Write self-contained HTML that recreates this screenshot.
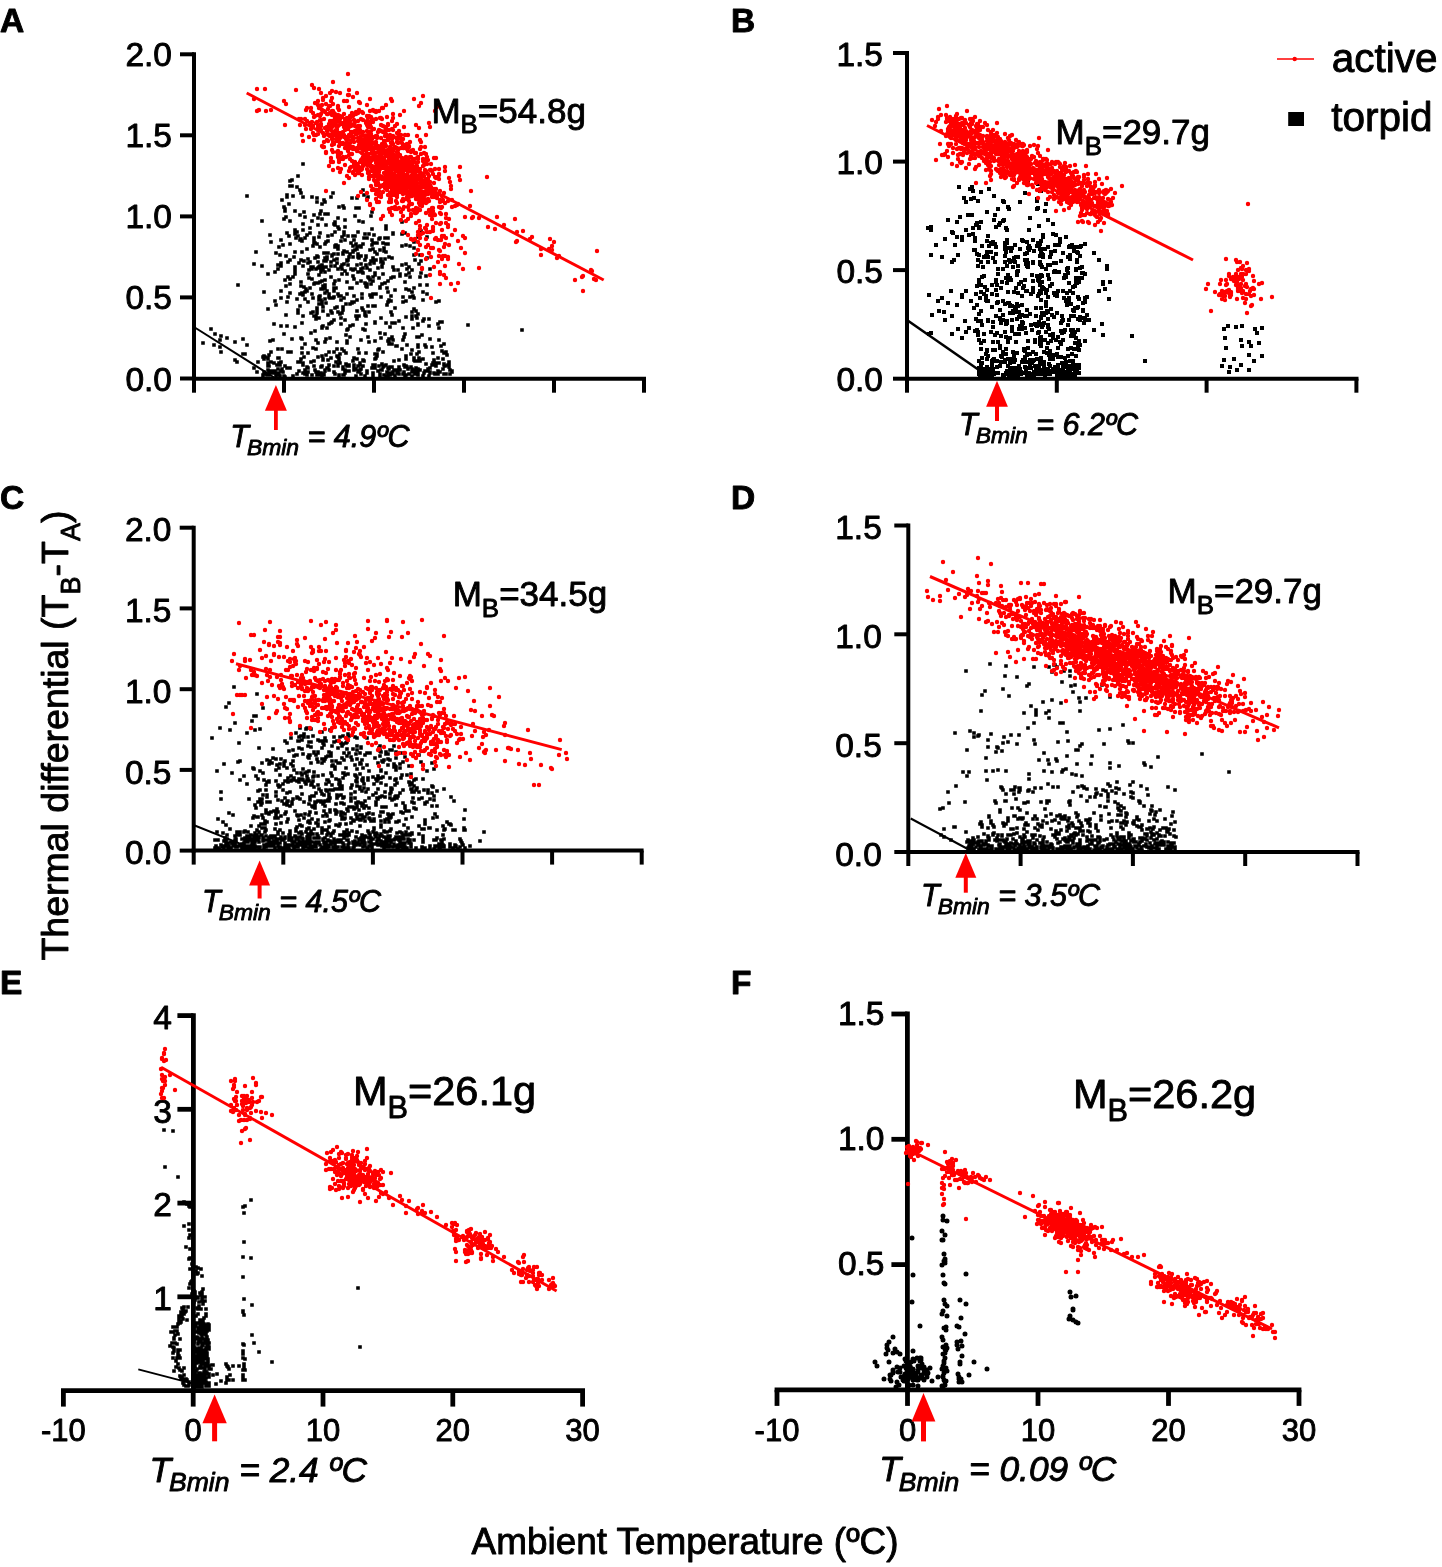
<!DOCTYPE html>
<html><head><meta charset="utf-8"><style>
html,body{margin:0;padding:0;background:#fff;width:1442px;height:1567px;overflow:hidden}
svg{display:block;will-change:transform}
text{font-family:"Liberation Sans", sans-serif;stroke:#000;stroke-width:0.9px;stroke-linejoin:round}
</style></head><body>
<svg width="1442" height="1567" viewBox="0 0 1442 1567" font-family='"Liberation Sans", sans-serif'><text x="0.0" y="31.5" font-size="33.5" text-anchor="start" font-weight="bold" font-style="normal" fill="#000" >A</text>
<line x1="194.0" y1="52.3" x2="194.0" y2="380.7" stroke="#000" stroke-width="4" stroke-linecap="butt"/>
<line x1="192.0" y1="378.7" x2="646.0" y2="378.7" stroke="#000" stroke-width="4" stroke-linecap="butt"/>
<line x1="180.0" y1="54.3" x2="194.0" y2="54.3" stroke="#000" stroke-width="4" stroke-linecap="butt"/>
<line x1="180.0" y1="135.3" x2="194.0" y2="135.3" stroke="#000" stroke-width="4" stroke-linecap="butt"/>
<line x1="180.0" y1="216.4" x2="194.0" y2="216.4" stroke="#000" stroke-width="4" stroke-linecap="butt"/>
<line x1="180.0" y1="297.4" x2="194.0" y2="297.4" stroke="#000" stroke-width="4" stroke-linecap="butt"/>
<line x1="180.0" y1="378.5" x2="194.0" y2="378.5" stroke="#000" stroke-width="4" stroke-linecap="butt"/>
<line x1="194.0" y1="378.7" x2="194.0" y2="392.7" stroke="#000" stroke-width="4" stroke-linecap="butt"/>
<line x1="284.0" y1="378.7" x2="284.0" y2="392.7" stroke="#000" stroke-width="4" stroke-linecap="butt"/>
<line x1="374.0" y1="378.7" x2="374.0" y2="392.7" stroke="#000" stroke-width="4" stroke-linecap="butt"/>
<line x1="464.0" y1="378.7" x2="464.0" y2="392.7" stroke="#000" stroke-width="4" stroke-linecap="butt"/>
<line x1="554.0" y1="378.7" x2="554.0" y2="392.7" stroke="#000" stroke-width="4" stroke-linecap="butt"/>
<line x1="644.0" y1="378.7" x2="644.0" y2="392.7" stroke="#000" stroke-width="4" stroke-linecap="butt"/>
<text x="172.0" y="66.3" font-size="33.5" text-anchor="end" font-weight="normal" font-style="normal" fill="#000" >2.0</text>
<text x="172.0" y="147.3" font-size="33.5" text-anchor="end" font-weight="normal" font-style="normal" fill="#000" >1.5</text>
<text x="172.0" y="228.4" font-size="33.5" text-anchor="end" font-weight="normal" font-style="normal" fill="#000" >1.0</text>
<text x="172.0" y="309.4" font-size="33.5" text-anchor="end" font-weight="normal" font-style="normal" fill="#000" >0.5</text>
<text x="172.0" y="390.5" font-size="33.5" text-anchor="end" font-weight="normal" font-style="normal" fill="#000" >0.0</text>
<text x="731.0" y="31.5" font-size="33.5" text-anchor="start" font-weight="bold" font-style="normal" fill="#000" >B</text>
<line x1="907.0" y1="51.0" x2="907.0" y2="380.7" stroke="#000" stroke-width="4" stroke-linecap="butt"/>
<line x1="905.0" y1="378.7" x2="1358.5" y2="378.7" stroke="#000" stroke-width="4" stroke-linecap="butt"/>
<line x1="893.0" y1="53.0" x2="907.0" y2="53.0" stroke="#000" stroke-width="4" stroke-linecap="butt"/>
<line x1="893.0" y1="161.6" x2="907.0" y2="161.6" stroke="#000" stroke-width="4" stroke-linecap="butt"/>
<line x1="893.0" y1="270.1" x2="907.0" y2="270.1" stroke="#000" stroke-width="4" stroke-linecap="butt"/>
<line x1="893.0" y1="378.7" x2="907.0" y2="378.7" stroke="#000" stroke-width="4" stroke-linecap="butt"/>
<line x1="907.0" y1="378.7" x2="907.0" y2="392.7" stroke="#000" stroke-width="4" stroke-linecap="butt"/>
<line x1="1056.8" y1="378.7" x2="1056.8" y2="392.7" stroke="#000" stroke-width="4" stroke-linecap="butt"/>
<line x1="1206.6" y1="378.7" x2="1206.6" y2="392.7" stroke="#000" stroke-width="4" stroke-linecap="butt"/>
<line x1="1356.4" y1="378.7" x2="1356.4" y2="392.7" stroke="#000" stroke-width="4" stroke-linecap="butt"/>
<text x="883.0" y="65.7" font-size="33.5" text-anchor="end" font-weight="normal" font-style="normal" fill="#000" >1.5</text>
<text x="883.0" y="174.3" font-size="33.5" text-anchor="end" font-weight="normal" font-style="normal" fill="#000" >1.0</text>
<text x="883.0" y="282.8" font-size="33.5" text-anchor="end" font-weight="normal" font-style="normal" fill="#000" >0.5</text>
<text x="883.0" y="391.4" font-size="33.5" text-anchor="end" font-weight="normal" font-style="normal" fill="#000" >0.0</text>
<text x="0.0" y="509.0" font-size="33.5" text-anchor="start" font-weight="bold" font-style="normal" fill="#000" >C</text>
<line x1="193.7" y1="525.7" x2="193.7" y2="852.6" stroke="#000" stroke-width="4" stroke-linecap="butt"/>
<line x1="191.7" y1="850.6" x2="643.6" y2="850.6" stroke="#000" stroke-width="4" stroke-linecap="butt"/>
<line x1="179.7" y1="527.7" x2="193.7" y2="527.7" stroke="#000" stroke-width="4" stroke-linecap="butt"/>
<line x1="179.7" y1="608.4" x2="193.7" y2="608.4" stroke="#000" stroke-width="4" stroke-linecap="butt"/>
<line x1="179.7" y1="689.2" x2="193.7" y2="689.2" stroke="#000" stroke-width="4" stroke-linecap="butt"/>
<line x1="179.7" y1="769.9" x2="193.7" y2="769.9" stroke="#000" stroke-width="4" stroke-linecap="butt"/>
<line x1="179.7" y1="850.6" x2="193.7" y2="850.6" stroke="#000" stroke-width="4" stroke-linecap="butt"/>
<line x1="193.7" y1="850.6" x2="193.7" y2="864.6" stroke="#000" stroke-width="4" stroke-linecap="butt"/>
<line x1="283.3" y1="850.6" x2="283.3" y2="864.6" stroke="#000" stroke-width="4" stroke-linecap="butt"/>
<line x1="372.9" y1="850.6" x2="372.9" y2="864.6" stroke="#000" stroke-width="4" stroke-linecap="butt"/>
<line x1="462.5" y1="850.6" x2="462.5" y2="864.6" stroke="#000" stroke-width="4" stroke-linecap="butt"/>
<line x1="552.1" y1="850.6" x2="552.1" y2="864.6" stroke="#000" stroke-width="4" stroke-linecap="butt"/>
<line x1="641.7" y1="850.6" x2="641.7" y2="864.6" stroke="#000" stroke-width="4" stroke-linecap="butt"/>
<text x="171.5" y="541.4" font-size="33.5" text-anchor="end" font-weight="normal" font-style="normal" fill="#000" >2.0</text>
<text x="171.5" y="622.1" font-size="33.5" text-anchor="end" font-weight="normal" font-style="normal" fill="#000" >1.5</text>
<text x="171.5" y="702.9" font-size="33.5" text-anchor="end" font-weight="normal" font-style="normal" fill="#000" >1.0</text>
<text x="171.5" y="783.6" font-size="33.5" text-anchor="end" font-weight="normal" font-style="normal" fill="#000" >0.5</text>
<text x="171.5" y="864.3" font-size="33.5" text-anchor="end" font-weight="normal" font-style="normal" fill="#000" >0.0</text>
<text x="731.0" y="508.5" font-size="33.5" text-anchor="start" font-weight="bold" font-style="normal" fill="#000" >D</text>
<line x1="908.3" y1="523.5" x2="908.3" y2="854.0" stroke="#000" stroke-width="4" stroke-linecap="butt"/>
<line x1="906.3" y1="852.0" x2="1359.5" y2="852.0" stroke="#000" stroke-width="4" stroke-linecap="butt"/>
<line x1="894.3" y1="525.5" x2="908.3" y2="525.5" stroke="#000" stroke-width="4" stroke-linecap="butt"/>
<line x1="894.3" y1="634.3" x2="908.3" y2="634.3" stroke="#000" stroke-width="4" stroke-linecap="butt"/>
<line x1="894.3" y1="743.2" x2="908.3" y2="743.2" stroke="#000" stroke-width="4" stroke-linecap="butt"/>
<line x1="894.3" y1="852.0" x2="908.3" y2="852.0" stroke="#000" stroke-width="4" stroke-linecap="butt"/>
<line x1="908.3" y1="852.0" x2="908.3" y2="866.0" stroke="#000" stroke-width="4" stroke-linecap="butt"/>
<line x1="1020.6" y1="852.0" x2="1020.6" y2="866.0" stroke="#000" stroke-width="4" stroke-linecap="butt"/>
<line x1="1132.9" y1="852.0" x2="1132.9" y2="866.0" stroke="#000" stroke-width="4" stroke-linecap="butt"/>
<line x1="1245.2" y1="852.0" x2="1245.2" y2="866.0" stroke="#000" stroke-width="4" stroke-linecap="butt"/>
<line x1="1357.5" y1="852.0" x2="1357.5" y2="866.0" stroke="#000" stroke-width="4" stroke-linecap="butt"/>
<text x="881.8" y="539.0" font-size="33.5" text-anchor="end" font-weight="normal" font-style="normal" fill="#000" >1.5</text>
<text x="881.8" y="647.8" font-size="33.5" text-anchor="end" font-weight="normal" font-style="normal" fill="#000" >1.0</text>
<text x="881.8" y="756.7" font-size="33.5" text-anchor="end" font-weight="normal" font-style="normal" fill="#000" >0.5</text>
<text x="881.8" y="865.5" font-size="33.5" text-anchor="end" font-weight="normal" font-style="normal" fill="#000" >0.0</text>
<text x="0.0" y="993.5" font-size="33.5" text-anchor="start" font-weight="bold" font-style="normal" fill="#000" >E</text>
<line x1="193.4" y1="1013.2" x2="193.4" y2="1393.0" stroke="#000" stroke-width="4.8" stroke-linecap="butt"/>
<line x1="61.0" y1="1390.6" x2="585.0" y2="1390.6" stroke="#000" stroke-width="4.8" stroke-linecap="butt"/>
<line x1="177.4" y1="1015.6" x2="193.4" y2="1015.6" stroke="#000" stroke-width="4.8" stroke-linecap="butt"/>
<line x1="177.4" y1="1109.3" x2="193.4" y2="1109.3" stroke="#000" stroke-width="4.8" stroke-linecap="butt"/>
<line x1="177.4" y1="1203.1" x2="193.4" y2="1203.1" stroke="#000" stroke-width="4.8" stroke-linecap="butt"/>
<line x1="177.4" y1="1296.8" x2="193.4" y2="1296.8" stroke="#000" stroke-width="4.8" stroke-linecap="butt"/>
<line x1="63.4" y1="1390.6" x2="63.4" y2="1406.6" stroke="#000" stroke-width="4.8" stroke-linecap="butt"/>
<line x1="193.2" y1="1390.6" x2="193.2" y2="1406.6" stroke="#000" stroke-width="4.8" stroke-linecap="butt"/>
<line x1="323.0" y1="1390.6" x2="323.0" y2="1406.6" stroke="#000" stroke-width="4.8" stroke-linecap="butt"/>
<line x1="452.8" y1="1390.6" x2="452.8" y2="1406.6" stroke="#000" stroke-width="4.8" stroke-linecap="butt"/>
<line x1="582.6" y1="1390.6" x2="582.6" y2="1406.6" stroke="#000" stroke-width="4.8" stroke-linecap="butt"/>
<text x="172.0" y="1028.9" font-size="33.5" text-anchor="end" font-weight="normal" font-style="normal" fill="#000" >4</text>
<text x="172.0" y="1122.6" font-size="33.5" text-anchor="end" font-weight="normal" font-style="normal" fill="#000" >3</text>
<text x="172.0" y="1216.4" font-size="33.5" text-anchor="end" font-weight="normal" font-style="normal" fill="#000" >2</text>
<text x="172.0" y="1310.1" font-size="33.5" text-anchor="end" font-weight="normal" font-style="normal" fill="#000" >1</text>
<text x="63.4" y="1440.6" font-size="31" text-anchor="middle" font-weight="normal" font-style="normal" fill="#000" >-10</text>
<text x="193.2" y="1440.6" font-size="31" text-anchor="middle" font-weight="normal" font-style="normal" fill="#000" >0</text>
<text x="323.0" y="1440.6" font-size="31" text-anchor="middle" font-weight="normal" font-style="normal" fill="#000" >10</text>
<text x="452.8" y="1440.6" font-size="31" text-anchor="middle" font-weight="normal" font-style="normal" fill="#000" >20</text>
<text x="582.6" y="1440.6" font-size="31" text-anchor="middle" font-weight="normal" font-style="normal" fill="#000" >30</text>
<text x="731.0" y="993.5" font-size="33.5" text-anchor="start" font-weight="bold" font-style="normal" fill="#000" >F</text>
<line x1="907.4" y1="1011.6" x2="907.4" y2="1392.3" stroke="#000" stroke-width="4.8" stroke-linecap="butt"/>
<line x1="774.6" y1="1389.9" x2="1301.4" y2="1389.9" stroke="#000" stroke-width="4.8" stroke-linecap="butt"/>
<line x1="891.4" y1="1014.0" x2="907.4" y2="1014.0" stroke="#000" stroke-width="4.8" stroke-linecap="butt"/>
<line x1="891.4" y1="1139.3" x2="907.4" y2="1139.3" stroke="#000" stroke-width="4.8" stroke-linecap="butt"/>
<line x1="891.4" y1="1264.6" x2="907.4" y2="1264.6" stroke="#000" stroke-width="4.8" stroke-linecap="butt"/>
<line x1="777.0" y1="1389.9" x2="777.0" y2="1405.9" stroke="#000" stroke-width="4.8" stroke-linecap="butt"/>
<line x1="907.5" y1="1389.9" x2="907.5" y2="1405.9" stroke="#000" stroke-width="4.8" stroke-linecap="butt"/>
<line x1="1038.0" y1="1389.9" x2="1038.0" y2="1405.9" stroke="#000" stroke-width="4.8" stroke-linecap="butt"/>
<line x1="1168.5" y1="1389.9" x2="1168.5" y2="1405.9" stroke="#000" stroke-width="4.8" stroke-linecap="butt"/>
<line x1="1299.0" y1="1389.9" x2="1299.0" y2="1405.9" stroke="#000" stroke-width="4.8" stroke-linecap="butt"/>
<text x="884.5" y="1024.6" font-size="33.5" text-anchor="end" font-weight="normal" font-style="normal" fill="#000" >1.5</text>
<text x="884.5" y="1149.9" font-size="33.5" text-anchor="end" font-weight="normal" font-style="normal" fill="#000" >1.0</text>
<text x="884.5" y="1275.2" font-size="33.5" text-anchor="end" font-weight="normal" font-style="normal" fill="#000" >0.5</text>
<text x="777.0" y="1441.4" font-size="31" text-anchor="middle" font-weight="normal" font-style="normal" fill="#000" >-10</text>
<text x="907.5" y="1441.4" font-size="31" text-anchor="middle" font-weight="normal" font-style="normal" fill="#000" >0</text>
<text x="1038.0" y="1441.4" font-size="31" text-anchor="middle" font-weight="normal" font-style="normal" fill="#000" >10</text>
<text x="1168.5" y="1441.4" font-size="31" text-anchor="middle" font-weight="normal" font-style="normal" fill="#000" >20</text>
<text x="1299.0" y="1441.4" font-size="31" text-anchor="middle" font-weight="normal" font-style="normal" fill="#000" >30</text>
<path d="M297 187h0M303 164h0M298 176h0M300 190h0M290 181h0M292 186h0M292 180h0M290 186h0M325 202h0M312 221h0M359 221h0M325 214h0M326 225h0M317 198h0M282 200h0M338 227h0M303 224h0M352 198h0M364 195h0M355 216h0M344 208h0M363 190h0M304 212h0M367 199h0M286 217h0M321 211h0M290 221h0M356 208h0M335 225h0M285 211h0M303 197h0M295 211h0M322 204h0M284 219h0M368 197h0M335 222h0M289 204h0M372 212h0M317 202h0M359 208h0M363 222h0M328 214h0M284 207h0M345 227h0M343 206h0M285 209h0M339 229h0M318 218h0M333 193h0M312 197h0M287 197h0M334 224h0M339 207h0M314 215h0M318 225h0M345 220h0M322 219h0M310 228h0M324 200h0M371 216h0M386 229h0M372 229h0M287 195h0M301 193h0M293 196h0M357 198h0M338 218h0M331 197h0M334 284h0M349 257h0M325 299h0M313 267h0M412 312h0M312 279h0M325 280h0M337 247h0M327 259h0M330 298h0M359 258h0M325 285h0M379 278h0M318 262h0M286 256h0M303 293h0M315 283h0M310 262h0M335 281h0M332 313h0M383 274h0M256 252h0M362 308h0M394 277h0M276 253h0M338 312h0M326 267h0M410 297h0M356 244h0M380 287h0M308 274h0M341 267h0M323 270h0M268 309h0M318 268h0M314 240h0M312 269h0M300 215h0M238 285h0M341 296h0M402 234h0M352 288h0M343 253h0M326 253h0M343 307h0M299 263h0M383 243h0M421 231h0M314 238h0M320 296h0M370 270h0M311 267h0M339 296h0M288 277h0M362 272h0M295 267h0M321 272h0M298 236h0M382 267h0M308 259h0M365 260h0M288 262h0M323 289h0M329 270h0M335 266h0M348 236h0M370 295h0M331 277h0M351 269h0M402 265h0M325 244h0M254 264h0M373 249h0M315 258h0M323 267h0M325 272h0M300 240h0M388 302h0M358 254h0M262 266h0M350 288h0M329 294h0M391 312h0M361 256h0M427 237h0M337 259h0M353 252h0M376 260h0M354 279h0M373 306h0M347 261h0M367 285h0M319 267h0M344 232h0M386 252h0M338 254h0M371 297h0M381 259h0M325 293h0M366 256h0M331 323h0M334 254h0M426 276h0M317 310h0M393 277h0M380 288h0M320 282h0M369 234h0M332 256h0M287 233h0M354 240h0M375 275h0M361 281h0M323 286h0M373 277h0M355 236h0M381 262h0M358 272h0M262 221h0M355 269h0M367 287h0M347 252h0M386 226h0M326 267h0M295 273h0M353 246h0M345 271h0M348 265h0M358 232h0M415 260h0M309 278h0M319 275h0M363 310h0M290 293h0M305 217h0M280 255h0M360 246h0M264 292h0M358 257h0M388 292h0M427 294h0M340 314h0M324 261h0M370 264h0M353 251h0M347 282h0M297 299h0M275 272h0M271 242h0M353 257h0M331 262h0M368 277h0M347 294h0M325 288h0M313 298h0M355 250h0M382 284h0M381 297h0M308 263h0M316 269h0M281 291h0M302 241h0M323 307h0M337 307h0M341 241h0M342 237h0M366 286h0M363 268h0M361 271h0M378 268h0M307 249h0M369 278h0M294 257h0M314 316h0M407 269h0M328 241h0M338 269h0M414 255h0M363 273h0M350 254h0M331 266h0M329 297h0M320 214h0M402 222h0M373 243h0M361 264h0M376 243h0M321 269h0M365 312h0M301 282h0M373 281h0M268 274h0M377 254h0M300 294h0M332 255h0M295 270h0M317 256h0M303 266h0M344 264h0M344 251h0M423 292h0M304 261h0M383 263h0M403 328h0M361 340h0M388 244h0M353 276h0M313 246h0M356 316h0M315 243h0M283 245h0M389 300h0M350 337h0M281 326h0M395 308h0M374 263h0M316 340h0M295 234h0M370 280h0M319 318h0M372 240h0M329 324h0M362 298h0M327 291h0M281 266h0M353 325h0M318 257h0M365 330h0M375 322h0M288 297h0M414 298h0M371 261h0M388 281h0M398 270h0M439 340h0M409 273h0M418 324h0M335 308h0M290 284h0M393 233h0M420 255h0M412 319h0M368 337h0M324 253h0M382 262h0M322 302h0M319 300h0M403 340h0M372 245h0M389 339h0M303 230h0M298 313h0M322 328h0M368 306h0M290 244h0M332 322h0M328 236h0M386 244h0M405 233h0M414 242h0M286 286h0M357 319h0M306 289h0M367 284h0M320 266h0M285 280h0M317 244h0M427 258h0M430 269h0M384 248h0M310 233h0M390 327h0M429 326h0M322 304h0M375 306h0M352 302h0M416 316h0M365 234h0M364 238h0M363 268h0M332 235h0M328 315h0M373 261h0M307 235h0M295 252h0M314 284h0M375 273h0M301 260h0M439 328h0M334 260h0M406 275h0M380 250h0M400 276h0M427 285h0M367 285h0M296 238h0M393 267h0M386 323h0M322 265h0M344 298h0M286 315h0M406 301h0M342 265h0M326 303h0M438 324h0M420 277h0M309 270h0M303 316h0M335 246h0M302 339h0M374 235h0M343 254h0M284 334h0M302 293h0M326 261h0M304 287h0M275 301h0M357 247h0M320 233h0M334 320h0M353 236h0M417 318h0M417 337h0M367 268h0M367 238h0M375 323h0M395 290h0M369 312h0M430 339h0M311 313h0M416 311h0M385 259h0M406 264h0M312 294h0M420 285h0M295 230h0M354 302h0M325 258h0M293 277h0M381 318h0M406 289h0M359 316h0M345 320h0M393 234h0M392 315h0M321 289h0M305 299h0M377 243h0M419 264h0M322 281h0M380 238h0M375 252h0M278 269h0M319 304h0M337 263h0M409 267h0M339 280h0M347 260h0M323 326h0M371 284h0M345 240h0M376 294h0M292 339h0M403 297h0M413 296h0M418 314h0M347 330h0M381 338h0M414 248h0M405 334h0M330 338h0M295 327h0M289 236h0M351 243h0M361 269h0M365 283h0M402 246h0M353 246h0M307 291h0M333 298h0M301 294h0M334 288h0M382 266h0M412 270h0M319 267h0M380 333h0M302 323h0M344 235h0M300 306h0M414 288h0M342 313h0M346 304h0M436 302h0M335 247h0M423 321h0M295 231h0M385 334h0M370 250h0M328 253h0M348 260h0M321 300h0M391 296h0M281 240h0M412 318h0M357 283h0M322 327h0M429 319h0M323 311h0M385 283h0M338 246h0M287 302h0M406 317h0M308 302h0M409 290h0M310 288h0M287 326h0M412 292h0M366 257h0M357 300h0M274 324h0M413 328h0M373 294h0M338 294h0M423 300h0M424 319h0M295 274h0M412 316h0M442 322h0M348 329h0M298 310h0M363 329h0M392 323h0M331 311h0M372 297h0M281 298h0M391 278h0M419 337h0M347 341h0M326 339h0M385 238h0M290 260h0M361 247h0M314 243h0M352 303h0M353 270h0M421 261h0M387 305h0M327 257h0M281 263h0M290 279h0M343 310h0M278 265h0M317 308h0M347 274h0M279 247h0M320 247h0M319 237h0M303 295h0M354 296h0M316 316h0M414 309h0M342 274h0M301 338h0M421 273h0M273 340h0M301 239h0M305 292h0M393 340h0M357 265h0M392 338h0M395 323h0M406 245h0M418 237h0M410 277h0M404 337h0M318 283h0M341 300h0M350 326h0M410 246h0M335 232h0M341 324h0M400 274h0M387 288h0M336 245h0M365 315h0M375 341h0M305 238h0M366 265h0M379 239h0M317 313h0M440 322h0M338 249h0M391 301h0M311 333h0M301 286h0M394 270h0M363 244h0M439 301h0M334 291h0M341 318h0M418 325h0M346 335h0M388 238h0M405 282h0M327 328h0M392 337h0M297 232h0M315 331h0M302 252h0M388 341h0M357 249h0M355 269h0M276 305h0M373 258h0M342 269h0M316 319h0M357 311h0M399 321h0M384 251h0M392 258h0M319 297h0M313 312h0M336 288h0M334 297h0M403 302h0M366 324h0M389 257h0M362 294h0M326 242h0M350 304h0M425 371h0M361 369h0M344 375h0M394 361h0M378 371h0M279 358h0M444 374h0M399 360h0M449 362h0M326 355h0M320 374h0M375 365h0M439 363h0M392 344h0M303 373h0M277 365h0M335 374h0M363 360h0M305 344h0M349 371h0M417 361h0M397 370h0M426 364h0M388 377h0M360 365h0M308 368h0M283 372h0M336 362h0M430 373h0M268 370h0M434 365h0M322 376h0M349 365h0M311 362h0M318 372h0M423 376h0M367 373h0M334 366h0M404 372h0M373 376h0M374 368h0M383 352h0M426 347h0M343 375h0M388 368h0M346 371h0M340 363h0M392 367h0M358 366h0M432 365h0M423 359h0M417 371h0M316 349h0M340 354h0M321 367h0M418 375h0M304 357h0M360 363h0M275 371h0M356 369h0M279 375h0M435 374h0M382 364h0M345 370h0M343 367h0M312 375h0M405 367h0M354 365h0M263 357h0M423 377h0M320 375h0M281 371h0M300 362h0M356 376h0M322 366h0M390 375h0M321 373h0M375 368h0M424 373h0M428 369h0M339 358h0M440 372h0M399 374h0M389 369h0M271 371h0M329 370h0M339 375h0M280 365h0M360 370h0M339 360h0M452 371h0M322 377h0M290 368h0M422 335h0M413 370h0M278 369h0M279 374h0M367 371h0M305 370h0M418 373h0M303 365h0M323 360h0M416 369h0M445 366h0M446 374h0M329 365h0M305 373h0M381 370h0M293 376h0M269 375h0M434 373h0M358 372h0M387 372h0M276 375h0M395 376h0M307 375h0M429 376h0M390 373h0M343 369h0M347 366h0M314 366h0M406 375h0M408 369h0M297 374h0M342 349h0M443 369h0M269 366h0M272 371h0M430 372h0M354 358h0M444 364h0M269 355h0M284 376h0M390 367h0M361 374h0M399 367h0M389 342h0M345 373h0M280 376h0M416 368h0M432 347h0M354 370h0M405 375h0M327 368h0M322 356h0M412 350h0M443 359h0M338 366h0M282 371h0M383 367h0M397 373h0M375 354h0M325 370h0M267 375h0M425 345h0M349 366h0M415 361h0M452 372h0M324 374h0M415 374h0M353 361h0M299 371h0M325 371h0M420 360h0M324 375h0M388 374h0M358 349h0M428 371h0M271 352h0M366 316h0M450 370h0M281 371h0M316 372h0M393 374h0M337 356h0M412 369h0M399 368h0M377 356h0M278 373h0M414 371h0M269 372h0M418 337h0M380 374h0M384 366h0M269 373h0M317 375h0M338 364h0M405 376h0M301 359h0M339 376h0M414 360h0M287 368h0M404 365h0M308 372h0M388 373h0M394 370h0M373 373h0M328 360h0M365 376h0M269 373h0M395 376h0M281 362h0M305 374h0M314 361h0M282 369h0M407 367h0M412 376h0M400 370h0M264 372h0M268 363h0M334 372h0M411 367h0M420 370h0M380 376h0M338 357h0M263 377h0M275 373h0M448 365h0M403 374h0M337 349h0M263 375h0M450 374h0M282 349h0M438 363h0M363 366h0M441 346h0M346 364h0M402 349h0M334 352h0M264 359h0M274 363h0M386 376h0M359 371h0M325 342h0M265 374h0M419 358h0M318 357h0M435 363h0M346 353h0M417 354h0M329 352h0M411 354h0M271 362h0M307 367h0M438 374h0M407 345h0M354 368h0M396 346h0M285 377h0M308 353h0M359 353h0M278 358h0M272 373h0M328 368h0M276 377h0M375 359h0M372 368h0M448 365h0M384 375h0M418 345h0M318 343h0M376 358h0M444 365h0M279 363h0M268 358h0M433 353h0M369 342h0M320 375h0M434 373h0M315 370h0M364 361h0M303 363h0M418 347h0M430 368h0M442 351h0M268 359h0M436 366h0M357 359h0M446 352h0M343 367h0M414 358h0M444 344h0M389 344h0M278 349h0M323 359h0M373 365h0M409 374h0M331 358h0M288 352h0M382 370h0M418 369h0M406 356h0M438 371h0M347 343h0M449 364h0M270 341h0M302 353h0M398 371h0M379 366h0M393 372h0M438 358h0M337 342h0M379 349h0M434 360h0M378 350h0M285 366h0M406 359h0M433 363h0M419 352h0M406 366h0M386 365h0M366 353h0M447 355h0M291 352h0M437 374h0M420 361h0M377 354h0M444 353h0M449 367h0M344 351h0M298 362h0M265 357h0M302 348h0M417 371h0M264 356h0M412 372h0M397 346h0M313 348h0M278 373h0M221 336h0M245 354h0M258 362h0M214 345h0M211 329h0M243 354h0M235 342h0M257 372h0M220 340h0M220 347h0M254 368h0M203 343h0M235 360h0M237 362h0M227 338h0M215 334h0M221 352h0M268 366h0M243 339h0M247 345h0M247 196h0M468 325h0M522 330h0M270 235h0" stroke="#000" stroke-width="3.6" stroke-linecap="square"/>
<path d="M389 183h0M403 139h0M388 138h0M404 148h0M402 185h0M435 215h0M408 171h0M345 165h0M378 168h0M380 176h0M349 90h0M370 204h0M331 101h0M393 154h0M376 143h0M408 179h0M400 142h0M379 196h0M402 165h0M337 133h0M395 161h0M319 89h0M356 114h0M398 143h0M356 167h0M356 134h0M405 158h0M330 121h0M425 147h0M374 137h0M436 158h0M388 124h0M348 129h0M369 141h0M374 111h0M388 195h0M381 146h0M412 190h0M375 172h0M361 119h0M394 137h0M376 156h0M389 173h0M338 117h0M377 175h0M411 171h0M386 130h0M373 129h0M342 117h0M390 199h0M389 158h0M379 172h0M390 170h0M375 143h0M432 219h0M343 144h0M353 138h0M360 145h0M365 136h0M386 173h0M311 129h0M333 82h0M357 148h0M382 144h0M408 178h0M368 165h0M333 170h0M417 183h0M379 158h0M396 178h0M367 121h0M428 160h0M341 153h0M331 130h0M383 216h0M417 189h0M333 152h0M399 208h0M426 193h0M383 132h0M383 178h0M359 145h0M391 202h0M361 136h0M363 120h0M394 189h0M371 143h0M341 169h0M366 137h0M348 146h0M387 117h0M386 164h0M374 153h0M383 167h0M406 193h0M402 190h0M397 166h0M397 139h0M390 212h0M388 140h0M394 160h0M426 154h0M411 214h0M417 136h0M353 172h0M395 147h0M384 160h0M345 127h0M397 192h0M407 185h0M361 140h0M432 211h0M414 159h0M412 186h0M431 187h0M380 150h0M366 137h0M384 159h0M367 193h0M391 178h0M338 168h0M382 108h0M380 165h0M338 155h0M349 95h0M382 148h0M366 159h0M359 173h0M329 129h0M439 207h0M389 195h0M387 156h0M314 88h0M413 183h0M350 143h0M380 169h0M370 164h0M340 172h0M404 169h0M400 175h0M396 158h0M378 146h0M364 155h0M367 131h0M398 143h0M374 154h0M387 156h0M296 90h0M397 148h0M403 167h0M355 122h0M385 141h0M354 148h0M429 176h0M338 156h0M370 136h0M367 146h0M378 164h0M407 192h0M424 153h0M367 200h0M343 157h0M360 126h0M379 111h0M381 131h0M424 162h0M303 141h0M372 153h0M452 200h0M338 115h0M380 147h0M406 146h0M414 177h0M353 173h0M333 104h0M417 194h0M399 163h0M401 187h0M370 122h0M357 134h0M391 99h0M352 133h0M399 168h0M338 106h0M410 142h0M378 132h0M382 157h0M347 142h0M384 141h0M379 178h0M367 125h0M412 162h0M376 184h0M373 154h0M366 151h0M359 102h0M400 115h0M397 203h0M390 147h0M362 144h0M355 162h0M351 148h0M386 127h0M398 190h0M384 153h0M382 153h0M350 143h0M391 165h0M377 138h0M364 142h0M348 95h0M391 143h0M408 172h0M363 166h0M409 177h0M358 166h0M363 113h0M385 127h0M348 144h0M414 180h0M392 144h0M407 179h0M353 132h0M378 167h0M417 196h0M332 111h0M425 162h0M420 140h0M436 178h0M407 164h0M440 202h0M421 147h0M394 137h0M318 101h0M355 169h0M404 167h0M386 177h0M344 137h0M374 168h0M389 184h0M389 179h0M385 188h0M371 137h0M403 174h0M405 165h0M350 121h0M362 132h0M405 145h0M355 126h0M363 165h0M393 130h0M426 191h0M406 175h0M326 191h0M340 138h0M394 158h0M395 185h0M379 163h0M385 132h0M337 131h0M360 162h0M346 157h0M340 133h0M349 123h0M422 200h0M391 160h0M393 136h0M382 153h0M412 187h0M369 144h0M387 151h0M432 171h0M392 121h0M355 167h0M424 196h0M381 163h0M385 151h0M357 93h0M349 124h0M401 135h0M371 149h0M427 189h0M336 126h0M372 166h0M405 181h0M370 144h0M381 178h0M432 196h0M392 208h0M362 133h0M409 193h0M400 179h0M434 197h0M385 131h0M358 113h0M393 159h0M460 180h0M363 132h0M401 179h0M418 193h0M352 113h0M404 160h0M398 133h0M372 147h0M414 161h0M321 120h0M384 163h0M372 119h0M347 125h0M408 135h0M367 116h0M363 142h0M386 154h0M386 186h0M323 147h0M357 164h0M381 197h0M338 151h0M389 138h0M416 223h0M427 202h0M387 181h0M348 139h0M353 116h0M379 148h0M362 153h0M417 180h0M400 171h0M379 130h0M365 157h0M347 101h0M345 130h0M404 168h0M326 152h0M385 163h0M374 129h0M419 170h0M357 171h0M337 134h0M380 163h0M437 177h0M384 168h0M416 153h0M321 124h0M420 149h0M435 177h0M420 188h0M417 212h0M411 152h0M334 133h0M351 167h0M388 161h0M328 141h0M382 177h0M408 151h0M367 169h0M348 151h0M402 172h0M333 162h0M338 126h0M393 158h0M381 168h0M381 164h0M361 192h0M425 170h0M335 117h0M405 170h0M384 147h0M345 148h0M372 139h0M362 149h0M332 150h0M372 170h0M370 139h0M405 162h0M363 162h0M347 137h0M349 145h0M380 164h0M431 164h0M392 139h0M396 166h0M434 214h0M350 125h0M337 119h0M371 117h0M332 115h0M370 111h0M388 150h0M335 132h0M385 136h0M344 101h0M376 170h0M369 159h0M358 121h0M416 182h0M376 163h0M371 141h0M392 184h0M397 152h0M375 160h0M434 189h0M370 146h0M421 178h0M385 127h0M357 130h0M386 151h0M361 170h0M344 135h0M370 144h0M380 158h0M373 122h0M398 172h0M339 160h0M386 146h0M340 133h0M392 151h0M375 190h0M381 138h0M369 172h0M415 191h0M392 150h0M435 169h0M419 199h0M402 143h0M372 176h0M421 179h0M436 189h0M349 107h0M364 145h0M364 139h0M371 158h0M335 114h0M428 193h0M388 125h0M369 179h0M424 173h0M334 144h0M410 163h0M374 172h0M385 144h0M370 205h0M391 168h0M409 147h0M445 171h0M383 192h0M358 173h0M420 200h0M376 185h0M336 130h0M373 154h0M365 161h0M389 163h0M388 150h0M343 159h0M374 149h0M366 164h0M370 126h0M375 153h0M346 139h0M392 188h0M389 180h0M391 180h0M404 190h0M340 93h0M370 159h0M332 139h0M358 196h0M362 175h0M400 190h0M397 142h0M358 168h0M403 173h0M392 137h0M403 173h0M386 156h0M390 161h0M363 157h0M347 176h0M375 181h0M374 147h0M416 125h0M362 140h0M354 164h0M430 187h0M370 161h0M389 137h0M339 162h0M345 165h0M405 135h0M368 173h0M404 163h0M386 165h0M368 127h0M393 114h0M359 128h0M423 166h0M398 176h0M369 137h0M389 163h0M449 178h0M353 149h0M365 136h0M421 187h0M359 138h0M354 120h0M392 129h0M383 149h0M351 136h0M393 150h0M362 159h0M329 166h0M459 176h0M352 154h0M413 192h0M351 140h0M487 177h0M376 119h0M381 118h0M330 93h0M380 187h0M354 138h0M380 150h0M433 174h0M395 207h0M339 155h0M424 202h0M392 142h0M347 148h0M420 229h0M341 124h0M367 140h0M386 105h0M411 179h0M286 104h0M407 144h0M376 111h0M361 160h0M364 156h0M378 152h0M369 134h0M363 150h0M396 155h0M424 202h0M401 177h0M397 169h0M341 117h0M353 125h0M384 152h0M366 158h0M443 200h0M376 181h0M390 135h0M399 131h0M391 169h0M376 168h0M392 178h0M347 140h0M386 186h0M371 136h0M423 187h0M415 175h0M398 137h0M406 165h0M313 133h0M368 171h0M376 160h0M384 158h0M351 124h0M460 167h0M386 134h0M400 163h0M371 134h0M391 161h0M367 135h0M399 166h0M381 154h0M371 171h0M362 112h0M364 147h0M368 157h0M408 158h0M332 127h0M368 126h0M340 143h0M420 196h0M366 164h0M436 223h0M372 152h0M432 194h0M391 154h0M371 186h0M344 114h0M383 126h0M439 174h0M375 143h0M349 127h0M307 121h0M329 106h0M431 170h0M407 192h0M337 152h0M382 159h0M381 125h0M376 144h0M367 105h0M413 160h0M326 153h0M434 183h0M366 148h0M330 136h0M375 174h0M338 157h0M352 161h0M344 183h0M376 194h0M333 142h0M394 163h0M378 169h0M377 190h0M359 167h0M394 187h0M350 168h0M367 154h0M358 141h0M411 182h0M356 112h0M382 151h0M353 147h0M418 159h0M369 177h0M413 150h0M366 123h0M440 200h0M301 119h0M406 157h0M372 152h0M391 155h0M331 161h0M400 165h0M358 133h0M386 135h0M368 118h0M406 175h0M403 175h0M390 164h0M399 174h0M371 143h0M327 131h0M358 131h0M393 118h0M411 168h0M397 133h0M366 158h0M380 150h0M465 238h0M355 131h0M361 142h0M386 180h0M397 124h0M403 180h0M397 142h0M409 165h0M373 110h0M366 145h0M392 169h0M336 92h0M382 179h0M399 177h0M378 158h0M382 119h0M331 162h0M439 179h0M370 134h0M396 148h0M443 201h0M349 178h0M395 178h0M322 146h0M389 130h0M392 139h0M371 161h0M393 144h0M360 148h0M399 169h0M405 177h0M372 168h0M422 206h0M329 127h0M377 147h0M400 155h0M398 149h0M373 157h0M389 170h0M328 109h0M418 209h0M331 158h0M367 158h0M376 199h0M387 155h0M337 127h0M344 127h0M374 143h0M383 161h0M403 179h0M361 145h0M369 124h0M338 116h0M395 168h0M406 170h0M371 131h0M451 189h0M382 162h0M355 131h0M386 127h0M416 153h0M378 149h0M333 121h0M369 116h0M332 91h0M370 99h0M391 158h0M396 163h0M360 103h0M359 172h0M338 108h0M393 151h0M396 201h0M409 210h0M414 184h0M388 152h0M343 135h0M350 159h0M380 164h0M379 191h0M402 160h0M402 180h0M348 74h0M351 154h0M388 151h0M450 182h0M406 158h0M400 138h0M394 148h0M423 161h0M327 127h0M324 147h0M411 151h0M359 126h0M371 127h0M393 179h0M392 164h0M405 182h0M429 211h0M419 189h0M428 180h0M407 198h0M412 196h0M396 157h0M426 182h0M421 191h0M390 152h0M373 209h0M412 204h0M383 159h0M391 176h0M402 180h0M434 189h0M416 172h0M406 221h0M420 210h0M403 168h0M427 188h0M433 211h0M428 194h0M399 190h0M396 184h0M398 180h0M398 153h0M396 185h0M414 185h0M387 176h0M420 205h0M398 155h0M381 195h0M406 158h0M385 165h0M391 172h0M416 191h0M399 187h0M413 193h0M416 188h0M425 180h0M391 182h0M399 167h0M424 198h0M411 190h0M410 182h0M408 198h0M420 188h0M378 179h0M406 157h0M396 184h0M416 180h0M418 162h0M388 187h0M392 194h0M411 196h0M395 159h0M395 162h0M403 178h0M445 167h0M418 157h0M415 188h0M381 197h0M418 194h0M394 191h0M389 182h0M427 179h0M418 158h0M402 175h0M390 160h0M415 193h0M425 183h0M400 192h0M378 156h0M417 199h0M403 189h0M419 198h0M375 176h0M408 191h0M397 195h0M385 177h0M424 165h0M398 157h0M422 174h0M427 192h0M423 192h0M389 202h0M389 177h0M390 162h0M382 164h0M376 167h0M401 190h0M419 189h0M394 191h0M413 190h0M379 202h0M390 167h0M416 198h0M395 162h0M415 213h0M410 157h0M391 200h0M407 191h0M404 180h0M412 176h0M411 163h0M417 188h0M422 196h0M434 215h0M390 149h0M394 157h0M375 157h0M420 174h0M402 171h0M390 209h0M396 185h0M395 188h0M420 172h0M403 148h0M392 162h0M391 169h0M423 183h0M426 159h0M412 165h0M401 174h0M372 190h0M428 184h0M383 185h0M410 204h0M445 203h0M416 181h0M394 174h0M432 191h0M418 192h0M375 167h0M397 171h0M407 186h0M413 190h0M385 184h0M409 186h0M407 184h0M420 169h0M386 179h0M415 182h0M415 185h0M427 164h0M413 194h0M373 189h0M411 216h0M399 176h0M415 177h0M422 203h0M369 162h0M437 198h0M416 196h0M428 190h0M387 168h0M442 196h0M349 171h0M376 142h0M383 146h0M427 157h0M393 166h0M400 172h0M410 186h0M399 177h0M419 179h0M393 174h0M430 170h0M432 197h0M397 209h0M399 185h0M402 187h0M398 186h0M393 191h0M402 187h0M417 168h0M417 210h0M395 209h0M427 188h0M405 180h0M400 188h0M411 169h0M401 148h0M424 200h0M379 175h0M431 189h0M412 175h0M397 195h0M413 174h0M425 164h0M439 194h0M423 202h0M390 156h0M402 172h0M420 190h0M416 186h0M416 163h0M421 200h0M400 189h0M386 180h0M406 167h0M409 146h0M404 163h0M376 190h0M408 177h0M428 179h0M417 158h0M426 203h0M395 170h0M413 189h0M402 190h0M387 190h0M413 187h0M390 180h0M403 168h0M390 183h0M386 179h0M420 195h0M400 162h0M400 178h0M402 171h0M397 185h0M401 163h0M421 154h0M409 161h0M369 149h0M391 182h0M439 169h0M375 190h0M400 167h0M370 140h0M394 192h0M398 150h0M385 183h0M417 166h0M418 176h0M403 194h0M403 201h0M410 187h0M389 202h0M407 168h0M424 187h0M393 175h0M394 183h0M408 176h0M399 169h0M402 181h0M409 180h0M398 177h0M428 182h0M395 181h0M390 164h0M424 185h0M398 157h0M404 207h0M406 160h0M379 195h0M413 210h0M418 186h0M408 180h0M439 175h0M401 186h0M415 153h0M403 172h0M421 142h0M403 209h0M391 192h0M394 190h0M374 180h0M398 161h0M395 193h0M434 158h0M378 177h0M409 170h0M416 199h0M410 181h0M392 169h0M397 159h0M392 195h0M390 193h0M419 190h0M412 195h0M412 175h0M369 174h0M414 175h0M392 154h0M421 181h0M422 186h0M434 192h0M362 169h0M429 193h0M397 170h0M411 194h0M415 167h0M409 197h0M440 191h0M384 173h0M408 180h0M400 176h0M402 158h0M385 166h0M432 208h0M386 186h0M397 182h0M440 202h0M402 168h0M397 197h0M377 159h0M437 197h0M424 176h0M426 171h0M402 175h0M391 199h0M419 190h0M399 168h0M392 190h0M405 179h0M410 157h0M400 186h0M406 158h0M420 202h0M406 199h0M386 172h0M413 186h0M407 194h0M389 209h0M371 167h0M415 188h0M400 184h0M390 196h0M397 188h0M411 157h0M437 198h0M379 185h0M389 179h0M395 184h0M428 174h0M403 145h0M367 165h0M425 195h0M355 175h0M395 195h0M405 161h0M370 164h0M399 167h0M406 159h0M390 187h0M407 176h0M403 172h0M392 189h0M413 184h0M403 216h0M423 175h0M400 189h0M402 188h0M400 183h0M407 188h0M405 168h0M377 202h0M430 190h0M396 171h0M414 191h0M406 191h0M381 166h0M419 188h0M403 199h0M385 180h0M402 174h0M404 186h0M409 201h0M413 162h0M411 190h0M392 215h0M380 169h0M380 165h0M393 174h0M418 199h0M412 180h0M444 193h0M408 185h0M379 194h0M425 186h0M395 190h0M401 180h0M426 186h0M411 187h0M409 196h0M400 184h0M416 208h0M413 175h0M379 160h0M383 186h0M389 159h0M381 219h0M404 184h0M427 186h0M413 174h0M409 205h0M407 149h0M401 187h0M406 185h0M429 210h0M407 197h0M430 182h0M387 179h0M414 186h0M399 162h0M408 219h0M386 172h0M430 185h0M378 183h0M398 191h0M429 201h0M423 159h0M378 180h0M397 176h0M400 179h0M312 85h0M341 136h0M318 125h0M345 123h0M349 135h0M328 114h0M311 108h0M329 124h0M362 147h0M341 144h0M321 130h0M332 136h0M360 130h0M367 135h0M314 117h0M320 116h0M337 141h0M324 142h0M340 116h0M329 124h0M324 119h0M336 135h0M319 108h0M343 132h0M368 143h0M320 128h0M330 113h0M305 119h0M318 134h0M326 96h0M329 129h0M332 145h0M330 106h0M349 135h0M352 125h0M351 126h0M344 124h0M358 138h0M357 151h0M337 141h0M369 154h0M317 122h0M340 122h0M346 129h0M339 146h0M349 120h0M309 137h0M339 138h0M320 120h0M339 141h0M331 128h0M333 124h0M337 137h0M321 114h0M327 114h0M328 134h0M321 126h0M338 136h0M318 115h0M345 119h0M346 127h0M343 123h0M383 153h0M348 137h0M354 142h0M305 125h0M361 168h0M307 108h0M334 113h0M335 132h0M347 118h0M332 122h0M340 119h0M335 118h0M323 98h0M354 125h0M326 152h0M315 116h0M320 107h0M334 135h0M332 114h0M344 135h0M321 106h0M306 129h0M347 143h0M333 111h0M353 137h0M300 125h0M316 123h0M322 105h0M323 133h0M313 126h0M321 93h0M348 146h0M339 125h0M340 136h0M330 125h0M325 128h0M302 135h0M318 127h0M332 131h0M331 135h0M324 136h0M310 123h0M322 110h0M320 126h0M332 98h0M333 111h0M324 147h0M343 143h0M368 124h0M352 147h0M359 132h0M378 147h0M348 150h0M336 135h0M345 125h0M316 135h0M323 100h0M324 111h0M327 140h0M349 155h0M325 112h0M337 129h0M318 130h0M358 126h0M339 110h0M340 158h0M340 159h0M332 121h0M442 237h0M419 200h0M434 267h0M433 208h0M433 227h0M455 290h0M445 266h0M420 226h0M427 225h0M413 240h0M422 269h0M414 170h0M429 253h0M442 259h0M449 245h0M434 195h0M446 278h0M444 236h0M431 257h0M442 236h0M411 239h0M423 233h0M448 257h0M402 201h0M452 235h0M433 229h0M416 254h0M440 274h0M418 250h0M433 231h0M441 208h0M439 250h0M441 240h0M448 227h0M459 264h0M451 284h0M442 230h0M449 219h0M455 230h0M401 212h0M461 248h0M448 225h0M418 232h0M465 217h0M426 213h0M425 228h0M403 232h0M441 223h0M430 215h0M448 259h0M458 241h0M455 206h0M439 256h0M443 256h0M422 268h0M432 219h0M428 245h0M426 247h0M402 201h0M408 207h0M446 238h0M440 272h0M415 239h0M426 239h0M440 213h0M441 214h0M438 240h0M418 242h0M440 224h0M451 186h0M444 247h0M437 195h0M431 213h0M442 207h0M401 220h0M408 235h0M431 248h0M416 213h0M426 259h0M418 235h0M419 203h0M435 239h0M430 275h0M422 255h0M420 238h0M431 298h0M419 221h0M436 238h0M440 284h0M445 256h0M433 248h0M446 223h0M445 244h0M438 262h0M428 199h0M444 275h0M463 269h0M426 229h0M479 268h0M465 253h0M431 215h0M427 232h0M422 205h0M420 245h0M440 251h0M463 236h0M430 232h0M446 214h0M421 234h0M458 283h0M284 101h0M257 111h0M254 99h0M299 119h0M285 125h0M265 89h0M257 89h0M271 110h0M259 110h0M266 111h0M523 231h0M517 241h0M448 201h0M552 250h0M582 277h0M594 279h0M515 219h0M452 207h0M583 291h0M583 276h0M479 218h0M592 271h0M504 225h0M470 206h0M497 217h0M473 217h0M554 242h0M541 255h0M550 239h0M541 249h0M457 205h0M591 270h0M472 218h0M549 249h0M532 237h0M541 249h0M596 280h0M552 246h0M530 239h0M575 280h0M471 191h0M597 251h0M557 258h0M516 242h0M517 232h0M559 256h0M488 227h0M446 218h0M495 229h0M458 204h0M353 97h0M306 110h0M377 136h0M312 122h0M376 112h0M380 118h0M348 120h0M370 125h0M383 108h0M429 123h0M419 128h0M404 111h0M392 101h0M423 96h0M350 116h0M437 107h0M350 118h0M313 113h0M345 121h0M353 138h0M314 140h0M315 103h0M419 106h0M404 127h0M435 111h0M332 131h0M414 99h0M319 107h0M421 103h0M430 127h0M395 126h0M326 104h0M426 135h0M376 136h0M359 110h0M336 122h0M351 132h0M311 111h0M314 135h0M318 105h0" stroke="#ff0000" stroke-width="4.4" stroke-linecap="round"/>
<path d="M952 262h0M974 308h0M931 227h0M939 311h0M931 255h0M969 328h0M978 335h0M948 220h0M971 199h0M958 255h0M966 332h0M945 239h0M962 240h0M973 191h0M952 232h0M957 237h0M957 222h0M955 245h0M942 257h0M928 228h0M965 321h0M962 237h0M974 250h0M975 238h0M962 338h0M969 235h0M936 245h0M931 230h0M938 301h0M974 198h0M962 295h0M945 320h0M944 312h0M972 187h0M954 260h0M957 305h0M971 301h0M952 316h0M948 303h0M929 295h0M952 334h0M929 334h0M958 329h0M931 333h0M929 334h0M932 315h0M966 291h0M962 297h0M942 298h0M951 291h0M1000 223h0M1041 189h0M1053 234h0M1045 211h0M1004 220h0M976 225h0M1053 224h0M1003 221h0M979 227h0M968 215h0M1020 202h0M1043 237h0M1037 209h0M1043 235h0M1066 237h0M981 222h0M964 198h0M1040 191h0M966 202h0M970 189h0M1028 183h0M1025 193h0M989 189h0M1007 230h0M1056 235h0M979 228h0M987 212h0M994 196h0M994 220h0M1038 184h0M960 217h0M973 234h0M1029 230h0M953 233h0M1060 239h0M1006 228h0M1048 220h0M978 201h0M998 209h0M999 225h0M995 215h0M972 215h0M1009 209h0M1038 208h0M966 230h0M977 223h0M1046 204h0M996 227h0M1037 201h0M1039 226h0M1041 191h0M1003 201h0M1030 218h0M1004 202h0M988 236h0M981 192h0M1037 199h0M1008 207h0M959 187h0M973 228h0M1031 294h0M1025 328h0M1042 313h0M991 243h0M1046 269h0M1078 330h0M1072 334h0M1043 340h0M1012 327h0M1075 308h0M995 262h0M992 243h0M1013 313h0M1063 320h0M992 294h0M1053 336h0M975 250h0M1043 288h0M1076 338h0M1001 336h0M1025 280h0M1027 265h0M1027 316h0M993 244h0M1028 248h0M1051 309h0M998 269h0M1059 272h0M987 301h0M975 241h0M1066 277h0M1041 275h0M1005 256h0M1060 242h0M1051 254h0M1012 320h0M1017 304h0M1039 332h0M1014 292h0M1067 269h0M1007 321h0M1067 305h0M1045 249h0M1046 313h0M993 258h0M980 298h0M1085 274h0M1003 269h0M1019 312h0M1018 271h0M1066 301h0M1074 336h0M1026 333h0M1041 308h0M1052 284h0M978 260h0M984 257h0M1058 272h0M1033 240h0M992 285h0M1027 291h0M1077 262h0M979 283h0M996 290h0M1041 337h0M1076 269h0M1048 297h0M1043 257h0M1005 243h0M1068 325h0M1001 323h0M996 282h0M1011 280h0M1049 279h0M1005 249h0M1010 305h0M1082 273h0M1034 251h0M1006 324h0M1012 261h0M1009 260h0M1070 246h0M993 322h0M1053 338h0M1083 310h0M1027 253h0M1079 282h0M1061 331h0M1054 317h0M1018 306h0M1073 287h0M1045 340h0M1008 303h0M1083 311h0M1067 270h0M1035 342h0M1050 265h0M1078 319h0M1046 306h0M996 280h0M996 254h0M1069 298h0M1068 268h0M1025 254h0M1022 329h0M985 287h0M1005 262h0M1066 300h0M1070 291h0M981 321h0M1048 327h0M1016 342h0M982 325h0M1057 313h0M1039 281h0M1085 302h0M1042 282h0M1046 302h0M1042 249h0M978 321h0M1079 341h0M1043 324h0M1072 333h0M1073 293h0M1006 278h0M1000 318h0M1039 294h0M1012 331h0M1018 266h0M978 332h0M1039 246h0M1010 338h0M1069 320h0M1007 242h0M1054 317h0M992 307h0M1025 260h0M1035 324h0M1008 341h0M1082 278h0M1079 299h0M1062 316h0M976 294h0M1021 282h0M1054 293h0M1041 300h0M1013 267h0M1055 295h0M1015 307h0M1040 338h0M1036 316h0M1008 292h0M1023 241h0M1043 325h0M1055 245h0M1018 257h0M1048 343h0M1038 243h0M1005 332h0M1051 252h0M991 252h0M1054 272h0M981 292h0M1084 318h0M1029 250h0M1020 326h0M1048 312h0M1044 315h0M977 305h0M977 286h0M1084 323h0M1049 329h0M988 321h0M1042 267h0M1080 256h0M1007 283h0M1022 305h0M1055 271h0M1056 263h0M979 255h0M1057 295h0M1032 275h0M1078 307h0M1016 288h0M1076 270h0M1079 278h0M1009 303h0M1020 316h0M995 335h0M1002 282h0M1050 335h0M1083 273h0M1005 304h0M1041 293h0M1088 320h0M1080 268h0M977 254h0M1041 241h0M1050 286h0M991 332h0M1012 248h0M1015 262h0M1052 315h0M993 242h0M1074 251h0M1087 297h0M981 262h0M1006 337h0M981 343h0M1068 257h0M1040 249h0M988 257h0M1069 247h0M1030 248h0M1007 243h0M1078 253h0M1031 325h0M1048 275h0M1080 345h0M1069 283h0M1046 293h0M1015 334h0M987 290h0M1048 325h0M1003 301h0M1067 293h0M1014 258h0M1040 325h0M1040 262h0M1073 330h0M1030 314h0M1038 296h0M1037 326h0M1010 278h0M1000 319h0M987 253h0M1044 323h0M1042 276h0M1029 246h0M1057 296h0M1076 278h0M1070 259h0M982 277h0M1061 344h0M1063 253h0M1033 262h0M1017 319h0M1068 273h0M1032 330h0M1018 293h0M1043 255h0M997 295h0M1061 323h0M1023 288h0M1085 341h0M1027 242h0M1005 245h0M1019 317h0M976 319h0M1022 240h0M1076 282h0M1061 261h0M988 301h0M1027 310h0M979 340h0M1010 306h0M1015 245h0M1006 252h0M1059 245h0M1033 292h0M1035 340h0M1038 333h0M1064 332h0M987 252h0M1089 320h0M1022 322h0M1082 267h0M1008 275h0M1007 240h0M988 262h0M1037 246h0M984 276h0M1008 280h0M1053 334h0M998 302h0M1007 323h0M1077 260h0M981 285h0M995 244h0M986 256h0M1024 286h0M1048 319h0M981 311h0M1077 283h0M1080 247h0M982 246h0M1065 275h0M1077 252h0M1022 326h0M1050 257h0M979 314h0M1022 296h0M1071 330h0M1042 254h0M1085 244h0M1008 342h0M1033 263h0M1039 322h0M984 341h0M979 280h0M993 342h0M1058 291h0M1007 266h0M1063 291h0M1069 302h0M1083 303h0M1076 308h0M1071 316h0M1048 265h0M1020 317h0M1000 310h0M1070 255h0M1036 325h0M984 334h0M997 285h0M1001 288h0M1041 344h0M996 247h0M1041 252h0M1003 315h0M1051 341h0M1080 320h0M977 330h0M989 246h0M1054 263h0M1075 343h0M1017 272h0M1060 342h0M1074 311h0M987 241h0M1021 315h0M1040 285h0M1033 281h0M1062 321h0M1020 249h0M1071 304h0M1003 320h0M1078 297h0M1058 337h0M1041 317h0M1075 286h0M1027 266h0M1019 284h0M1074 316h0M986 300h0M1026 264h0M1038 280h0M997 303h0M1016 257h0M1040 264h0M1041 318h0M1040 244h0M1047 311h0M1010 313h0M1040 342h0M998 274h0M1016 312h0M984 294h0M1073 247h0M1040 256h0M1041 265h0M986 296h0M1055 251h0M1077 247h0M1072 245h0M1027 260h0M983 267h0M1037 276h0M1026 264h0M1028 263h0M978 266h0M992 243h0M1018 257h0M1012 306h0M988 320h0M1080 317h0M1040 277h0M1011 251h0M1025 316h0M1042 327h0M1048 247h0M996 316h0M1065 330h0M993 327h0M1010 262h0M1013 311h0M1016 309h0M1044 289h0M1073 310h0M1064 278h0M1047 290h0M1077 308h0M1087 315h0M1026 291h0M1028 267h0M1033 288h0M1022 315h0M1056 340h0M1036 308h0M1023 323h0M1064 298h0M1073 247h0M1040 291h0M975 331h0M1019 329h0M1063 340h0M1009 248h0M1017 275h0M1081 246h0M1042 287h0M1103 335h0M1085 319h0M1099 260h0M1105 289h0M1094 253h0M1085 298h0M1102 324h0M1107 269h0M1099 291h0M1103 282h0M1107 266h0M1094 330h0M1103 284h0M1110 282h0M1109 299h0M1065 366h0M992 361h0M1017 373h0M997 367h0M1072 354h0M1040 344h0M1027 376h0M1023 360h0M1048 369h0M1073 365h0M1025 367h0M995 373h0M1050 366h0M1055 367h0M1040 364h0M986 354h0M1017 353h0M1042 370h0M1020 373h0M1018 375h0M981 372h0M1049 371h0M1010 376h0M1066 372h0M1036 370h0M1029 368h0M1042 373h0M1062 333h0M986 371h0M983 369h0M998 373h0M979 371h0M1044 366h0M1070 370h0M1061 357h0M1013 372h0M1068 368h0M987 351h0M1037 374h0M1063 367h0M1030 360h0M994 359h0M1046 332h0M1077 371h0M1058 368h0M1053 369h0M1025 359h0M1031 363h0M1026 372h0M1062 363h0M1049 373h0M1026 362h0M1012 374h0M1009 375h0M1028 376h0M1030 375h0M1021 372h0M1063 370h0M1061 376h0M1066 374h0M1075 375h0M1013 359h0M982 372h0M1039 367h0M1071 336h0M1054 372h0M998 342h0M1016 372h0M984 375h0M1059 372h0M1005 360h0M1040 374h0M1030 364h0M1014 356h0M1038 366h0M1079 373h0M1060 371h0M980 370h0M1020 369h0M1079 365h0M992 368h0M1039 371h0M987 359h0M979 369h0M1042 362h0M1008 374h0M990 372h0M1058 374h0M1062 371h0M1060 373h0M989 371h0M1016 368h0M1004 375h0M1026 370h0M1067 367h0M1053 370h0M1045 376h0M1008 359h0M1007 372h0M1041 358h0M1014 369h0M997 361h0M1040 373h0M1029 373h0M1061 370h0M1013 352h0M1057 374h0M1002 357h0M989 374h0M1010 359h0M981 365h0M980 375h0M1053 371h0M1033 374h0M988 375h0M1050 359h0M1046 374h0M1079 368h0M1019 334h0M1033 361h0M1000 366h0M1070 361h0M1022 373h0M993 360h0M1043 374h0M1006 354h0M1005 362h0M1052 371h0M1075 332h0M1079 350h0M1015 374h0M1015 374h0M1025 351h0M1003 375h0M1048 374h0M1025 373h0M1010 363h0M1011 371h0M1066 373h0M1015 360h0M1039 374h0M1074 349h0M993 369h0M1041 370h0M1039 371h0M1071 375h0M984 371h0M979 370h0M1045 376h0M1015 372h0M1045 376h0M1066 362h0M1019 368h0M1064 363h0M990 369h0M988 356h0M987 370h0M997 333h0M1015 376h0M1070 373h0M987 372h0M979 368h0M1028 354h0M1057 370h0M1064 366h0M1069 376h0M1001 356h0M1011 374h0M1011 361h0M1013 373h0M1049 364h0M1055 367h0M987 376h0M1074 366h0M1057 368h0M1065 373h0M983 371h0M1057 376h0M1030 368h0M1055 368h0M1065 376h0M1037 370h0M1050 374h0M987 367h0M1031 368h0M1021 374h0M1058 365h0M1018 370h0M982 370h0M1011 369h0M1028 375h0M1069 368h0M994 374h0M1028 341h0M1056 367h0M1017 371h0M1006 374h0M1035 372h0M1063 369h0M1045 370h0M1019 366h0M1057 354h0M1054 355h0M992 366h0M1044 362h0M1077 368h0M1071 348h0M1001 362h0M1000 348h0M1047 353h0M1012 368h0M1069 368h0M1041 346h0M1030 354h0M1027 355h0M1073 367h0M1033 375h0M992 375h0M1006 373h0M1000 346h0M1068 356h0M1034 375h0M1006 349h0M1078 345h0M1073 369h0M1069 366h0M1065 358h0M1058 357h0M1003 352h0M982 363h0M1022 362h0M993 361h0M1007 371h0M1028 348h0M981 349h0M1073 361h0M1035 366h0M1044 352h0M1053 359h0M1076 370h0M1015 376h0M1068 349h0M1061 375h0M1034 360h0M1024 349h0M1015 369h0M1004 354h0M1014 362h0M1033 352h0M1021 374h0M979 361h0M985 373h0M1008 366h0M1047 348h0M1014 375h0M1034 372h0M1024 350h0M1078 349h0M1075 365h0M993 350h0M1025 357h0M1053 355h0M995 350h0M1049 355h0M1076 356h0M1070 369h0M1010 369h0M987 350h0M992 362h0M1066 363h0M1050 351h0M1041 364h0M1037 359h0M1074 374h0M1032 362h0M990 373h0M1075 370h0M982 358h0M1031 362h0M1036 368h0M1058 348h0M991 372h0M1078 346h0M1071 366h0M1010 360h0M1069 367h0M1036 354h0M1040 360h0M979 374h0M981 349h0M1249 355h0M1229 372h0M1262 356h0M1228 326h0M1249 370h0M1259 343h0M1236 327h0M1241 340h0M1255 329h0M1262 328h0M1237 370h0M1225 338h0M1254 361h0M1224 360h0M1222 366h0M1242 326h0M1257 333h0M1249 342h0M1251 346h0M1242 346h0M1226 348h0M1230 367h0M1224 329h0M1241 365h0M1234 359h0M1132 336h0M1145 361h0" stroke="#000" stroke-width="4" stroke-linecap="square"/>
<path d="M1040 182h0M1089 223h0M1026 162h0M987 141h0M996 149h0M1110 200h0M959 135h0M1073 193h0M1012 150h0M1052 180h0M1013 163h0M994 161h0M963 143h0M1063 170h0M1096 192h0M1015 167h0M1015 160h0M1025 164h0M1036 170h0M1063 186h0M952 124h0M955 129h0M975 147h0M1059 185h0M1071 178h0M1021 175h0M1027 173h0M1093 192h0M1062 183h0M962 134h0M959 119h0M1083 215h0M1081 205h0M1071 199h0M1080 194h0M980 138h0M1079 190h0M1030 146h0M1087 213h0M1085 215h0M999 165h0M1059 188h0M1002 162h0M1082 196h0M960 141h0M983 142h0M958 155h0M1001 151h0M969 125h0M957 114h0M1049 185h0M1045 166h0M1080 193h0M1053 188h0M1042 165h0M1102 201h0M999 143h0M1022 144h0M957 133h0M971 143h0M970 133h0M1018 171h0M1060 175h0M1013 145h0M1059 177h0M1038 170h0M1003 147h0M994 135h0M1023 156h0M954 133h0M949 146h0M1020 162h0M1058 180h0M1097 217h0M1086 166h0M1097 207h0M961 125h0M991 155h0M1045 186h0M1083 208h0M959 131h0M1056 173h0M1054 198h0M1005 153h0M1064 195h0M1011 172h0M991 150h0M1076 198h0M963 136h0M971 146h0M1073 176h0M1099 193h0M1019 169h0M1032 171h0M1061 194h0M988 141h0M1042 182h0M1102 199h0M1100 192h0M971 134h0M961 148h0M1063 188h0M1122 186h0M1022 144h0M967 145h0M1034 173h0M1111 205h0M1064 192h0M1014 155h0M1089 195h0M1098 202h0M1012 135h0M956 124h0M1017 183h0M979 147h0M1018 167h0M1095 213h0M1077 179h0M979 144h0M1037 164h0M952 134h0M1047 173h0M1061 173h0M1014 147h0M1073 202h0M1111 202h0M1082 208h0M961 140h0M1062 169h0M949 144h0M1102 207h0M948 129h0M961 154h0M1099 200h0M981 137h0M1074 172h0M986 163h0M1061 180h0M1000 139h0M1028 178h0M1024 175h0M1091 192h0M962 118h0M951 126h0M1064 181h0M1045 190h0M967 145h0M971 137h0M1019 167h0M1072 190h0M972 119h0M1025 160h0M1080 196h0M963 130h0M1071 202h0M1071 173h0M1025 182h0M1075 185h0M1091 214h0M1042 179h0M950 129h0M1028 184h0M1041 170h0M1087 209h0M1115 193h0M964 131h0M978 124h0M970 132h0M976 133h0M971 139h0M981 127h0M973 149h0M1077 198h0M1056 184h0M950 126h0M984 151h0M1090 206h0M1092 212h0M986 153h0M1078 184h0M1048 164h0M1055 198h0M1003 147h0M996 148h0M1099 208h0M1099 201h0M1063 189h0M1019 163h0M1091 204h0M1023 159h0M1099 203h0M1014 165h0M1054 195h0M956 116h0M973 150h0M1011 169h0M1104 193h0M1064 175h0M975 158h0M1088 183h0M1076 192h0M1007 160h0M1063 191h0M1081 213h0M1065 179h0M1081 193h0M983 127h0M1052 179h0M984 152h0M1019 156h0M1020 162h0M1054 177h0M1027 170h0M1045 166h0M1100 220h0M1022 171h0M998 151h0M1083 201h0M976 154h0M996 148h0M1084 175h0M976 131h0M1059 189h0M1016 162h0M1000 151h0M1065 199h0M1023 146h0M985 145h0M1108 216h0M1083 195h0M988 144h0M1106 211h0M1087 207h0M970 145h0M950 132h0M1028 183h0M997 148h0M1005 154h0M962 140h0M1069 178h0M1008 145h0M988 154h0M1038 172h0M982 141h0M953 126h0M1033 170h0M978 134h0M1071 187h0M1077 202h0M1095 197h0M1095 185h0M1095 225h0M974 141h0M1055 164h0M1066 182h0M1059 202h0M971 156h0M959 130h0M950 137h0M1061 197h0M1099 207h0M982 140h0M965 128h0M1008 164h0M1088 182h0M1094 187h0M1078 180h0M1036 170h0M1027 157h0M1066 168h0M994 140h0M970 134h0M975 117h0M1060 190h0M951 144h0M1050 169h0M950 126h0M1024 174h0M972 130h0M1057 171h0M1031 164h0M1084 193h0M1086 206h0M993 136h0M989 166h0M1087 201h0M1108 191h0M1091 187h0M960 154h0M1104 213h0M1069 179h0M1092 191h0M988 165h0M956 138h0M1067 183h0M1021 160h0M990 155h0M1009 140h0M976 135h0M1044 184h0M1104 202h0M1049 182h0M1018 161h0M1044 159h0M1079 198h0M971 157h0M1032 156h0M968 133h0M1024 163h0M1014 168h0M1014 165h0M1095 215h0M1102 206h0M1012 166h0M1047 172h0M1034 157h0M1104 223h0M991 144h0M1064 210h0M1061 189h0M1106 190h0M986 154h0M1100 203h0M993 151h0M1064 166h0M1062 179h0M1075 193h0M966 135h0M992 158h0M1062 194h0M981 136h0M951 130h0M992 148h0M1101 218h0M964 124h0M1051 179h0M969 146h0M1044 172h0M1023 144h0M1053 171h0M1001 160h0M1106 203h0M1058 183h0M1078 222h0M1031 170h0M995 146h0M1023 174h0M1112 205h0M1045 171h0M977 124h0M1100 198h0M974 138h0M1088 174h0M1093 189h0M1044 159h0M1105 213h0M1000 148h0M955 131h0M962 125h0M1086 205h0M1068 194h0M1089 195h0M1004 146h0M1108 215h0M1020 173h0M1040 176h0M1058 187h0M972 147h0M1035 163h0M1029 173h0M1077 178h0M1019 151h0M1099 205h0M963 138h0M1028 164h0M947 134h0M1072 202h0M1104 210h0M997 133h0M1024 154h0M1093 212h0M1074 193h0M1023 179h0M1096 174h0M1030 160h0M1058 162h0M954 135h0M961 149h0M969 151h0M1111 205h0M1084 197h0M991 138h0M958 135h0M1043 187h0M976 132h0M1091 200h0M994 158h0M1107 192h0M994 149h0M986 159h0M1042 186h0M981 140h0M960 126h0M953 122h0M1007 161h0M1009 143h0M1104 207h0M985 146h0M1050 174h0M1077 197h0M1107 178h0M1042 175h0M1059 163h0M1097 199h0M1038 153h0M1085 197h0M1055 183h0M1006 161h0M958 127h0M965 144h0M977 128h0M991 132h0M1067 185h0M1101 203h0M967 135h0M994 151h0M1010 149h0M1103 213h0M1056 162h0M1020 169h0M1069 171h0M961 140h0M979 137h0M1014 144h0M956 128h0M1013 156h0M1078 198h0M973 121h0M1056 211h0M1068 192h0M1070 200h0M1079 177h0M1099 206h0M1063 186h0M966 140h0M1076 180h0M972 124h0M1071 183h0M977 143h0M1069 208h0M1025 182h0M1071 190h0M1048 192h0M1083 191h0M991 142h0M1101 231h0M970 127h0M1052 168h0M1017 147h0M963 155h0M963 135h0M1012 157h0M1041 170h0M1055 173h0M1054 185h0M1105 194h0M1018 172h0M1069 182h0M1001 141h0M963 123h0M1069 203h0M968 147h0M989 145h0M1045 183h0M1003 160h0M1079 183h0M1005 142h0M1007 154h0M1081 183h0M1060 173h0M989 139h0M1054 199h0M1014 186h0M1064 184h0M971 131h0M1037 178h0M1005 134h0M964 141h0M963 133h0M1008 157h0M988 149h0M1037 165h0M1092 194h0M983 136h0M1102 205h0M996 136h0M982 158h0M1090 183h0M1000 149h0M1102 184h0M1064 188h0M994 152h0M1080 190h0M1024 168h0M980 130h0M1027 175h0M1048 150h0M1101 201h0M1027 179h0M967 149h0M946 136h0M1086 202h0M1029 170h0M1072 176h0M1034 169h0M996 142h0M1077 195h0M1066 167h0M1084 180h0M1064 178h0M1006 177h0M1091 203h0M1003 150h0M1100 204h0M961 132h0M1089 198h0M1062 185h0M1066 172h0M1094 206h0M965 141h0M1020 177h0M1045 182h0M1065 187h0M956 128h0M1027 150h0M1004 153h0M1106 193h0M1060 180h0M1098 200h0M987 125h0M960 148h0M1066 188h0M982 139h0M1047 172h0M1107 211h0M960 128h0M992 140h0M1022 162h0M1029 176h0M1017 156h0M1003 149h0M1033 168h0M1031 173h0M1104 191h0M1007 147h0M948 129h0M1070 179h0M967 111h0M1088 199h0M980 121h0M992 148h0M971 123h0M948 144h0M1011 155h0M1023 169h0M1103 211h0M957 149h0M1012 152h0M1078 177h0M1043 170h0M1010 175h0M1016 156h0M1037 170h0M991 155h0M1088 197h0M951 138h0M1109 206h0M1062 191h0M961 140h0M961 118h0M1077 192h0M1070 192h0M1103 198h0M1028 174h0M1070 203h0M1012 156h0M1022 170h0M1012 153h0M972 158h0M988 146h0M1072 197h0M1003 152h0M991 156h0M1092 189h0M1012 159h0M1038 146h0M970 159h0M1022 146h0M1082 221h0M1094 198h0M1024 162h0M987 154h0M993 150h0M1000 154h0M967 137h0M1113 198h0M1060 183h0M1040 189h0M1108 204h0M980 135h0M1019 159h0M1076 197h0M1002 144h0M1053 178h0M979 138h0M1041 180h0M1038 182h0M953 119h0M1066 199h0M993 130h0M1042 180h0M1062 197h0M1095 186h0M997 150h0M966 131h0M1059 185h0M987 146h0M998 154h0M1083 203h0M1066 194h0M1103 202h0M1073 186h0M1084 204h0M1072 173h0M1073 185h0M983 147h0M1039 138h0M1008 156h0M1019 163h0M1013 151h0M979 137h0M1048 177h0M1020 166h0M1042 181h0M990 176h0M1014 156h0M1061 183h0M1074 196h0M1101 203h0M1047 186h0M972 143h0M1015 173h0M996 143h0M1014 161h0M1080 183h0M1025 160h0M1098 222h0M1073 185h0M1021 158h0M1104 204h0M972 153h0M963 142h0M1072 183h0M1032 185h0M976 126h0M949 127h0M974 131h0M1011 169h0M1016 157h0M999 146h0M1021 173h0M962 130h0M997 123h0M1055 176h0M1035 171h0M1088 206h0M1113 198h0M1058 193h0M1068 185h0M1005 164h0M1027 167h0M1098 204h0M1010 149h0M1103 204h0M1054 184h0M1075 184h0M1020 163h0M959 148h0M1100 214h0M1014 175h0M971 140h0M1084 190h0M985 146h0M960 137h0M1088 200h0M1088 185h0M998 143h0M1005 160h0M1040 156h0M1072 191h0M1014 148h0M971 145h0M953 148h0M972 144h0M966 137h0M1027 151h0M968 144h0M970 134h0M1068 190h0M1083 222h0M1020 164h0M1061 177h0M999 159h0M1096 216h0M1037 173h0M1011 148h0M1064 184h0M983 144h0M1062 178h0M1007 156h0M1100 203h0M958 133h0M1029 194h0M1043 167h0M967 153h0M1070 202h0M1046 188h0M1070 184h0M1005 178h0M1024 165h0M956 134h0M994 145h0M1087 186h0M1099 179h0M1006 152h0M1077 195h0M1095 182h0M1108 214h0M1060 167h0M1037 172h0M1016 140h0M993 150h0M960 140h0M980 142h0M990 162h0M1085 192h0M1065 186h0M966 135h0M1053 181h0M1018 144h0M1003 170h0M1008 147h0M1059 198h0M991 158h0M975 131h0M1047 169h0M982 153h0M957 120h0M1108 206h0M1056 185h0M1041 179h0M1008 162h0M1087 199h0M949 135h0M1002 164h0M1020 169h0M987 138h0M1059 192h0M1091 214h0M1012 175h0M975 137h0M1086 202h0M948 131h0M979 156h0M1081 213h0M1052 192h0M1090 194h0M1082 193h0M1017 146h0M972 133h0M988 145h0M1088 202h0M1058 173h0M1067 202h0M999 154h0M1084 177h0M1077 202h0M1017 163h0M1014 174h0M1096 198h0M1017 154h0M1052 183h0M1082 193h0M1004 153h0M950 127h0M981 151h0M968 146h0M947 151h0M1074 199h0M977 126h0M1111 189h0M1065 163h0M997 170h0M1021 165h0M1012 158h0M1075 179h0M959 130h0M1055 178h0M977 133h0M1052 182h0M1067 185h0M1069 183h0M1099 190h0M1024 145h0M1062 175h0M996 169h0M1091 189h0M1006 151h0M1029 163h0M1057 197h0M1014 180h0M1029 159h0M1054 180h0M974 147h0M1065 190h0M959 124h0M1049 175h0M1025 177h0M1028 172h0M989 137h0M1102 212h0M997 140h0M965 149h0M1043 165h0M960 126h0M1019 161h0M1095 206h0M1022 153h0M994 146h0M1075 198h0M1051 183h0M991 151h0M991 134h0M985 151h0M982 137h0M1028 178h0M1051 171h0M961 130h0M962 123h0M997 154h0M990 149h0M966 123h0M1054 171h0M1020 168h0M1083 205h0M974 143h0M1075 190h0M1056 173h0M1037 190h0M1008 161h0M1077 172h0M1028 185h0M1026 156h0M956 144h0M1054 184h0M1004 154h0M1075 165h0M992 157h0M1079 191h0M1006 148h0M1007 149h0M1031 164h0M1071 181h0M1069 184h0M1036 161h0M1049 178h0M1013 187h0M1038 178h0M1060 164h0M1024 158h0M1024 183h0M1045 173h0M1019 165h0M1042 174h0M1062 171h0M1036 183h0M1040 162h0M1089 203h0M1016 165h0M1072 191h0M1007 151h0M1051 164h0M1007 151h0M1099 197h0M999 153h0M1043 159h0M1050 197h0M1065 195h0M962 148h0M1008 138h0M1042 164h0M1010 156h0M1004 154h0M1027 162h0M1082 207h0M1022 170h0M1076 201h0M1062 181h0M1010 136h0M1060 193h0M1084 183h0M1026 178h0M1019 179h0M991 174h0M1028 166h0M988 140h0M1021 153h0M1056 174h0M1023 167h0M1070 190h0M996 143h0M1042 172h0M999 161h0M1067 179h0M1070 198h0M1029 174h0M1055 181h0M1071 205h0M1000 164h0M1047 160h0M1108 199h0M1048 172h0M1025 163h0M1028 179h0M1029 167h0M1048 199h0M1080 199h0M1061 204h0M970 132h0M1043 189h0M1056 177h0M1037 149h0M1080 216h0M1013 155h0M1052 172h0M1070 188h0M1016 171h0M975 148h0M1062 184h0M1024 176h0M1042 168h0M1016 164h0M1014 146h0M1024 160h0M1008 161h0M1080 189h0M1076 171h0M1092 203h0M1023 169h0M1034 145h0M1082 210h0M1043 172h0M1007 171h0M1012 154h0M1027 168h0M1026 159h0M998 171h0M1014 164h0M1048 186h0M981 154h0M1021 165h0M984 161h0M1060 174h0M1036 170h0M1033 187h0M1038 165h0M1047 183h0M1056 184h0M1005 155h0M989 155h0M1021 163h0M1027 185h0M1007 145h0M1035 178h0M1049 184h0M1039 173h0M1014 179h0M1007 163h0M1029 179h0M1043 160h0M1091 191h0M1031 169h0M1070 166h0M1026 172h0M1008 162h0M1090 214h0M1044 173h0M1010 173h0M1014 174h0M1021 161h0M1058 186h0M1039 172h0M1090 191h0M1025 166h0M1007 164h0M1012 163h0M1009 151h0M1017 172h0M1058 174h0M1028 160h0M1088 201h0M1011 148h0M1062 180h0M972 133h0M972 132h0M989 163h0M961 140h0M1005 155h0M1088 179h0M1022 157h0M1024 171h0M995 148h0M1068 193h0M1005 171h0M993 139h0M994 147h0M1058 177h0M956 140h0M1052 183h0M1013 156h0M1095 193h0M1018 146h0M1015 160h0M1013 151h0M1021 172h0M1005 176h0M1073 192h0M1014 172h0M985 123h0M1005 156h0M991 171h0M1027 152h0M1033 171h0M996 152h0M1000 173h0M1011 144h0M970 152h0M1001 173h0M1088 222h0M1002 174h0M1055 178h0M1007 146h0M1002 173h0M947 135h0M1023 151h0M994 141h0M1067 200h0M1051 174h0M994 145h0M1038 198h0M1082 186h0M979 165h0M1021 176h0M1023 160h0M1052 162h0M964 124h0M1051 172h0M1007 167h0M1054 172h0M1027 164h0M1027 167h0M999 170h0M1063 177h0M1018 156h0M1015 156h0M1099 212h0M1055 172h0M962 162h0M1013 166h0M1004 156h0M1019 180h0M1029 163h0M978 154h0M1045 174h0M1045 174h0M1031 159h0M957 132h0M1031 171h0M1002 157h0M1046 159h0M1035 175h0M1040 168h0M1012 179h0M985 149h0M1028 178h0M988 130h0M1077 178h0M1072 191h0M1106 204h0M1027 177h0M1040 191h0M1051 187h0M987 158h0M1102 203h0M1084 183h0M1056 174h0M1001 177h0M1041 184h0M1047 184h0M1041 174h0M1011 143h0M1025 152h0M1039 170h0M1003 149h0M1009 166h0M970 119h0M1046 164h0M1004 159h0M1020 173h0M1004 145h0M990 141h0M1054 186h0M1013 149h0M1040 179h0M966 133h0M1048 168h0M1054 171h0M973 154h0M996 154h0M1043 184h0M991 156h0M1001 169h0M964 152h0M1019 142h0M994 149h0M1074 183h0M1047 163h0M987 160h0M1060 173h0M1006 174h0M998 137h0M1049 184h0M1043 185h0M1003 168h0M1062 200h0M1099 210h0M987 136h0M1037 176h0M1021 163h0M947 106h0M939 109h0M956 130h0M956 121h0M946 122h0M936 122h0M941 115h0M946 115h0M950 117h0M947 118h0M951 124h0M959 128h0M949 121h0M956 124h0M938 117h0M955 119h0M941 131h0M955 129h0M947 119h0M951 121h0M932 120h0M938 119h0M952 122h0M935 126h0M965 120h0M986 183h0M944 155h0M976 167h0M989 169h0M948 157h0M975 169h0M986 170h0M991 166h0M960 162h0M991 180h0M969 164h0M940 144h0M936 160h0M973 153h0M945 154h0M952 164h0M991 174h0M966 168h0M953 153h0M942 155h0M976 183h0M957 166h0M961 163h0M958 159h0M990 170h0M1241 290h0M1233 277h0M1231 292h0M1236 285h0M1222 291h0M1243 291h0M1253 288h0M1239 279h0M1254 295h0M1220 284h0M1229 293h0M1247 313h0M1251 289h0M1245 286h0M1246 274h0M1249 294h0M1220 284h0M1224 292h0M1238 270h0M1246 294h0M1239 277h0M1231 279h0M1241 268h0M1226 285h0M1247 287h0M1240 262h0M1252 305h0M1254 281h0M1262 283h0M1237 299h0M1253 276h0M1246 284h0M1250 291h0M1206 289h0M1229 274h0M1242 293h0M1242 277h0M1259 284h0M1230 296h0M1226 280h0M1208 284h0M1238 270h0M1272 297h0M1226 259h0M1243 266h0M1237 278h0M1221 280h0M1251 296h0M1238 286h0M1236 274h0M1247 263h0M1241 289h0M1222 299h0M1236 260h0M1251 306h0M1236 276h0M1237 282h0M1243 274h0M1239 286h0M1237 262h0M1231 295h0M1227 284h0M1236 281h0M1246 270h0M1249 269h0M1229 276h0M1241 284h0M1243 280h0M1236 275h0M1227 292h0M1238 288h0M1245 303h0M1230 297h0M1225 296h0M1235 281h0M1225 300h0M1231 293h0M1241 288h0M1238 285h0M1234 277h0M1243 298h0M1240 291h0M1261 299h0M1220 294h0M1219 295h0M1229 290h0M1211 311h0M1240 286h0M1241 274h0M1246 299h0M1215 292h0M1227 291h0M1249 271h0M1240 291h0M1238 290h0M1234 281h0M1254 289h0M1222 295h0M1242 269h0M1238 291h0M1248 204h0" stroke="#ff0000" stroke-width="4.4" stroke-linecap="round"/>
<path d="M263 708h0M234 687h0M251 826h0M226 707h0M240 761h0M233 815h0M258 779h0M229 703h0M252 721h0M239 743h0M238 762h0M221 799h0M220 728h0M258 802h0M249 799h0M224 764h0M254 769h0M218 819h0M217 771h0M230 730h0M212 738h0M254 716h0M235 723h0M240 780h0M253 768h0M256 716h0M260 729h0M263 773h0M244 776h0M223 822h0M255 730h0M232 773h0M247 733h0M257 694h0M229 813h0M276 759h0M281 759h0M384 760h0M285 741h0M314 753h0M361 748h0M356 754h0M357 750h0M348 740h0M380 756h0M334 737h0M338 748h0M343 744h0M386 754h0M332 746h0M294 756h0M388 759h0M301 736h0M380 746h0M349 736h0M320 741h0M398 753h0M300 728h0M396 758h0M380 750h0M405 757h0M357 738h0M310 755h0M326 741h0M344 753h0M331 753h0M322 748h0M307 728h0M419 755h0M303 754h0M298 741h0M357 738h0M401 753h0M367 738h0M390 750h0M285 741h0M318 753h0M343 736h0M379 748h0M297 755h0M361 747h0M323 743h0M309 758h0M321 732h0M302 740h0M346 743h0M296 733h0M313 736h0M296 755h0M311 729h0M306 729h0M351 757h0M291 738h0M388 754h0M304 734h0M318 752h0M352 760h0M267 760h0M355 737h0M386 752h0M337 741h0M340 737h0M304 737h0M334 742h0M342 746h0M318 740h0M392 750h0M375 758h0M360 753h0M309 742h0M329 752h0M314 752h0M273 758h0M316 755h0M357 746h0M331 756h0M302 749h0M357 759h0M344 760h0M325 759h0M381 752h0M347 756h0M328 756h0M299 737h0M348 735h0M325 738h0M323 741h0M322 759h0M365 755h0M396 752h0M293 750h0M308 737h0M308 757h0M400 753h0M324 745h0M287 743h0M380 751h0M326 757h0M347 749h0M348 734h0M299 741h0M309 755h0M289 751h0M341 743h0M367 753h0M308 746h0M353 749h0M370 753h0M299 748h0M349 753h0M347 742h0M322 732h0M311 747h0M311 742h0M330 730h0M344 804h0M340 824h0M325 801h0M278 812h0M276 824h0M409 811h0M362 760h0M344 773h0M269 764h0M355 792h0M422 798h0M298 816h0M338 796h0M284 766h0M360 820h0M308 822h0M322 828h0M386 785h0M318 820h0M357 805h0M366 806h0M265 824h0M406 819h0M340 786h0M266 810h0M385 822h0M312 796h0M395 797h0M340 789h0M347 830h0M391 789h0M368 780h0M309 828h0M357 819h0M419 792h0M312 784h0M278 818h0M256 808h0M279 787h0M299 820h0M291 776h0M300 825h0M368 778h0M396 779h0M261 824h0M266 813h0M416 809h0M258 817h0M363 818h0M296 829h0M319 789h0M336 761h0M326 790h0M394 799h0M287 793h0M344 818h0M336 804h0M360 819h0M385 797h0M318 776h0M385 792h0M327 780h0M367 765h0M359 810h0M412 802h0M280 764h0M391 817h0M303 769h0M269 782h0M316 813h0M381 821h0M263 824h0M388 819h0M255 805h0M343 773h0M381 771h0M324 811h0M294 778h0M333 790h0M299 782h0M404 825h0M340 763h0M301 815h0M396 767h0M310 812h0M374 784h0M301 773h0M324 802h0M332 766h0M376 802h0M275 829h0M345 814h0M395 785h0M371 821h0M278 800h0M314 776h0M269 813h0M346 824h0M362 791h0M395 766h0M348 774h0M395 780h0M297 797h0M337 795h0M425 803h0M262 799h0M402 775h0M369 813h0M336 825h0M343 778h0M285 814h0M430 799h0M394 767h0M414 808h0M323 816h0M341 812h0M310 823h0M286 812h0M381 778h0M425 824h0M361 820h0M376 779h0M323 775h0M392 789h0M266 790h0M288 801h0M315 808h0M392 800h0M341 815h0M261 805h0M351 788h0M397 822h0M327 830h0M270 802h0M294 780h0M336 811h0M260 799h0M285 781h0M414 803h0M378 763h0M277 765h0M414 792h0M403 813h0M363 804h0M360 815h0M267 822h0M381 770h0M264 780h0M262 803h0M354 821h0M412 792h0M265 828h0M312 806h0M360 789h0M267 802h0M295 811h0M425 820h0M357 786h0M305 782h0M323 804h0M342 819h0M259 826h0M300 799h0M428 793h0M411 774h0M318 762h0M329 797h0M410 785h0M309 771h0M332 776h0M297 797h0M364 808h0M330 810h0M357 782h0M303 780h0M377 781h0M399 821h0M338 763h0M281 816h0M253 818h0M411 784h0M288 782h0M257 830h0M382 761h0M305 773h0M284 763h0M383 762h0M321 801h0M315 806h0M403 762h0M401 812h0M382 796h0M411 789h0M378 776h0M378 778h0M313 777h0M321 791h0M362 815h0M409 782h0M365 821h0M348 811h0M381 827h0M276 812h0M290 806h0M270 761h0M328 780h0M275 818h0M287 802h0M378 779h0M322 829h0M357 807h0M405 808h0M381 783h0M284 804h0M369 771h0M421 762h0M315 802h0M287 781h0M307 780h0M412 783h0M318 824h0M355 775h0M389 816h0M310 797h0M355 808h0M291 764h0M260 790h0M345 818h0M390 815h0M427 802h0M280 786h0M356 781h0M309 804h0M425 804h0M274 811h0M432 763h0M320 801h0M288 778h0M339 826h0M367 814h0M351 823h0M254 816h0M343 813h0M374 819h0M278 785h0M360 787h0M394 764h0M329 827h0M362 806h0M297 781h0M287 805h0M339 780h0M360 764h0M389 822h0M361 764h0M263 818h0M422 829h0M261 802h0M434 769h0M360 763h0M336 779h0M381 812h0M391 788h0M351 818h0M276 770h0M405 806h0M412 789h0M374 821h0M262 763h0M397 796h0M393 814h0M396 822h0M316 793h0M396 770h0M330 820h0M297 773h0M276 792h0M304 802h0M304 818h0M258 791h0M414 780h0M363 778h0M369 798h0M277 809h0M327 816h0M318 826h0M257 817h0M335 769h0M344 819h0M368 789h0M423 779h0M332 785h0M283 790h0M302 779h0M412 817h0M383 807h0M353 807h0M424 790h0M279 768h0M336 814h0M311 785h0M272 763h0M312 819h0M349 807h0M364 788h0M386 807h0M425 823h0M427 771h0M292 780h0M326 784h0M332 761h0M314 787h0M344 773h0M292 802h0M285 761h0M408 828h0M293 766h0M351 798h0M325 806h0M366 792h0M267 795h0M314 772h0M339 784h0M391 792h0M308 779h0M406 811h0M309 821h0M262 828h0M322 794h0M417 788h0M309 815h0M330 798h0M316 802h0M262 815h0M409 766h0M374 829h0M416 779h0M328 800h0M401 778h0M387 819h0M364 784h0M376 793h0M322 763h0M414 786h0M388 765h0M301 787h0M307 772h0M424 829h0M287 768h0M327 801h0M297 798h0M396 805h0M293 761h0M416 790h0M397 783h0M283 784h0M324 795h0M383 812h0M390 760h0M361 803h0M302 794h0M407 775h0M292 804h0M325 822h0M351 794h0M307 829h0M265 821h0M369 808h0M291 781h0M419 799h0M298 798h0M266 785h0M397 798h0M329 821h0M307 776h0M282 801h0M316 823h0M373 814h0M276 781h0M299 782h0M285 798h0M382 836h0M338 789h0M290 792h0M342 758h0M293 799h0M432 793h0M342 817h0M315 803h0M365 801h0M335 767h0M342 786h0M363 768h0M321 802h0M314 796h0M344 797h0M276 796h0M378 799h0M373 777h0M256 776h0M376 805h0M341 803h0M356 837h0M362 780h0M380 816h0M390 794h0M356 776h0M288 819h0M324 761h0M261 801h0M337 798h0M329 801h0M385 820h0M327 791h0M340 782h0M398 796h0M311 763h0M360 774h0M280 775h0M390 778h0M378 789h0M306 784h0M423 765h0M396 796h0M386 773h0M312 783h0M390 818h0M377 798h0M353 820h0M360 753h0M343 798h0M400 764h0M267 797h0M335 789h0M357 778h0M357 817h0M322 830h0M329 782h0M354 809h0M337 812h0M351 801h0M365 837h0M373 795h0M247 784h0M302 775h0M267 782h0M313 807h0M318 801h0M360 826h0M294 770h0M355 798h0M341 795h0M318 785h0M299 779h0M357 769h0M403 790h0M317 759h0M335 810h0M413 798h0M260 771h0M259 748h0M355 765h0M400 793h0M363 781h0M342 803h0M400 768h0M331 773h0M329 794h0M313 781h0M290 832h0M382 807h0M352 807h0M336 779h0M342 789h0M263 795h0M374 828h0M347 809h0M330 790h0M328 780h0M310 800h0M309 781h0M356 814h0M345 775h0M394 746h0M330 812h0M352 785h0M356 803h0M370 819h0M346 768h0M358 802h0M434 796h0M365 817h0M297 815h0M269 781h0M340 784h0M333 765h0M380 797h0M273 749h0M383 777h0M390 798h0M251 846h0M396 846h0M278 834h0M340 835h0M242 846h0M430 848h0M416 848h0M276 815h0M462 843h0M377 841h0M280 848h0M315 843h0M283 848h0M321 849h0M217 832h0M283 840h0M237 847h0M278 843h0M269 814h0M464 819h0M314 829h0M283 839h0M325 848h0M298 845h0M226 842h0M230 829h0M285 843h0M274 846h0M252 845h0M411 844h0M404 839h0M384 848h0M354 842h0M368 848h0M259 842h0M348 845h0M411 847h0M333 847h0M386 840h0M279 848h0M388 814h0M385 843h0M398 848h0M443 845h0M232 843h0M309 848h0M306 847h0M325 830h0M277 840h0M419 834h0M400 841h0M226 825h0M305 814h0M263 841h0M422 847h0M231 848h0M293 846h0M437 817h0M229 846h0M218 840h0M447 822h0M348 847h0M369 842h0M402 844h0M439 846h0M465 848h0M271 843h0M275 848h0M221 792h0M456 846h0M258 837h0M383 845h0M387 844h0M356 845h0M240 845h0M343 843h0M259 848h0M391 842h0M311 848h0M300 837h0M358 844h0M250 837h0M450 824h0M264 845h0M298 839h0M342 847h0M219 849h0M309 843h0M323 839h0M465 830h0M450 844h0M302 838h0M334 839h0M297 838h0M303 840h0M403 848h0M444 847h0M292 838h0M362 841h0M442 844h0M263 840h0M255 833h0M460 839h0M364 838h0M439 848h0M297 827h0M235 836h0M341 840h0M221 845h0M248 842h0M343 819h0M236 842h0M398 845h0M215 840h0M371 841h0M434 849h0M390 841h0M231 842h0M464 830h0M272 846h0M443 826h0M451 797h0M393 847h0M240 846h0M300 845h0M395 846h0M334 848h0M312 848h0M236 847h0M227 839h0M294 848h0M460 847h0M224 846h0M383 845h0M276 843h0M385 842h0M401 847h0M224 848h0M378 839h0M436 840h0M272 838h0M272 845h0M227 839h0M423 836h0M244 846h0M372 845h0M353 848h0M259 838h0M438 846h0M303 848h0M331 834h0M341 841h0M244 844h0M423 842h0M316 843h0M331 842h0M254 847h0M248 839h0M306 842h0M375 835h0M341 842h0M400 844h0M227 835h0M425 848h0M289 848h0M322 847h0M225 838h0M391 829h0M369 846h0M271 843h0M419 826h0M316 844h0M329 847h0M429 828h0M453 830h0M373 839h0M386 846h0M327 848h0M228 848h0M450 847h0M307 839h0M382 842h0M357 844h0M304 842h0M233 846h0M242 839h0M296 839h0M269 844h0M404 843h0M444 839h0M290 845h0M354 847h0M355 841h0M325 845h0M365 846h0M405 847h0M223 833h0M372 848h0M233 842h0M382 846h0M273 836h0M255 846h0M399 846h0M252 843h0M266 830h0M435 846h0M226 845h0M397 848h0M442 842h0M363 847h0M333 842h0M292 841h0M381 845h0M430 828h0M357 832h0M381 845h0M463 845h0M287 822h0M328 841h0M444 830h0M449 824h0M329 846h0M422 848h0M309 840h0M387 847h0M394 844h0M326 814h0M405 848h0M402 846h0M250 840h0M394 840h0M266 840h0M299 833h0M371 840h0M347 848h0M338 842h0M399 846h0M441 847h0M271 812h0M461 841h0M345 836h0M333 843h0M222 847h0M247 838h0M285 847h0M255 848h0M358 843h0M336 842h0M401 844h0M307 841h0M369 818h0M280 847h0M261 835h0M430 846h0M359 844h0M325 846h0M402 847h0M254 837h0M285 846h0M266 846h0M455 830h0M376 835h0M455 845h0M242 845h0M237 846h0M278 832h0M245 842h0M257 847h0M407 848h0M313 847h0M344 832h0M381 825h0M266 847h0M303 839h0M269 846h0M302 826h0M251 839h0M458 849h0M389 847h0M216 846h0M403 803h0M366 837h0M353 843h0M440 848h0M310 837h0M279 843h0M385 845h0M402 846h0M228 843h0M224 841h0M289 835h0M309 844h0M305 845h0M247 846h0M393 840h0M445 829h0M389 839h0M246 848h0M437 838h0M335 846h0M281 823h0M435 814h0M423 839h0M215 848h0M359 840h0M316 842h0M444 846h0M434 840h0M280 830h0M441 840h0M384 845h0M297 846h0M436 840h0M453 848h0M218 848h0M435 847h0M455 847h0M339 840h0M399 837h0M344 845h0M225 846h0M410 834h0M412 834h0M310 840h0M238 846h0M289 836h0M405 835h0M380 844h0M376 844h0M363 842h0M388 836h0M341 840h0M299 843h0M244 832h0M319 842h0M296 847h0M404 846h0M322 848h0M370 846h0M240 835h0M282 840h0M279 843h0M364 837h0M235 840h0M307 837h0M324 843h0M316 847h0M311 831h0M314 838h0M408 839h0M373 832h0M293 843h0M281 839h0M371 843h0M362 835h0M298 847h0M376 833h0M285 837h0M312 842h0M285 843h0M302 842h0M270 837h0M338 847h0M306 832h0M273 846h0M377 842h0M310 845h0M269 838h0M251 835h0M326 842h0M249 846h0M405 835h0M408 841h0M307 838h0M406 832h0M354 845h0M288 845h0M298 846h0M387 832h0M378 838h0M292 841h0M274 845h0M330 841h0M394 846h0M263 841h0M254 840h0M327 835h0M265 832h0M253 839h0M299 841h0M352 831h0M385 832h0M381 841h0M388 839h0M252 842h0M260 847h0M267 844h0M274 841h0M400 832h0M379 838h0M235 844h0M249 836h0M318 836h0M244 843h0M335 841h0M236 839h0M388 847h0M271 838h0M237 833h0M325 838h0M379 840h0M400 832h0M272 842h0M258 839h0M246 841h0M409 843h0M331 836h0M255 846h0M344 838h0M345 832h0M323 847h0M390 836h0M397 833h0M402 839h0M259 832h0M301 845h0M323 840h0M399 840h0M322 833h0M237 832h0M313 846h0M334 831h0M371 838h0M398 839h0M347 836h0M328 845h0M249 847h0M387 842h0M273 837h0M349 835h0M254 836h0M256 840h0M396 846h0M301 832h0M376 837h0M295 846h0M369 838h0M402 847h0M240 834h0M396 837h0M251 848h0M297 844h0M362 843h0M278 846h0M317 838h0M290 835h0M408 835h0M367 848h0M349 843h0M347 840h0M403 836h0M295 842h0M273 843h0M401 839h0M297 845h0M412 834h0M289 839h0M269 840h0M239 846h0M274 836h0M290 831h0M369 833h0M242 844h0M257 835h0M384 831h0M313 834h0M364 841h0M390 831h0M410 840h0M320 845h0M281 848h0M346 834h0M285 838h0M410 841h0M328 833h0M349 848h0M269 841h0M353 842h0M338 840h0M377 834h0M365 843h0M373 844h0M395 839h0M336 848h0M341 842h0M244 843h0M392 840h0M364 845h0M360 845h0M302 834h0M243 848h0M263 838h0M296 831h0M386 842h0M390 845h0M289 840h0M248 848h0M269 842h0M256 837h0M276 839h0M254 844h0M255 842h0M295 836h0M271 836h0M401 838h0M348 840h0M262 835h0M242 848h0M266 836h0M296 839h0M286 848h0M275 843h0M276 841h0M269 841h0M307 843h0M396 837h0M296 837h0M300 833h0M247 836h0M237 835h0M284 839h0M378 845h0M361 838h0M302 845h0M401 837h0M344 848h0M405 843h0M280 843h0M283 833h0M333 833h0M317 834h0M370 835h0M275 836h0M370 836h0M328 840h0M402 833h0M365 836h0M412 833h0M349 833h0M386 846h0M308 834h0M307 843h0M410 835h0M397 837h0M331 844h0M248 832h0M279 839h0M248 847h0M414 840h0M371 839h0M368 831h0M381 845h0M410 835h0M301 842h0M319 838h0M264 848h0M402 843h0M387 838h0M361 838h0M245 840h0M334 847h0M253 843h0M311 834h0M319 843h0M384 837h0M240 832h0M281 837h0M245 831h0M245 838h0M359 839h0M381 834h0M343 835h0M308 844h0M380 836h0M247 848h0M335 845h0M390 846h0M454 801h0M433 818h0M439 844h0M465 810h0M432 806h0M437 791h0M432 786h0M443 835h0M464 828h0M437 830h0M451 825h0M463 845h0M428 790h0M444 789h0M433 787h0M484 832h0M480 841h0M470 846h0M434 800h0M437 806h0" stroke="#000" stroke-width="3.6" stroke-linecap="square"/>
<path d="M396 737h0M393 740h0M341 698h0M334 692h0M413 731h0M337 694h0M418 711h0M346 716h0M412 745h0M353 692h0M324 708h0M372 733h0M397 738h0M332 689h0M367 720h0M334 724h0M304 696h0M331 710h0M389 715h0M377 735h0M343 696h0M330 699h0M335 679h0M398 703h0M274 696h0M315 707h0M412 709h0M315 715h0M303 678h0M337 693h0M415 724h0M290 714h0M391 717h0M434 744h0M399 712h0M361 734h0M394 717h0M312 706h0M372 730h0M392 733h0M369 720h0M350 714h0M383 724h0M337 712h0M366 699h0M367 723h0M344 730h0M377 732h0M400 697h0M294 701h0M353 702h0M387 724h0M381 704h0M429 698h0M408 717h0M399 723h0M374 736h0M350 678h0M349 674h0M343 695h0M386 709h0M385 695h0M378 713h0M396 754h0M392 733h0M335 695h0M444 709h0M355 717h0M407 716h0M366 721h0M419 728h0M354 728h0M409 717h0M382 716h0M377 692h0M378 716h0M319 700h0M335 696h0M348 740h0M415 711h0M417 722h0M418 738h0M415 741h0M354 702h0M375 720h0M407 760h0M372 745h0M389 729h0M332 707h0M397 719h0M342 708h0M410 739h0M341 721h0M364 707h0M422 736h0M375 716h0M245 695h0M435 694h0M268 681h0M408 730h0M393 709h0M327 709h0M312 717h0M396 720h0M332 728h0M372 688h0M340 677h0M403 706h0M363 719h0M422 706h0M393 714h0M370 681h0M370 717h0M378 726h0M343 683h0M398 702h0M472 736h0M284 704h0M365 703h0M349 704h0M307 713h0M416 728h0M338 711h0M410 732h0M358 717h0M317 713h0M425 741h0M404 732h0M312 720h0M421 713h0M356 723h0M393 705h0M331 687h0M378 730h0M402 719h0M383 711h0M413 727h0M353 729h0M370 711h0M331 704h0M434 716h0M420 712h0M333 721h0M333 701h0M349 729h0M392 714h0M352 717h0M340 717h0M411 737h0M324 724h0M365 737h0M392 719h0M290 722h0M338 713h0M404 746h0M325 729h0M346 705h0M451 735h0M372 696h0M379 682h0M375 726h0M375 701h0M442 731h0M346 707h0M331 692h0M312 687h0M286 697h0M350 705h0M380 709h0M446 716h0M374 725h0M359 696h0M318 718h0M356 717h0M295 685h0M386 717h0M370 702h0M406 722h0M394 729h0M344 707h0M375 703h0M369 704h0M311 700h0M374 727h0M392 708h0M333 721h0M347 681h0M301 685h0M442 713h0M423 718h0M359 698h0M432 751h0M336 712h0M308 691h0M379 711h0M396 688h0M461 734h0M298 682h0M308 683h0M406 723h0M410 742h0M448 723h0M326 707h0M417 747h0M364 720h0M435 752h0M306 711h0M406 731h0M372 690h0M380 733h0M408 695h0M408 735h0M413 713h0M378 705h0M361 712h0M387 701h0M399 753h0M370 718h0M367 708h0M358 705h0M430 734h0M328 690h0M358 689h0M383 732h0M307 682h0M344 694h0M406 699h0M366 723h0M446 736h0M376 734h0M313 696h0M422 720h0M384 732h0M380 730h0M370 693h0M320 680h0M397 722h0M356 691h0M484 752h0M318 714h0M370 729h0M437 758h0M382 719h0M365 694h0M320 732h0M358 696h0M354 677h0M396 711h0M375 706h0M269 718h0M368 699h0M329 700h0M360 695h0M328 708h0M424 711h0M366 728h0M422 715h0M327 691h0M379 735h0M371 699h0M331 713h0M347 703h0M375 711h0M379 699h0M365 724h0M363 721h0M399 722h0M414 737h0M400 721h0M369 733h0M345 722h0M250 660h0M339 716h0M359 694h0M400 712h0M341 694h0M335 695h0M377 723h0M233 714h0M323 701h0M303 705h0M342 719h0M338 722h0M315 703h0M402 718h0M290 662h0M371 687h0M380 708h0M347 698h0M354 716h0M393 688h0M398 710h0M432 718h0M320 684h0M370 712h0M331 690h0M318 721h0M368 708h0M364 714h0M354 715h0M401 723h0M365 704h0M393 719h0M385 708h0M404 711h0M394 708h0M346 738h0M388 720h0M396 736h0M372 704h0M305 684h0M433 732h0M373 718h0M330 704h0M321 714h0M420 730h0M418 755h0M341 709h0M329 701h0M424 739h0M298 707h0M378 690h0M400 719h0M324 695h0M325 686h0M378 696h0M332 694h0M385 727h0M403 737h0M348 702h0M307 718h0M391 735h0M325 701h0M339 741h0M327 697h0M377 718h0M338 708h0M349 688h0M402 728h0M342 727h0M301 685h0M410 729h0M367 705h0M408 728h0M368 718h0M410 706h0M337 680h0M368 698h0M384 685h0M445 724h0M403 686h0M421 721h0M313 710h0M385 718h0M348 712h0M405 735h0M373 722h0M327 694h0M359 712h0M397 735h0M384 721h0M310 728h0M383 688h0M373 709h0M363 692h0M381 715h0M376 723h0M335 711h0M352 735h0M455 724h0M388 723h0M303 705h0M380 690h0M400 735h0M422 735h0M387 708h0M356 715h0M396 712h0M358 725h0M423 765h0M414 719h0M330 714h0M378 715h0M374 737h0M347 724h0M400 731h0M425 720h0M310 683h0M390 740h0M405 721h0M420 730h0M385 715h0M353 732h0M252 675h0M334 701h0M337 719h0M387 695h0M332 710h0M351 703h0M332 706h0M425 732h0M394 727h0M310 681h0M314 671h0M436 736h0M370 692h0M382 716h0M447 753h0M384 714h0M290 700h0M360 710h0M376 743h0M383 728h0M381 709h0M349 704h0M388 735h0M379 703h0M364 736h0M367 711h0M350 694h0M421 726h0M357 707h0M356 711h0M386 734h0M437 702h0M395 707h0M310 706h0M362 715h0M375 681h0M413 713h0M378 708h0M368 743h0M341 706h0M336 687h0M384 713h0M349 726h0M438 697h0M394 729h0M287 709h0M352 699h0M347 704h0M397 710h0M307 688h0M354 710h0M364 715h0M262 704h0M387 680h0M399 740h0M380 702h0M377 710h0M454 716h0M371 720h0M406 710h0M417 725h0M369 726h0M353 699h0M435 729h0M303 683h0M383 704h0M338 697h0M386 721h0M366 717h0M402 711h0M367 720h0M354 697h0M407 709h0M446 757h0M397 713h0M388 700h0M389 726h0M343 724h0M318 700h0M404 726h0M391 731h0M386 719h0M407 725h0M355 715h0M417 707h0M398 703h0M319 700h0M356 698h0M471 710h0M332 717h0M422 741h0M490 688h0M470 760h0M421 735h0M387 698h0M274 646h0M392 658h0M325 659h0M262 658h0M361 657h0M386 687h0M318 705h0M335 727h0M484 732h0M390 732h0M355 673h0M508 748h0M412 693h0M351 720h0M332 679h0M293 651h0M357 716h0M315 696h0M324 690h0M285 718h0M329 662h0M383 717h0M345 663h0M367 658h0M266 669h0M301 678h0M444 713h0M346 693h0M301 684h0M465 677h0M350 686h0M340 674h0M260 650h0M485 753h0M387 679h0M302 675h0M441 660h0M254 675h0M374 706h0M385 694h0M354 652h0M446 736h0M293 666h0M345 666h0M407 683h0M368 670h0M305 691h0M384 747h0M251 635h0M298 646h0M296 664h0M372 687h0M347 688h0M449 767h0M451 725h0M439 713h0M384 699h0M346 657h0M330 686h0M441 733h0M384 734h0M395 731h0M486 750h0M340 672h0M385 698h0M277 677h0M397 734h0M331 731h0M482 716h0M397 722h0M348 685h0M447 722h0M345 675h0M356 648h0M328 716h0M356 684h0M336 625h0M528 730h0M415 654h0M313 696h0M364 678h0M340 723h0M240 695h0M381 717h0M391 689h0M348 661h0M383 696h0M303 678h0M336 630h0M311 621h0M393 680h0M350 699h0M312 697h0M239 623h0M316 680h0M385 681h0M321 651h0M339 680h0M420 734h0M270 677h0M396 690h0M278 699h0M374 725h0M427 734h0M342 707h0M254 672h0M319 664h0M395 720h0M415 710h0M414 731h0M393 686h0M428 705h0M282 684h0M390 663h0M468 691h0M379 749h0M400 692h0M324 662h0M311 703h0M404 702h0M448 729h0M352 697h0M357 710h0M330 681h0M427 687h0M475 711h0M459 678h0M289 718h0M237 695h0M427 720h0M240 666h0M364 733h0M251 728h0M297 675h0M409 678h0M313 652h0M274 654h0M360 655h0M432 719h0M440 715h0M328 680h0M292 676h0M369 715h0M348 696h0M251 670h0M265 630h0M425 693h0M357 699h0M334 682h0M305 638h0M323 700h0M379 766h0M302 688h0M279 657h0M280 688h0M373 708h0M305 708h0M304 681h0M341 695h0M325 639h0M346 650h0M342 711h0M320 688h0M444 733h0M245 659h0M356 668h0M369 713h0M270 670h0M328 707h0M347 713h0M308 703h0M444 728h0M374 665h0M366 663h0M232 661h0M474 701h0M402 703h0M285 708h0M308 701h0M267 697h0M351 696h0M420 692h0M393 694h0M369 698h0M302 681h0M413 756h0M393 699h0M430 656h0M326 673h0M393 714h0M463 739h0M312 653h0M401 693h0M387 737h0M352 718h0M499 697h0M315 701h0M302 680h0M378 700h0M292 686h0M379 694h0M358 698h0M342 701h0M311 670h0M395 695h0M292 683h0M354 674h0M443 727h0M355 729h0M336 658h0M328 669h0M384 686h0M400 695h0M317 660h0M339 705h0M257 676h0M392 690h0M325 681h0M435 690h0M378 750h0M351 659h0M296 661h0M376 675h0M315 700h0M437 747h0M346 704h0M313 692h0M376 688h0M370 662h0M396 709h0M388 670h0M267 675h0M492 715h0M326 699h0M344 660h0M456 688h0M360 690h0M300 726h0M377 693h0M489 730h0M420 732h0M411 677h0M299 696h0M356 700h0M378 701h0M377 694h0M390 689h0M319 651h0M355 699h0M375 736h0M314 687h0M305 701h0M417 706h0M352 687h0M410 689h0M290 721h0M361 702h0M448 681h0M343 711h0M336 670h0M318 681h0M387 690h0M245 661h0M410 679h0M350 702h0M290 662h0M349 663h0M290 659h0M441 681h0M459 740h0M329 696h0M390 709h0M298 688h0M269 644h0M376 688h0M431 727h0M346 651h0M333 711h0M404 690h0M294 700h0M371 677h0M246 678h0M340 678h0M308 662h0M283 687h0M415 732h0M393 705h0M321 684h0M333 689h0M496 750h0M319 647h0M376 710h0M266 656h0M366 700h0M442 698h0M353 692h0M403 728h0M384 688h0M359 654h0M294 659h0M281 680h0M317 669h0M278 637h0M367 708h0M431 683h0M352 709h0M387 692h0M380 703h0M411 777h0M412 699h0M385 715h0M276 713h0M410 662h0M366 688h0M302 689h0M505 735h0M344 705h0M337 688h0M290 667h0M398 690h0M415 713h0M412 681h0M352 665h0M322 708h0M295 658h0M315 720h0M239 670h0M402 686h0M318 712h0M292 700h0M324 698h0M383 708h0M399 713h0M349 677h0M418 702h0M402 637h0M387 668h0M379 726h0M274 655h0M399 697h0M355 680h0M342 723h0M431 706h0M234 654h0M441 671h0M284 657h0M306 672h0M327 689h0M378 658h0M349 695h0M323 672h0M362 702h0M341 697h0M277 711h0M401 659h0M380 674h0M242 695h0M279 686h0M420 719h0M431 726h0M295 662h0M307 669h0M329 694h0M254 635h0M262 683h0M286 670h0M388 680h0M291 734h0M410 746h0M407 743h0M411 754h0M461 727h0M485 751h0M427 727h0M420 720h0M413 733h0M404 738h0M394 740h0M409 742h0M399 747h0M439 742h0M429 730h0M403 744h0M394 727h0M401 735h0M416 746h0M433 741h0M426 739h0M455 731h0M409 723h0M438 741h0M412 714h0M385 730h0M447 751h0M435 762h0M409 724h0M431 744h0M409 743h0M425 750h0M453 729h0M460 739h0M437 743h0M424 751h0M436 727h0M457 743h0M433 715h0M436 766h0M447 740h0M440 702h0M450 736h0M390 735h0M437 746h0M429 754h0M466 753h0M427 737h0M416 746h0M416 725h0M413 747h0M427 735h0M416 745h0M419 706h0M406 744h0M438 720h0M439 731h0M445 755h0M423 769h0M441 742h0M424 738h0M457 734h0M394 736h0M404 723h0M452 724h0M412 737h0M444 750h0M413 725h0M405 753h0M414 745h0M434 739h0M413 755h0M412 766h0M420 747h0M403 739h0M441 755h0M416 758h0M438 740h0M397 754h0M415 752h0M421 751h0M447 742h0M431 755h0M449 755h0M427 735h0M421 743h0M431 742h0M427 748h0M420 745h0M410 745h0M475 731h0M427 738h0M436 757h0M483 737h0M436 737h0M435 749h0M451 723h0M411 721h0M421 743h0M403 723h0M425 731h0M427 735h0M419 724h0M408 708h0M424 714h0M423 723h0M404 753h0M460 757h0M440 754h0M434 729h0M438 724h0M280 645h0M403 622h0M323 679h0M271 661h0M272 685h0M421 644h0M288 661h0M414 657h0M297 640h0M355 636h0M287 647h0M280 643h0M326 651h0M368 621h0M387 621h0M314 668h0M376 633h0M291 676h0M368 629h0M337 643h0M400 676h0M313 650h0M255 675h0M297 644h0M280 643h0M394 673h0M333 633h0M444 636h0M281 675h0M321 625h0M315 678h0M445 678h0M427 688h0M381 664h0M264 642h0M389 637h0M326 622h0M343 686h0M331 680h0M270 622h0M278 642h0M364 647h0M387 620h0M311 647h0M422 620h0M348 643h0M360 651h0M280 631h0M391 632h0M372 641h0M408 633h0M386 652h0M341 670h0M284 689h0M428 654h0M368 689h0M305 661h0M357 642h0M375 638h0M440 669h0M288 670h0M424 666h0M317 668h0M269 645h0M318 687h0M280 637h0M311 689h0M410 676h0M331 683h0M325 639h0M473 724h0M551 768h0M530 753h0M504 726h0M479 748h0M490 706h0M566 753h0M534 785h0M525 765h0M531 759h0M519 764h0M494 716h0M509 748h0M511 749h0M559 755h0M560 740h0M505 723h0M518 750h0M505 761h0M482 744h0M567 759h0M486 735h0M541 765h0M552 769h0M539 785h0" stroke="#ff0000" stroke-width="4.4" stroke-linecap="round"/>
<path d="M1020 788h0M1003 743h0M1068 741h0M967 750h0M1102 685h0M969 772h0M1066 769h0M1044 771h0M1044 753h0M974 737h0M1024 713h0M1110 768h0M1110 763h0M988 740h0M1064 671h0M988 747h0M1052 700h0M1086 698h0M1034 740h0M1011 735h0M985 691h0M1080 746h0M1110 697h0M1099 730h0M1029 779h0M1133 782h0M1043 702h0M1034 723h0M1031 706h0M1102 665h0M1049 667h0M1052 672h0M1110 729h0M956 786h0M1008 742h0M1078 750h0M1104 744h0M974 733h0M1151 767h0M1067 756h0M1082 776h0M1006 666h0M1062 772h0M1091 764h0M1027 686h0M1076 750h0M1049 711h0M1036 712h0M970 731h0M1062 682h0M1063 723h0M978 736h0M1082 744h0M1070 676h0M981 711h0M1175 790h0M987 780h0M993 771h0M1128 741h0M1017 744h0M996 752h0M1036 715h0M1004 737h0M1029 684h0M982 695h0M1058 742h0M1123 725h0M1039 760h0M998 770h0M1079 698h0M1075 685h0M1067 732h0M1006 771h0M986 758h0M1144 763h0M1001 787h0M1048 760h0M1055 665h0M1168 787h0M1063 770h0M1029 774h0M1002 751h0M1029 790h0M1071 686h0M1034 667h0M1129 743h0M1108 784h0M1080 702h0M1036 710h0M1056 759h0M1017 677h0M986 771h0M1003 689h0M1072 774h0M1076 775h0M997 747h0M991 734h0M1049 718h0M1117 782h0M1145 765h0M1028 728h0M1070 671h0M1009 696h0M1077 764h0M1019 735h0M1060 723h0M1054 665h0M1057 761h0M979 735h0M1080 711h0M1020 790h0M1005 676h0M1073 692h0M998 748h0M1057 667h0M1092 756h0M1046 713h0M1061 703h0M963 772h0M1130 785h0M1116 788h0M1133 743h0M1119 766h0M1035 744h0M990 664h0M967 776h0M1048 784h0M1049 764h0M1158 757h0M1052 772h0M1097 793h0M1118 815h0M1127 814h0M1094 813h0M1127 822h0M1061 830h0M1084 788h0M991 823h0M1131 797h0M1061 818h0M1096 828h0M1049 801h0M1006 801h0M1023 818h0M1134 824h0M1133 823h0M1096 789h0M1040 826h0M1028 802h0M1004 826h0M1101 795h0M1020 810h0M1140 803h0M1070 805h0M1014 790h0M1106 807h0M1165 819h0M1000 812h0M1008 819h0M1037 819h0M1070 801h0M1033 819h0M1072 823h0M1150 814h0M1120 815h0M1133 793h0M1118 808h0M989 817h0M1141 786h0M1163 828h0M1042 827h0M1152 811h0M1119 810h0M1108 794h0M1011 790h0M1090 819h0M1045 809h0M1062 819h0M1078 815h0M1108 801h0M1148 829h0M1109 814h0M1079 821h0M1069 818h0M1042 825h0M1018 808h0M1079 828h0M1015 787h0M988 828h0M1067 827h0M1027 813h0M1058 787h0M1140 802h0M1144 806h0M1103 790h0M1111 828h0M1047 823h0M1124 821h0M1005 801h0M1057 816h0M1035 788h0M1069 826h0M1096 794h0M1124 808h0M1060 815h0M1041 788h0M1047 803h0M1118 804h0M1169 829h0M1026 823h0M1024 803h0M1156 812h0M1150 828h0M1121 827h0M1008 818h0M1147 789h0M1126 825h0M1053 787h0M1055 820h0M1089 820h0M1016 799h0M1020 818h0M1087 789h0M1160 810h0M1078 787h0M1069 802h0M1126 817h0M1137 817h0M1019 788h0M1090 797h0M1076 813h0M1015 816h0M1033 792h0M1043 821h0M1105 807h0M1131 792h0M1028 791h0M982 827h0M1112 821h0M1003 790h0M1028 825h0M1119 789h0M1073 792h0M1126 813h0M989 816h0M1148 795h0M995 801h0M1106 791h0M1086 820h0M1110 786h0M1082 786h0M1152 806h0M1116 793h0M1019 792h0M1002 788h0M1008 821h0M1051 814h0M1124 794h0M1115 802h0M1006 794h0M1000 810h0M991 821h0M1155 815h0M1001 787h0M1141 827h0M1014 794h0M1017 828h0M1025 803h0M1133 798h0M1088 823h0M1082 826h0M1013 829h0M1139 801h0M1090 824h0M1108 797h0M1095 797h0M1051 829h0M1006 824h0M1025 825h0M1041 802h0M1087 801h0M1121 806h0M1101 820h0M1112 791h0M1081 796h0M1153 829h0M996 803h0M1047 801h0M1084 787h0M1151 810h0M1019 850h0M1003 849h0M1154 819h0M1092 844h0M982 841h0M1147 840h0M980 847h0M1158 850h0M1085 850h0M1120 844h0M1024 842h0M1081 849h0M1107 847h0M1128 848h0M1045 850h0M1065 840h0M1060 849h0M1159 835h0M1149 847h0M1083 835h0M1027 842h0M1063 849h0M1150 843h0M1159 836h0M1053 835h0M1057 850h0M1073 825h0M1087 847h0M1006 846h0M1080 845h0M1134 842h0M1017 844h0M979 850h0M969 850h0M968 840h0M983 849h0M1051 844h0M1028 841h0M1121 837h0M1005 847h0M973 838h0M1011 835h0M971 841h0M1060 842h0M1098 849h0M1164 842h0M1031 847h0M986 841h0M970 844h0M979 844h0M984 849h0M1068 842h0M1041 848h0M1057 839h0M978 842h0M1162 845h0M1032 847h0M1139 850h0M984 845h0M1079 848h0M1170 846h0M1118 850h0M1168 842h0M1068 849h0M974 843h0M1098 837h0M1028 844h0M1110 844h0M1134 823h0M1074 838h0M1044 848h0M1037 840h0M1124 837h0M1034 849h0M1144 846h0M1016 841h0M1155 848h0M1022 847h0M1070 850h0M984 834h0M1063 839h0M1014 849h0M1023 847h0M1127 845h0M1114 845h0M990 846h0M1110 849h0M1126 843h0M1087 841h0M1010 850h0M1022 849h0M1126 848h0M1124 843h0M1091 840h0M986 844h0M1029 848h0M1010 844h0M1071 849h0M1084 847h0M1147 847h0M1162 841h0M1025 847h0M1029 845h0M1037 850h0M1059 833h0M1000 844h0M992 849h0M1000 840h0M1030 841h0M1094 840h0M1168 846h0M1069 847h0M1046 816h0M1131 847h0M1126 849h0M1067 831h0M1070 840h0M996 849h0M1123 845h0M978 843h0M1088 849h0M1108 845h0M1005 842h0M1052 847h0M1001 847h0M972 847h0M1031 848h0M974 840h0M1007 849h0M1080 831h0M1151 849h0M1037 847h0M1147 834h0M1096 849h0M1017 850h0M1011 843h0M1165 836h0M1042 849h0M1045 849h0M990 850h0M1071 849h0M1002 836h0M1078 850h0M981 847h0M989 840h0M1087 841h0M989 838h0M1024 829h0M1004 841h0M1081 848h0M1049 848h0M1176 837h0M1067 848h0M988 846h0M1100 841h0M1139 844h0M984 850h0M1162 845h0M1024 844h0M1126 845h0M1122 841h0M1131 835h0M1118 844h0M983 844h0M1080 840h0M1157 839h0M1023 847h0M1007 839h0M1140 842h0M1008 847h0M1074 847h0M1000 848h0M1023 839h0M991 847h0M1131 841h0M1169 846h0M1100 849h0M986 841h0M1069 837h0M1174 847h0M1043 844h0M1133 839h0M1135 846h0M1156 843h0M1080 843h0M1025 842h0M1056 834h0M1095 846h0M999 845h0M999 849h0M997 840h0M1063 847h0M1109 845h0M1051 847h0M1051 847h0M1081 823h0M1043 843h0M1059 834h0M1086 850h0M1107 839h0M981 841h0M1129 844h0M1104 840h0M1171 847h0M1083 831h0M1022 842h0M1175 847h0M981 822h0M1052 845h0M1123 845h0M1021 848h0M1068 840h0M1078 848h0M1098 843h0M1034 843h0M1055 837h0M1175 822h0M1126 841h0M1101 848h0M1142 825h0M992 849h0M990 850h0M1096 827h0M970 847h0M1012 808h0M1149 848h0M1100 806h0M1171 843h0M1080 829h0M1003 840h0M1159 849h0M1100 838h0M1008 835h0M1090 844h0M1024 835h0M1020 848h0M1078 847h0M1068 847h0M1017 833h0M1114 840h0M1035 835h0M1099 837h0M1128 848h0M1096 846h0M1061 847h0M997 841h0M1046 846h0M1006 842h0M1128 847h0M1043 849h0M1077 846h0M974 849h0M1100 849h0M1175 849h0M1004 847h0M988 836h0M1043 847h0M1094 850h0M1078 834h0M1024 836h0M1035 844h0M1053 849h0M1160 830h0M1028 843h0M1027 849h0M1032 835h0M1068 850h0M1153 834h0M1108 850h0M978 837h0M1149 848h0M1087 837h0M1074 848h0M1103 846h0M1049 846h0M1020 845h0M1154 840h0M1065 846h0M1137 847h0M1160 836h0M1096 846h0M1146 844h0M1119 849h0M1087 850h0M1169 848h0M1113 844h0M1040 843h0M1073 826h0M990 846h0M1108 849h0M984 844h0M1025 837h0M1118 839h0M1001 849h0M1174 843h0M1105 850h0M1018 848h0M1157 847h0M1158 845h0M1101 848h0M1102 848h0M1155 844h0M1043 843h0M1041 847h0M1082 848h0M1066 848h0M1152 835h0M1076 828h0M1073 841h0M1113 849h0M980 847h0M1032 849h0M1047 842h0M1042 844h0M1139 845h0M1145 839h0M1147 836h0M1123 829h0M1098 831h0M1034 844h0M1143 838h0M1113 837h0M1090 832h0M1025 849h0M1011 847h0M1159 843h0M1136 846h0M1092 842h0M1022 841h0M1014 844h0M978 845h0M1137 848h0M984 845h0M1030 844h0M1067 849h0M1127 849h0M987 849h0M974 842h0M1111 835h0M1035 828h0M1161 845h0M1166 849h0M986 849h0M982 849h0M1125 842h0M1015 845h0M1115 847h0M1126 846h0M1022 848h0M1126 842h0M966 832h0M1014 848h0M969 846h0M1164 845h0M1108 850h0M1121 811h0M1130 849h0M1070 846h0M1122 845h0M1130 845h0M1009 844h0M1124 848h0M1141 847h0M1157 849h0M1024 835h0M970 842h0M1172 846h0M1048 850h0M1080 849h0M1152 848h0M1135 846h0M1154 835h0M1065 838h0M1142 841h0M1020 837h0M1114 847h0M1068 847h0M1077 844h0M1120 840h0M1174 830h0M1163 844h0M1074 834h0M1067 846h0M1117 849h0M1134 839h0M994 827h0M1038 824h0M1088 846h0M1169 849h0M1067 847h0M1032 847h0M1090 849h0M1128 848h0M1066 841h0M980 846h0M1126 841h0M1002 835h0M1094 850h0M1171 850h0M972 849h0M1067 842h0M1101 847h0M1067 847h0M973 844h0M1152 846h0M1022 843h0M976 847h0M1142 850h0M1043 847h0M995 840h0M979 841h0M1173 812h0M968 848h0M1057 849h0M992 846h0M1160 844h0M1122 849h0M967 842h0M1034 848h0M997 838h0M1013 839h0M1117 833h0M1014 816h0M1154 827h0M980 824h0M1069 828h0M1096 825h0M1117 836h0M1123 823h0M993 825h0M1161 836h0M1099 843h0M1090 826h0M1117 821h0M1076 835h0M1073 843h0M1065 816h0M1129 833h0M1014 848h0M1124 821h0M982 827h0M1059 823h0M993 835h0M1058 843h0M1129 835h0M1022 819h0M1024 846h0M994 833h0M1027 832h0M1149 821h0M1136 842h0M1139 827h0M988 845h0M1120 846h0M1154 819h0M1070 837h0M1133 849h0M977 843h0M1035 816h0M1124 840h0M1033 838h0M1137 826h0M1072 836h0M1116 842h0M1100 841h0M1069 825h0M1097 846h0M1121 815h0M1166 828h0M1063 817h0M1061 818h0M1006 845h0M1150 843h0M1092 836h0M1052 821h0M1147 829h0M1142 830h0M1119 838h0M1172 816h0M1044 837h0M1140 838h0M988 837h0M982 825h0M1040 836h0M1129 838h0M1088 840h0M1167 831h0M1170 834h0M1134 821h0M1071 835h0M1077 817h0M1139 820h0M1174 836h0M1006 843h0M1157 833h0M1151 832h0M1068 821h0M969 849h0M984 834h0M1003 823h0M1167 832h0M1145 834h0M1157 821h0M1088 831h0M1018 819h0M1121 823h0M1062 849h0M1171 824h0M1007 839h0M1065 819h0M1172 846h0M1011 829h0M1056 831h0M1151 838h0M1043 840h0M1060 842h0M1109 822h0M1101 816h0M1137 819h0M998 835h0M1168 831h0M1161 842h0M1053 848h0M993 834h0M1075 833h0M1052 847h0M1038 830h0M1022 840h0M1014 834h0M1096 840h0M965 802h0M954 827h0M949 803h0M951 840h0M955 827h0M943 808h0M944 829h0M940 809h0M941 835h0M944 837h0M1202 754h0M1229 772h0M966 671h0M955 733h0M948 792h0" stroke="#000" stroke-width="3.6" stroke-linecap="square"/>
<path d="M1279 710h0M1186 693h0M1002 623h0M972 603h0M1058 651h0M979 583h0M959 594h0M933 600h0M1009 616h0M1113 660h0M1002 592h0M1180 696h0M1075 644h0M1225 690h0M1023 607h0M1257 731h0M1150 664h0M1029 622h0M998 632h0M1244 711h0M1117 656h0M1103 643h0M986 593h0M965 597h0M1245 732h0M1171 694h0M978 558h0M1274 730h0M1127 665h0M1040 606h0M1127 653h0M1220 696h0M1087 645h0M1088 641h0M953 572h0M1128 644h0M1131 658h0M1069 631h0M1136 659h0M1102 642h0M1053 614h0M1048 622h0M1167 689h0M1278 716h0M1037 630h0M1060 630h0M1210 715h0M1234 712h0M1262 717h0M1051 620h0M1151 676h0M1238 712h0M1148 678h0M1029 631h0M1236 706h0M1184 706h0M1043 626h0M1066 651h0M1142 659h0M1071 657h0M978 602h0M1178 660h0M1115 677h0M943 562h0M1098 661h0M1016 616h0M1096 639h0M1031 599h0M928 597h0M1124 661h0M961 617h0M1113 666h0M1230 711h0M1219 683h0M1020 617h0M1194 705h0M1208 699h0M1104 637h0M1003 600h0M1117 643h0M1175 712h0M971 591h0M1037 610h0M1035 611h0M1263 702h0M948 590h0M1021 638h0M1113 659h0M1267 715h0M1059 626h0M1062 636h0M1156 681h0M1048 610h0M1025 624h0M1087 640h0M1160 687h0M968 589h0M1164 682h0M1031 634h0M1163 675h0M1010 609h0M1095 628h0M1142 673h0M1118 644h0M1193 690h0M1163 656h0M1195 689h0M1170 676h0M1106 663h0M1097 686h0M1104 651h0M1173 688h0M1062 632h0M1155 678h0M1184 671h0M1135 656h0M1097 642h0M1052 671h0M1118 674h0M1123 695h0M1090 628h0M1155 662h0M1202 683h0M1095 662h0M1053 628h0M1141 647h0M1116 638h0M1094 677h0M1193 691h0M1106 644h0M1153 688h0M1041 613h0M1040 630h0M1126 667h0M1144 682h0M1110 666h0M1080 657h0M1184 655h0M1205 697h0M1154 677h0M1200 696h0M1139 661h0M1111 665h0M1059 633h0M1081 646h0M1167 684h0M1190 681h0M1094 648h0M1060 642h0M1077 631h0M1131 654h0M1112 656h0M1165 704h0M1145 661h0M1144 711h0M1093 646h0M1186 689h0M1085 665h0M1055 649h0M1062 644h0M1112 644h0M1166 658h0M1144 669h0M1177 666h0M1152 708h0M1076 642h0M1144 731h0M1130 654h0M1125 661h0M1093 628h0M1206 673h0M1111 626h0M980 609h0M1025 632h0M1118 644h0M1159 655h0M1146 691h0M1035 627h0M1197 700h0M1032 639h0M1111 661h0M1031 628h0M1132 647h0M1139 663h0M1149 686h0M1067 615h0M1179 696h0M1065 654h0M1137 675h0M1082 634h0M1180 685h0M1087 656h0M1046 626h0M1090 692h0M1015 614h0M1079 615h0M1219 730h0M1086 641h0M1097 648h0M1088 651h0M1169 688h0M1171 660h0M1207 688h0M1060 621h0M1142 669h0M1042 625h0M1226 711h0M1095 637h0M1137 651h0M1109 636h0M1160 664h0M1188 706h0M1113 680h0M1199 685h0M1206 712h0M1176 682h0M1103 673h0M1095 650h0M1166 662h0M1021 636h0M1156 708h0M1158 664h0M1155 688h0M1164 693h0M1150 690h0M1067 646h0M1055 623h0M1162 668h0M1034 613h0M1142 688h0M1134 685h0M989 603h0M1160 676h0M1150 662h0M1104 677h0M1054 670h0M1125 661h0M1232 707h0M1160 697h0M1082 642h0M1111 655h0M1068 655h0M1137 653h0M1090 667h0M1058 630h0M1195 712h0M1118 671h0M1127 706h0M1178 697h0M1077 638h0M1123 653h0M1121 664h0M1104 650h0M1055 618h0M1222 731h0M1141 682h0M1130 654h0M1137 644h0M1121 646h0M1095 669h0M1104 652h0M1147 680h0M1199 705h0M1181 684h0M1077 658h0M1183 671h0M1039 618h0M1184 678h0M1129 699h0M1141 673h0M1126 679h0M1022 605h0M1097 685h0M1228 707h0M1147 654h0M1079 647h0M1079 651h0M1096 656h0M1171 680h0M1135 673h0M1090 650h0M1094 638h0M1083 634h0M1014 637h0M987 613h0M1079 619h0M1112 637h0M1070 663h0M1153 678h0M1160 649h0M1209 704h0M1073 645h0M1181 677h0M1100 689h0M1190 702h0M1108 630h0M1064 639h0M1120 689h0M1099 652h0M1090 623h0M1135 650h0M1087 627h0M1128 653h0M1122 693h0M1110 660h0M1079 618h0M1233 675h0M1227 726h0M1102 662h0M1104 662h0M1144 672h0M1093 648h0M1113 657h0M1115 669h0M1113 659h0M1091 648h0M1114 659h0M1132 658h0M1023 635h0M1141 683h0M1160 659h0M1152 690h0M1155 659h0M1102 665h0M1162 671h0M1123 675h0M1027 603h0M1077 624h0M1084 655h0M1093 636h0M1075 667h0M1214 687h0M1175 704h0M1092 648h0M1145 653h0M1091 649h0M1053 626h0M1181 656h0M1186 717h0M1103 656h0M1124 634h0M1124 654h0M1116 622h0M1165 677h0M1130 659h0M1174 671h0M1069 616h0M1105 667h0M1191 702h0M1123 664h0M1079 628h0M1143 671h0M1076 640h0M1172 646h0M1140 668h0M1111 637h0M1157 688h0M1108 630h0M1088 650h0M1072 650h0M1018 650h0M1058 619h0M1164 681h0M1120 652h0M1158 680h0M1154 693h0M1054 660h0M1128 650h0M1217 687h0M1251 703h0M1227 684h0M940 596h0M1092 673h0M1106 651h0M1193 688h0M1054 644h0M1239 704h0M1138 678h0M1117 664h0M1153 693h0M1062 614h0M1164 659h0M1123 661h0M1174 682h0M1125 642h0M1130 642h0M1145 689h0M1219 714h0M1114 645h0M1084 659h0M1159 692h0M1102 639h0M1004 625h0M1105 646h0M1118 696h0M1093 643h0M1057 637h0M1032 603h0M1131 653h0M1110 665h0M1093 673h0M1082 628h0M1114 651h0M1126 673h0M1100 630h0M1024 643h0M1075 678h0M1143 665h0M1084 625h0M1106 668h0M1149 685h0M1124 648h0M1130 651h0M1096 637h0M1054 618h0M1065 638h0M1139 675h0M1056 624h0M1190 702h0M1138 674h0M1160 667h0M1038 639h0M1062 637h0M1194 688h0M1051 632h0M1026 606h0M1077 651h0M1201 718h0M1215 701h0M1048 617h0M1102 649h0M1086 661h0M1129 684h0M1204 685h0M1072 655h0M1176 674h0M1084 668h0M1156 702h0M1067 649h0M1127 655h0M1082 646h0M1072 652h0M1208 696h0M1117 669h0M1137 684h0M1056 604h0M1079 644h0M1174 695h0M1089 619h0M1125 669h0M1160 691h0M1132 652h0M1111 666h0M1066 639h0M1080 629h0M1094 643h0M1052 624h0M1096 639h0M1131 675h0M1044 603h0M1046 624h0M979 599h0M1104 658h0M1079 655h0M1122 677h0M1079 597h0M1144 672h0M1112 685h0M1093 663h0M1080 640h0M1099 652h0M1081 676h0M1032 622h0M1103 663h0M1148 657h0M1069 658h0M1139 644h0M1107 691h0M1067 647h0M1211 726h0M1046 623h0M1133 664h0M1105 661h0M1100 653h0M1175 676h0M1172 655h0M1157 671h0M1064 619h0M1157 672h0M1064 613h0M1092 648h0M1119 656h0M1068 645h0M997 622h0M1231 700h0M1121 658h0M1055 623h0M1086 632h0M1118 656h0M1171 653h0M1040 630h0M1207 710h0M1126 657h0M1080 644h0M1206 694h0M1162 664h0M1128 654h0M1034 627h0M1149 663h0M1176 687h0M1114 669h0M1129 697h0M1064 644h0M1076 662h0M1029 622h0M1141 640h0M1063 652h0M1163 656h0M1149 689h0M1046 644h0M1099 675h0M1039 619h0M1094 637h0M1108 663h0M1056 606h0M1119 676h0M1171 710h0M1066 602h0M1067 640h0M1062 635h0M1039 646h0M1077 640h0M1052 658h0M1032 603h0M1118 656h0M1070 663h0M1063 650h0M1110 645h0M1146 677h0M1049 644h0M1140 672h0M1084 621h0M1050 616h0M1005 632h0M1171 706h0M1100 626h0M1158 676h0M1070 655h0M1123 680h0M1059 635h0M1134 657h0M1100 628h0M1012 639h0M1130 661h0M1087 668h0M1168 659h0M1079 621h0M990 603h0M1181 699h0M1047 625h0M1135 669h0M1097 630h0M1043 625h0M1183 690h0M1191 688h0M1117 659h0M1173 675h0M1017 605h0M1097 675h0M1152 636h0M1067 634h0M1113 662h0M1113 661h0M1201 684h0M1195 693h0M1111 669h0M1176 657h0M1169 700h0M1095 657h0M1119 677h0M1195 714h0M1151 656h0M1140 693h0M1030 611h0M1208 688h0M1157 651h0M1130 656h0M1066 629h0M1147 693h0M1158 655h0M1144 679h0M1137 665h0M1072 645h0M1152 701h0M1188 710h0M1050 647h0M1089 675h0M1013 619h0M1020 599h0M1076 647h0M1183 694h0M1080 625h0M1201 697h0M1171 675h0M1098 655h0M1165 678h0M1154 677h0M1189 722h0M1185 659h0M1113 664h0M1105 680h0M1111 673h0M1075 628h0M1144 681h0M1106 675h0M1144 676h0M1129 676h0M1089 655h0M1103 674h0M1002 606h0M1158 671h0M1084 667h0M1112 665h0M1118 659h0M1180 712h0M1097 627h0M1038 628h0M1101 635h0M1219 700h0M1084 679h0M1057 633h0M977 576h0M1113 641h0M1060 633h0M1134 654h0M1140 656h0M1216 698h0M1135 679h0M1051 639h0M1043 623h0M1133 650h0M1173 702h0M1166 683h0M1253 721h0M1077 632h0M1082 646h0M1138 673h0M1159 685h0M1026 627h0M988 621h0M1116 670h0M1045 619h0M1089 657h0M1139 661h0M1076 668h0M1184 686h0M1087 634h0M1173 717h0M1110 638h0M1183 686h0M1076 649h0M1147 698h0M1142 667h0M1173 707h0M1167 696h0M1136 667h0M1187 708h0M1122 679h0M1154 661h0M1264 737h0M1107 655h0M1155 673h0M1006 635h0M1172 645h0M1021 583h0M1155 695h0M1046 627h0M1182 657h0M1173 699h0M1088 658h0M1071 645h0M1203 685h0M1149 667h0M1060 638h0M1114 645h0M1116 637h0M999 627h0M1136 622h0M1100 620h0M1135 719h0M1046 655h0M1086 668h0M1029 647h0M1147 672h0M1249 709h0M1154 672h0M1145 700h0M1035 622h0M1132 655h0M1118 640h0M1089 648h0M1035 595h0M940 601h0M1168 688h0M1176 678h0M1125 681h0M1154 661h0M1162 676h0M1096 697h0M1177 683h0M1163 708h0M1240 732h0M1149 681h0M1136 663h0M1125 674h0M1170 671h0M1109 644h0M1128 636h0M1068 658h0M1168 669h0M1104 648h0M1059 611h0M1106 690h0M1114 661h0M1119 665h0M1143 652h0M1029 603h0M1168 686h0M1092 667h0M1102 657h0M1129 673h0M1128 658h0M1045 630h0M1088 647h0M1036 659h0M1050 642h0M1059 632h0M1173 694h0M1225 696h0M1075 659h0M1116 680h0M1127 644h0M1135 680h0M1166 684h0M1106 660h0M1084 628h0M1077 655h0M1166 694h0M1062 629h0M1104 676h0M1030 637h0M1235 720h0M1173 693h0M1076 655h0M1035 602h0M1028 608h0M1153 665h0M1162 683h0M1087 646h0M1077 627h0M1086 647h0M1125 663h0M1165 708h0M1211 687h0M1125 660h0M1230 703h0M1050 611h0M1104 676h0M1039 635h0M986 622h0M1066 646h0M1025 610h0M1150 690h0M1154 675h0M967 595h0M1140 650h0M1090 645h0M1069 644h0M1028 649h0M1021 627h0M1208 707h0M1040 640h0M1112 650h0M1085 632h0M1064 645h0M1117 659h0M1090 652h0M1078 642h0M977 596h0M1135 661h0M1089 651h0M1128 692h0M1076 639h0M999 603h0M1118 680h0M1102 654h0M1143 668h0M1119 670h0M1103 631h0M1121 667h0M1076 641h0M1109 653h0M1135 680h0M1014 600h0M1167 668h0M1062 651h0M1179 699h0M1053 635h0M1039 607h0M1181 701h0M1022 605h0M1116 678h0M1145 657h0M968 593h0M1110 651h0M1264 722h0M1018 611h0M1161 700h0M1184 668h0M1150 686h0M1205 693h0M1062 626h0M1065 633h0M1135 655h0M1149 658h0M1125 647h0M1109 664h0M1108 647h0M982 593h0M1080 611h0M1116 651h0M1005 632h0M1151 683h0M1045 628h0M1101 632h0M1186 651h0M1152 673h0M1103 664h0M1059 609h0M1161 652h0M1159 694h0M1178 700h0M1127 691h0M1045 642h0M1067 621h0M1165 679h0M1070 629h0M1091 667h0M1109 643h0M1080 648h0M1129 670h0M1169 685h0M1156 673h0M1079 632h0M1147 679h0M1188 671h0M1052 640h0M1164 682h0M1174 676h0M1126 659h0M1189 698h0M1247 727h0M1173 668h0M1191 684h0M1100 640h0M1100 649h0M1136 660h0M1143 658h0M1077 632h0M1066 655h0M1085 670h0M1214 698h0M1114 649h0M1100 664h0M1151 681h0M1042 635h0M1120 647h0M1000 606h0M1033 635h0M1141 650h0M1140 668h0M1037 635h0M1106 644h0M1269 707h0M1118 674h0M1108 645h0M1120 633h0M1062 643h0M1120 647h0M1065 602h0M1139 665h0M1133 667h0M1171 651h0M1130 675h0M1149 661h0M1062 643h0M1132 665h0M1170 670h0M1144 685h0M1110 627h0M1141 678h0M1031 606h0M1034 611h0M1118 659h0M1130 664h0M1053 629h0M1028 636h0M1047 631h0M1163 666h0M1239 704h0M1041 610h0M990 607h0M1097 661h0M1163 665h0M1147 678h0M1134 654h0M1051 608h0M1151 681h0M1092 658h0M1141 671h0M1138 667h0M1086 636h0M1138 660h0M1076 659h0M1109 656h0M1115 672h0M1172 685h0M1164 681h0M1113 661h0M1074 666h0M1032 619h0M1012 626h0M1073 613h0M1164 686h0M1072 625h0M1145 677h0M1103 669h0M1054 664h0M1133 661h0M1192 686h0M1053 642h0M1001 586h0M1068 643h0M1034 650h0M1100 666h0M1048 655h0M1137 657h0M1137 676h0M1107 642h0M1256 710h0M1115 665h0M1135 681h0M1125 681h0M1088 657h0M1062 628h0M1109 651h0M1112 657h0M1086 644h0M1061 656h0M1120 693h0M1112 644h0M1245 697h0M1172 691h0M1189 704h0M1065 614h0M1118 646h0M1051 612h0M1105 638h0M1232 701h0M1161 666h0M1033 624h0M1080 669h0M1251 711h0M1108 655h0M1103 681h0M1039 604h0M1081 639h0M982 606h0M1243 704h0M1157 683h0M1044 584h0M1125 696h0M1009 615h0M1008 636h0M1130 674h0M1039 642h0M1131 653h0M1071 616h0M1026 597h0M1118 653h0M1203 671h0M1117 667h0M1131 660h0M1143 662h0M1039 606h0M1152 692h0M1036 624h0M1138 626h0M1153 675h0M1197 683h0M1187 695h0M1185 688h0M1021 621h0M1112 659h0M1118 675h0M1038 653h0M1117 654h0M1121 670h0M1046 610h0M1137 673h0M1185 665h0M1115 668h0M1046 623h0M1107 660h0M1139 651h0M1066 636h0M1118 683h0M1107 669h0M1166 676h0M1102 637h0M1056 641h0M1037 637h0M1185 683h0M1174 682h0M1182 693h0M1167 662h0M1093 665h0M1133 633h0M1135 674h0M1193 692h0M1147 681h0M1176 694h0M1170 684h0M1079 673h0M1059 644h0M1083 626h0M1134 690h0M1166 700h0M1181 688h0M1086 649h0M998 599h0M1139 671h0M1121 623h0M1087 634h0M1075 614h0M1188 689h0M1044 644h0M1241 694h0M1045 635h0M1175 683h0M1199 683h0M1047 605h0M1139 695h0M1096 652h0M1033 659h0M1139 654h0M1122 675h0M1122 697h0M1113 665h0M1096 684h0M1142 689h0M1134 679h0M1166 647h0M1057 668h0M1081 678h0M1233 698h0M1143 687h0M1061 664h0M1145 663h0M1119 660h0M1197 694h0M1051 650h0M1094 699h0M1020 598h0M1129 675h0M1062 623h0M1139 685h0M1107 672h0M1147 690h0M1103 671h0M1128 692h0M1056 636h0M1170 665h0M1150 651h0M1071 631h0M1146 700h0M1161 679h0M1157 685h0M1040 621h0M1131 661h0M1079 650h0M1096 654h0M1142 653h0M1085 646h0M1206 700h0M1126 687h0M1055 643h0M1116 656h0M1134 648h0M1094 671h0M1137 686h0M1212 704h0M1163 662h0M1067 641h0M1047 648h0M1148 687h0M1073 663h0M1192 700h0M1150 682h0M1177 678h0M1036 627h0M1133 690h0M1169 696h0M1150 669h0M1154 672h0M1082 678h0M1127 654h0M1155 667h0M1105 648h0M1037 624h0M1105 625h0M1176 686h0M1140 699h0M1193 695h0M1229 705h0M1082 629h0M1016 618h0M1197 682h0M1149 674h0M1130 654h0M1104 654h0M1199 677h0M1104 637h0M1160 677h0M1052 629h0M1133 653h0M1104 634h0M1023 624h0M1157 676h0M988 581h0M1202 683h0M1128 636h0M1049 656h0M1168 694h0M1147 680h0M1006 617h0M1114 660h0M1142 678h0M1107 665h0M1157 692h0M1103 633h0M1074 642h0M1119 629h0M1056 621h0M1083 635h0M1122 681h0M1061 672h0M1173 696h0M1127 697h0M1053 626h0M1089 680h0M1159 654h0M1089 642h0M1114 674h0M1161 683h0M1155 688h0M1110 639h0M1148 687h0M1151 675h0M1072 614h0M1001 598h0M1129 682h0M1100 661h0M1112 635h0M1146 629h0M1146 670h0M996 603h0M1168 699h0M1230 713h0M1122 679h0M1053 651h0M1192 666h0M1010 605h0M1124 649h0M1123 627h0M1128 639h0M1122 657h0M1113 643h0M1213 674h0M1066 651h0M1124 656h0M1144 664h0M1037 609h0M1095 663h0M1024 632h0M1167 732h0M1110 695h0M1113 638h0M1061 604h0M1016 639h0M1141 675h0M1093 659h0M1150 668h0M1045 627h0M999 611h0M1137 637h0M1125 693h0M1118 671h0M1135 656h0M1153 681h0M1018 626h0M1061 643h0M1040 631h0M1071 634h0M1186 720h0M1120 657h0M1092 647h0M1175 684h0M1202 716h0M1173 658h0M1114 671h0M1128 670h0M1161 646h0M1140 654h0M1199 703h0M1111 648h0M1090 659h0M1066 645h0M1181 684h0M1138 639h0M1117 653h0M1075 641h0M1094 640h0M1164 674h0M1232 703h0M1095 645h0M1192 682h0M1038 647h0M1074 655h0M1160 649h0M1177 671h0M1205 683h0M1067 628h0M1091 651h0M1130 671h0M1091 625h0M1010 657h0M1080 636h0M1094 662h0M1115 686h0M1119 661h0M1105 656h0M1117 674h0M1163 666h0M1009 605h0M1008 652h0M1206 690h0M1049 654h0M1209 677h0M1079 623h0M1097 639h0M1156 655h0M1137 681h0M1121 655h0M1125 649h0M1169 696h0M1152 662h0M1181 670h0M1075 644h0M1073 628h0M1022 635h0M1215 673h0M1134 691h0M1094 670h0M1189 692h0M1123 686h0M1077 619h0M1091 649h0M1073 649h0M1162 676h0M1134 655h0M1167 662h0M1123 658h0M1159 713h0M1080 652h0M1162 672h0M1135 667h0M1083 658h0M1162 696h0M1132 679h0M1168 660h0M1075 648h0M1148 636h0M1167 693h0M1155 715h0M1183 690h0M1103 660h0M1117 672h0M1091 654h0M1100 661h0M1093 628h0M1111 659h0M1061 639h0M1091 678h0M1173 688h0M1090 675h0M1197 723h0M1119 637h0M1091 659h0M1222 720h0M1095 692h0M1189 698h0M1080 641h0M1163 689h0M1091 647h0M1162 676h0M1127 676h0M1057 634h0M1053 653h0M1145 659h0M1047 639h0M1113 663h0M1083 673h0M1132 666h0M927 591h0M1131 660h0M996 653h0M1145 647h0M1050 604h0M1079 635h0M1068 623h0M1101 651h0M1102 684h0M1181 677h0M1180 707h0M967 593h0M1056 627h0M1098 662h0M1075 648h0M1137 673h0M1109 670h0M1070 640h0M1082 651h0M1192 677h0M1068 653h0M1148 669h0M1053 643h0M1051 637h0M1084 652h0M1083 618h0M1015 639h0M1160 661h0M1101 667h0M1119 680h0M1062 621h0M1168 649h0M1246 710h0M1142 668h0M1150 665h0M1185 686h0M1016 662h0M1231 723h0M1180 698h0M1101 640h0M1086 651h0M1101 657h0M1024 641h0M1244 679h0M1078 667h0M1100 631h0M1104 667h0M1243 711h0M1240 691h0M1095 662h0M1055 629h0M1146 684h0M1187 676h0M1200 696h0M1123 664h0M1205 692h0M1062 633h0M1099 649h0M1037 612h0M1107 665h0M1079 638h0M1026 615h0M1152 664h0M1065 619h0M1140 679h0M1091 650h0M1036 643h0M1041 584h0M1159 680h0M1116 658h0M1207 710h0M1186 680h0M1156 677h0M1103 632h0M1160 697h0M1092 663h0M1145 694h0M1086 645h0M1093 625h0M1148 680h0M1142 655h0M1121 676h0M1114 646h0M1162 679h0M1073 635h0M1066 701h0M1124 670h0M1245 693h0M1065 654h0M1051 642h0M1099 667h0M1079 669h0M1065 622h0M1085 659h0M1079 635h0M1129 655h0M1114 656h0M1122 676h0M1084 650h0M1104 684h0M1198 691h0M1178 674h0M1130 657h0M1128 631h0M1101 666h0M1105 656h0M1039 594h0M1191 678h0M1190 676h0M1139 689h0M1148 640h0M1156 664h0M1056 646h0M1066 664h0M1079 633h0M1097 657h0M1193 689h0M1098 651h0M1157 715h0M1052 646h0M1191 679h0M1067 635h0M1075 624h0M1158 655h0M1162 693h0M1163 670h0M1106 673h0M1177 678h0M1061 617h0M1043 626h0M1188 714h0M1182 678h0M1016 602h0M1115 672h0M1058 613h0M1091 627h0M1040 628h0M1115 658h0M1059 642h0M1039 611h0M1221 715h0M1169 681h0M1091 619h0M1057 644h0M1061 626h0M1129 673h0M1077 616h0M1101 658h0M1168 709h0M1157 649h0M1097 639h0M994 632h0M1055 643h0M991 564h0M1141 696h0M1115 636h0M1065 626h0M1118 684h0M1071 646h0M955 598h0M1049 634h0M1052 615h0M1160 696h0M1120 657h0M1065 636h0M1118 653h0M1066 626h0M1046 646h0M1098 643h0M1061 638h0M1074 646h0M1125 649h0M1073 620h0M1086 657h0M1056 647h0M1108 654h0M1114 659h0M1055 649h0M1186 694h0M1098 626h0M1052 623h0M1158 656h0M1189 638h0M1118 671h0M1101 635h0M1138 663h0M1135 664h0M1103 643h0M1175 669h0M1174 685h0M1166 691h0M1142 660h0M1044 628h0M1258 740h0M1074 644h0M1146 680h0M1116 653h0M1126 674h0M1194 671h0M1147 690h0M1135 672h0M1136 651h0M1045 648h0M1218 667h0M1151 668h0M1223 711h0M1143 675h0M1094 627h0M1138 687h0M1061 620h0M1036 614h0M1231 682h0M1062 638h0M1097 660h0M1070 637h0M1211 692h0M1153 677h0M984 593h0M1150 670h0M1040 628h0M1162 677h0M1189 717h0M1037 630h0M1038 611h0M1172 681h0M1200 678h0M992 624h0M979 619h0M1206 698h0M1018 599h0M1143 685h0M1065 669h0M1122 654h0M1152 677h0M1114 638h0M1127 646h0M1056 617h0M1071 626h0M1106 651h0M1170 691h0M1081 638h0M1083 638h0M1124 679h0M1101 632h0M1151 687h0M1092 649h0M1000 613h0M1103 653h0M1093 658h0M1108 672h0M1081 613h0M1145 684h0M1085 673h0M1040 627h0M1149 677h0M1083 666h0M1109 679h0M1120 669h0M1122 645h0M1137 660h0M1096 655h0M1149 654h0M1120 675h0M1083 655h0M1057 622h0M1099 665h0M1063 667h0M1151 642h0M1114 648h0M1075 645h0M1067 623h0M1061 661h0M1164 676h0M1158 703h0M1117 645h0M1046 632h0M1017 620h0M1221 689h0M1102 651h0M1097 667h0M1103 629h0M1191 710h0M1100 664h0M1006 607h0M1158 662h0M1185 712h0M1071 641h0M1166 666h0M1074 653h0M1018 617h0M1119 660h0M1104 647h0M1080 612h0M1022 626h0M1104 651h0M978 591h0M1081 663h0M1102 654h0M1107 686h0M1141 667h0M1136 679h0M1193 715h0M1092 642h0M1056 596h0M1189 679h0M1096 659h0M1105 678h0M1139 671h0M1067 642h0M1050 628h0M1070 643h0M1150 681h0M1075 636h0M1187 684h0M1085 618h0M1024 659h0M1121 638h0M1108 657h0M1047 630h0M1097 669h0M1136 647h0M1151 696h0M1047 609h0M1128 675h0M1163 668h0M1102 643h0M1072 618h0M1074 639h0M1219 701h0M1197 689h0M1042 634h0M1028 624h0M1101 635h0M1111 648h0M1042 640h0M1023 629h0M1139 655h0M1046 629h0M1105 626h0M1170 701h0M1078 666h0M1121 661h0M1158 670h0M1072 646h0M1217 689h0M1077 654h0M1115 642h0M1082 642h0M1164 641h0M1213 690h0M1167 687h0M1120 641h0M1137 637h0M1124 655h0M1012 614h0M1056 674h0M1074 630h0M1141 694h0M1001 616h0M1076 654h0M1071 645h0M1122 664h0M1153 632h0M1205 714h0M1061 646h0M1170 685h0M1151 682h0M1160 655h0M1088 650h0M1083 652h0M1201 689h0M1081 666h0M1170 671h0M1146 673h0M1118 667h0M1170 636h0M970 609h0M1075 628h0M1004 613h0M1185 688h0M1116 665h0M1192 689h0M1041 654h0M1208 708h0M1120 685h0M946 580h0M1182 675h0M1039 604h0M1123 672h0M1113 660h0M1188 672h0M1175 681h0M1185 734h0M1206 711h0M1050 658h0M1113 645h0M1042 642h0M1138 692h0M1069 649h0M1046 666h0M1065 644h0M1057 631h0M1193 720h0M1076 671h0M1142 696h0M1178 672h0M1011 605h0M1117 676h0M1228 681h0M1151 665h0M1054 604h0M1112 645h0M1043 638h0M1104 641h0M1102 636h0M1162 659h0M1071 638h0M1084 613h0M1010 607h0M1094 620h0M1160 702h0M1086 649h0M1121 663h0M1139 672h0M1128 633h0M1172 701h0M1102 630h0M1196 679h0M1124 642h0M1044 625h0M1142 684h0M988 585h0M1028 583h0M1098 667h0M1134 670h0M1190 683h0M1064 615h0M1095 670h0M1036 615h0M1267 728h0M1199 683h0M1173 700h0M1117 650h0M1195 709h0M1101 665h0M1060 644h0M1162 691h0M1045 652h0M1008 631h0M1006 600h0M1178 691h0M1103 663h0M1146 682h0M1111 670h0M1142 641h0M1045 634h0M1074 625h0M1104 673h0M1220 706h0M1063 653h0M1109 678h0M1063 639h0M1055 627h0M1114 659h0M1186 702h0M1110 652h0M1084 687h0M1086 627h0M1196 677h0M1126 648h0M1021 637h0M1165 661h0M1238 699h0M1204 701h0M1238 686h0M1151 681h0M1211 721h0M1178 671h0M1208 693h0M1189 683h0M1192 702h0M1172 675h0M1170 701h0M1175 704h0M1195 703h0M1183 686h0M1193 702h0M1239 711h0M1194 678h0M1200 687h0M1191 695h0M1187 711h0M1160 684h0M1155 693h0M1211 707h0M1165 669h0M1156 697h0M1216 693h0M1202 704h0M1144 689h0M1189 704h0M1158 675h0M1156 673h0M1187 694h0M1215 681h0M1212 713h0M1184 700h0M1177 693h0M1171 684h0M1173 687h0M1206 678h0M1141 669h0M1204 698h0M1189 693h0M1230 696h0M1156 686h0M1173 677h0M1168 697h0M1218 697h0M1184 675h0M1214 728h0M1189 720h0M1165 680h0M1167 699h0M1219 707h0M1213 726h0M1158 659h0M1194 697h0M1185 676h0M1166 685h0M1225 723h0M1179 704h0M1159 683h0M1143 665h0M1168 688h0M1205 700h0M1223 708h0M1166 682h0M1182 689h0M1169 701h0M1199 703h0M1197 678h0M1158 675h0M1194 712h0M1172 678h0M1195 695h0M1196 701h0M1200 684h0M1189 699h0M1138 686h0M1198 716h0M1180 713h0M1197 709h0M1167 697h0M1175 687h0M1167 690h0M1155 666h0M1193 707h0M1148 673h0M1200 708h0M1196 691h0M1191 697h0M1147 666h0M1190 693h0M1140 677h0M1218 687h0M1236 696h0M1181 684h0M1201 697h0M1162 679h0M1184 692h0M1175 685h0M1186 682h0M1194 703h0M1209 711h0M1184 686h0M1157 674h0M1202 686h0M1193 700h0M1179 699h0M1173 692h0M1197 690h0M1191 682h0M1191 715h0M1144 686h0M1208 687h0M1206 702h0M1216 713h0M1206 692h0M1181 687h0M1195 663h0" stroke="#ff0000" stroke-width="4.4" stroke-linecap="round"/>
<path d="M205 1330h0M207 1342h0M206 1343h0M209 1347h0M205 1380h0M196 1362h0M198 1360h0M206 1329h0M195 1358h0M197 1369h0M197 1337h0M195 1366h0M209 1374h0M201 1363h0M208 1360h0M206 1354h0M196 1378h0M202 1386h0M202 1350h0M199 1349h0M202 1381h0M200 1339h0M208 1328h0M201 1379h0M207 1327h0M198 1353h0M199 1352h0M203 1334h0M209 1325h0M206 1342h0M207 1337h0M199 1350h0M209 1386h0M199 1348h0M202 1344h0M205 1328h0M195 1358h0M196 1387h0M202 1375h0M202 1375h0M199 1373h0M202 1381h0M194 1375h0M197 1369h0M209 1347h0M202 1368h0M201 1342h0M195 1378h0M195 1361h0M204 1372h0M208 1346h0M206 1353h0M202 1384h0M197 1380h0M206 1356h0M205 1380h0M201 1362h0M204 1359h0M199 1333h0M197 1338h0M198 1358h0M203 1357h0M205 1341h0M197 1385h0M200 1325h0M195 1380h0M202 1344h0M202 1377h0M208 1362h0M207 1353h0M201 1329h0M204 1358h0M202 1324h0M194 1340h0M203 1330h0M207 1357h0M197 1356h0M195 1326h0M201 1348h0M198 1385h0M203 1326h0M201 1366h0M202 1387h0M206 1383h0M195 1364h0M197 1332h0M198 1328h0M206 1357h0M202 1352h0M206 1378h0M202 1339h0M208 1365h0M204 1363h0M199 1376h0M194 1342h0M209 1385h0M199 1330h0M198 1381h0M205 1325h0M198 1376h0M201 1331h0M196 1386h0M202 1364h0M198 1349h0M200 1379h0M200 1331h0M204 1372h0M205 1383h0M209 1369h0M199 1360h0M203 1361h0M204 1372h0M202 1358h0M209 1349h0M203 1352h0M195 1382h0M198 1332h0M198 1362h0M202 1339h0M203 1343h0M201 1377h0M207 1356h0M202 1375h0M202 1326h0M195 1359h0M199 1359h0M206 1335h0M196 1325h0M194 1366h0M203 1382h0M195 1383h0M207 1328h0M198 1330h0M200 1328h0M199 1383h0M205 1353h0M209 1329h0M195 1366h0M199 1354h0M197 1375h0M195 1372h0M200 1367h0M200 1356h0M198 1343h0M205 1358h0M205 1366h0M205 1368h0M196 1371h0M208 1347h0M205 1333h0M196 1380h0M202 1359h0M195 1386h0M194 1379h0M203 1334h0M202 1345h0M205 1377h0M207 1373h0M194 1342h0M197 1369h0M204 1339h0M209 1330h0M198 1357h0M209 1343h0M194 1332h0M207 1359h0M197 1363h0M208 1359h0M201 1324h0M204 1324h0M196 1376h0M206 1348h0M202 1333h0M203 1350h0M206 1352h0M202 1380h0M198 1338h0M203 1356h0M196 1352h0M201 1362h0M197 1361h0M203 1352h0M199 1330h0M205 1330h0M202 1346h0M206 1372h0M202 1337h0M200 1328h0M202 1355h0M203 1350h0M198 1343h0M198 1379h0M201 1374h0M196 1352h0M201 1354h0M201 1385h0M199 1381h0M209 1377h0M203 1376h0M202 1380h0M205 1378h0M197 1361h0M201 1362h0M198 1344h0M199 1339h0M199 1387h0M198 1357h0M206 1366h0M200 1373h0M198 1382h0M202 1359h0M204 1328h0M199 1374h0M194 1356h0M206 1339h0M201 1334h0M209 1366h0M206 1386h0M207 1363h0M196 1323h0M204 1327h0M207 1345h0M206 1355h0M207 1327h0M197 1384h0M203 1345h0M206 1349h0M209 1325h0M207 1331h0M202 1328h0M195 1381h0M204 1359h0M203 1329h0M199 1382h0M205 1369h0M199 1381h0M200 1380h0M197 1339h0M203 1361h0M208 1324h0M199 1381h0M195 1380h0M196 1352h0M198 1323h0M206 1333h0M202 1330h0M207 1383h0M207 1364h0M207 1374h0M209 1328h0M195 1375h0M206 1383h0M203 1383h0M199 1341h0M200 1351h0M205 1381h0M195 1350h0M196 1338h0M195 1348h0M202 1331h0M208 1340h0M209 1386h0M204 1380h0M206 1352h0M203 1345h0M207 1384h0M197 1332h0M207 1325h0M204 1379h0M197 1380h0M200 1368h0M195 1357h0M208 1324h0M201 1363h0M198 1339h0M206 1382h0M203 1344h0M201 1333h0M194 1329h0M204 1375h0M204 1318h0M198 1298h0M199 1302h0M198 1309h0M195 1300h0M201 1321h0M206 1316h0M203 1322h0M195 1295h0M205 1297h0M203 1289h0M202 1292h0M195 1292h0M200 1293h0M203 1320h0M203 1304h0M196 1297h0M200 1320h0M202 1298h0M194 1302h0M198 1314h0M205 1301h0M201 1309h0M196 1316h0M206 1314h0M194 1291h0M200 1309h0M202 1295h0M201 1295h0M194 1298h0M199 1306h0M198 1297h0M197 1308h0M206 1309h0M202 1301h0M175 1343h0M174 1348h0M182 1312h0M181 1379h0M182 1317h0M174 1339h0M175 1331h0M177 1331h0M183 1309h0M178 1350h0M189 1382h0M177 1327h0M184 1385h0M174 1338h0M181 1377h0M180 1376h0M176 1361h0M180 1322h0M180 1358h0M186 1311h0M189 1385h0M172 1343h0M188 1386h0M177 1344h0M176 1327h0M184 1368h0M173 1332h0M179 1316h0M178 1351h0M178 1355h0M177 1358h0M186 1379h0M173 1327h0M188 1307h0M175 1343h0M179 1323h0M173 1347h0M182 1378h0M182 1371h0M181 1314h0M184 1307h0M182 1308h0M175 1335h0M187 1380h0M181 1321h0M179 1318h0M175 1343h0M173 1353h0M180 1339h0M184 1381h0M176 1367h0M174 1351h0M179 1321h0M179 1356h0M181 1377h0M184 1375h0M183 1383h0M185 1312h0M174 1371h0M184 1314h0M178 1334h0M170 1346h0M179 1368h0M178 1324h0M171 1332h0M181 1312h0M178 1364h0M180 1370h0M183 1310h0M184 1379h0M186 1386h0M178 1354h0M184 1379h0M173 1358h0M180 1350h0M180 1323h0M181 1322h0M183 1319h0M187 1320h0M179 1321h0M189 1288h0M198 1273h0M192 1264h0M190 1269h0M192 1284h0M197 1274h0M198 1268h0M196 1267h0M194 1300h0M192 1294h0M196 1271h0M190 1284h0M192 1281h0M202 1276h0M191 1282h0M201 1269h0M190 1258h0M190 1235h0M186 1247h0M189 1238h0M189 1206h0M190 1249h0M189 1224h0M189 1230h0M190 1207h0M189 1259h0M210 1369h0M226 1383h0M216 1384h0M211 1369h0M221 1381h0M233 1380h0M209 1383h0M212 1365h0M229 1369h0M213 1365h0M217 1374h0M239 1366h0M213 1375h0M233 1366h0M227 1379h0M230 1375h0M229 1380h0M227 1377h0M228 1367h0M226 1364h0M227 1380h0M227 1366h0M243 1277h0M244 1299h0M244 1315h0M244 1345h0M243 1344h0M245 1206h0M243 1257h0M243 1207h0M244 1213h0M244 1242h0M243 1311h0M243 1312h0M243 1375h0M245 1370h0M244 1368h0M245 1359h0M243 1370h0M243 1358h0M245 1380h0M243 1354h0M243 1377h0M244 1367h0M245 1370h0M243 1370h0M243 1351h0M244 1364h0M244 1368h0M243 1380h0M251 1200h0M251 1258h0M252 1305h0M252 1335h0M254 1343h0M165 1167h0M178 1177h0M164 1130h0M173 1131h0M184 1226h0M187 1204h0M259 1352h0M272 1362h0M358 1288h0M360 1347h0M184 1202h0M185 1203h0" stroke="#000" stroke-width="3.6" stroke-linecap="square"/>
<path d="M165 1085h0M162 1059h0M162 1088h0M165 1049h0M164 1054h0M165 1081h0M162 1091h0M165 1077h0M162 1079h0M164 1079h0M162 1075h0M164 1061h0M164 1053h0M164 1078h0M164 1061h0M161 1069h0M164 1098h0M162 1058h0M163 1081h0M163 1088h0M161 1094h0M162 1098h0M175 1090h0M170 1075h0M166 1060h0M235 1079h0M237 1092h0M235 1101h0M235 1081h0M234 1108h0M234 1087h0M237 1105h0M236 1101h0M231 1105h0M233 1089h0M236 1110h0M231 1111h0M236 1097h0M231 1105h0M233 1112h0M234 1085h0M231 1081h0M234 1099h0M241 1120h0M243 1106h0M239 1121h0M242 1131h0M249 1102h0M245 1099h0M244 1096h0M246 1102h0M245 1129h0M247 1096h0M245 1115h0M246 1103h0M243 1101h0M245 1114h0M250 1118h0M247 1110h0M239 1115h0M243 1110h0M246 1128h0M247 1120h0M244 1098h0M250 1108h0M253 1078h0M249 1100h0M242 1096h0M257 1102h0M252 1098h0M252 1105h0M252 1092h0M245 1086h0M259 1101h0M261 1112h0M242 1101h0M256 1083h0M253 1102h0M247 1108h0M242 1104h0M262 1097h0M261 1097h0M251 1113h0M256 1111h0M262 1118h0M244 1120h0M251 1107h0M250 1119h0M256 1085h0M246 1097h0M266 1113h0M272 1115h0M241 1143h0M250 1140h0M357 1178h0M365 1178h0M358 1176h0M349 1184h0M358 1180h0M368 1177h0M377 1187h0M374 1184h0M369 1185h0M353 1168h0M337 1173h0M352 1157h0M374 1181h0M364 1179h0M341 1164h0M373 1179h0M331 1169h0M354 1174h0M348 1173h0M352 1157h0M367 1184h0M381 1178h0M365 1170h0M383 1185h0M369 1171h0M356 1170h0M360 1177h0M370 1187h0M375 1181h0M370 1166h0M368 1179h0M330 1161h0M343 1181h0M351 1175h0M357 1185h0M381 1193h0M350 1177h0M359 1175h0M364 1168h0M366 1186h0M362 1178h0M354 1180h0M353 1169h0M368 1174h0M365 1178h0M357 1178h0M365 1182h0M348 1163h0M360 1170h0M337 1147h0M351 1179h0M360 1202h0M353 1164h0M353 1173h0M354 1190h0M353 1185h0M366 1177h0M336 1167h0M365 1161h0M375 1178h0M355 1186h0M367 1178h0M353 1180h0M363 1176h0M363 1190h0M361 1167h0M365 1164h0M353 1176h0M358 1162h0M378 1183h0M364 1182h0M344 1184h0M352 1180h0M359 1184h0M339 1165h0M363 1175h0M331 1152h0M352 1176h0M352 1157h0M363 1180h0M350 1181h0M361 1180h0M326 1170h0M350 1168h0M369 1180h0M360 1181h0M383 1194h0M327 1153h0M354 1173h0M347 1177h0M359 1180h0M357 1156h0M368 1178h0M353 1168h0M381 1170h0M366 1181h0M391 1173h0M362 1175h0M346 1159h0M347 1164h0M360 1174h0M333 1150h0M348 1168h0M368 1198h0M353 1151h0M378 1184h0M378 1172h0M362 1168h0M355 1158h0M348 1188h0M351 1166h0M329 1169h0M361 1179h0M352 1173h0M383 1172h0M348 1178h0M352 1155h0M348 1154h0M346 1179h0M357 1160h0M347 1176h0M374 1172h0M350 1170h0M353 1177h0M356 1180h0M355 1188h0M339 1158h0M349 1167h0M338 1181h0M365 1181h0M351 1174h0M351 1176h0M346 1155h0M337 1175h0M364 1179h0M365 1194h0M350 1185h0M373 1174h0M342 1174h0M354 1162h0M352 1171h0M379 1185h0M379 1175h0M356 1186h0M353 1170h0M369 1171h0M339 1154h0M350 1180h0M354 1171h0M355 1181h0M376 1184h0M369 1168h0M349 1180h0M376 1182h0M351 1165h0M367 1177h0M376 1175h0M367 1149h0M343 1168h0M339 1173h0M376 1172h0M353 1192h0M374 1188h0M359 1185h0M353 1171h0M361 1163h0M365 1169h0M375 1171h0M343 1163h0M351 1186h0M354 1179h0M342 1153h0M350 1173h0M355 1169h0M352 1159h0M357 1184h0M339 1170h0M358 1152h0M341 1152h0M357 1183h0M380 1185h0M354 1176h0M353 1184h0M374 1187h0M370 1178h0M349 1178h0M341 1175h0M356 1178h0M379 1197h0M356 1171h0M337 1173h0M341 1176h0M370 1182h0M351 1174h0M359 1165h0M349 1169h0M350 1162h0M380 1179h0M362 1181h0M350 1176h0M359 1182h0M363 1175h0M366 1169h0M362 1167h0M355 1185h0M380 1179h0M354 1165h0M360 1171h0M346 1171h0M335 1172h0M360 1184h0M350 1168h0M372 1177h0M368 1182h0M351 1183h0M386 1192h0M338 1172h0M344 1171h0M340 1187h0M363 1189h0M353 1182h0M376 1201h0M344 1183h0M367 1158h0M343 1171h0M370 1171h0M355 1184h0M369 1177h0M346 1158h0M369 1169h0M334 1169h0M326 1164h0M330 1158h0M335 1184h0M333 1179h0M334 1163h0M333 1161h0M331 1169h0M332 1188h0M330 1187h0M336 1190h0M336 1162h0M330 1189h0M335 1160h0M332 1162h0M348 1197h0M335 1171h0M345 1173h0M343 1188h0M339 1169h0M339 1189h0M342 1198h0M343 1188h0M339 1186h0M344 1186h0M341 1181h0M345 1170h0M406 1206h0M389 1198h0M418 1208h0M400 1196h0M422 1213h0M431 1212h0M423 1205h0M393 1205h0M418 1214h0M422 1211h0M409 1201h0M402 1200h0M417 1209h0M406 1213h0M425 1213h0M437 1217h0M454 1235h0M454 1224h0M457 1225h0M456 1230h0M455 1249h0M452 1223h0M455 1223h0M453 1231h0M458 1240h0M456 1241h0M452 1227h0M456 1239h0M456 1261h0M456 1252h0M471 1242h0M468 1261h0M467 1231h0M468 1236h0M469 1230h0M466 1262h0M468 1246h0M471 1229h0M471 1247h0M467 1245h0M469 1231h0M465 1250h0M468 1254h0M471 1242h0M481 1246h0M482 1242h0M481 1254h0M476 1241h0M477 1239h0M479 1237h0M480 1244h0M485 1240h0M480 1234h0M481 1258h0M481 1242h0M480 1247h0M485 1249h0M481 1240h0M477 1242h0M489 1244h0M466 1239h0M472 1252h0M504 1257h0M496 1249h0M481 1259h0M489 1243h0M487 1255h0M471 1236h0M446 1225h0M479 1240h0M472 1244h0M512 1270h0M482 1243h0M478 1248h0M488 1239h0M471 1250h0M466 1254h0M488 1238h0M454 1233h0M474 1239h0M467 1237h0M468 1250h0M485 1232h0M479 1247h0M492 1246h0M475 1235h0M467 1232h0M473 1245h0M481 1239h0M476 1233h0M487 1247h0M490 1235h0M483 1244h0M481 1240h0M456 1230h0M459 1240h0M462 1237h0M472 1238h0M472 1237h0M485 1246h0M476 1242h0M480 1243h0M465 1252h0M491 1248h0M482 1237h0M493 1257h0M457 1237h0M483 1248h0M490 1245h0M464 1240h0M470 1234h0M498 1252h0M463 1236h0M488 1248h0M493 1261h0M490 1242h0M470 1253h0M472 1253h0M518 1262h0M519 1274h0M519 1271h0M521 1282h0M520 1271h0M523 1282h0M519 1263h0M520 1272h0M521 1275h0M522 1275h0M538 1283h0M537 1279h0M537 1267h0M536 1286h0M537 1289h0M535 1285h0M533 1273h0M537 1285h0M534 1280h0M539 1286h0M538 1279h0M528 1268h0M514 1273h0M542 1275h0M524 1262h0M519 1272h0M537 1280h0M519 1263h0M530 1271h0M540 1273h0M529 1269h0M529 1267h0M539 1275h0M555 1286h0M526 1278h0M534 1267h0M524 1255h0M542 1280h0M533 1270h0M529 1282h0M523 1269h0M527 1275h0M528 1276h0M533 1282h0M539 1273h0M527 1270h0M533 1276h0M521 1273h0M523 1257h0M529 1276h0M554 1285h0M549 1289h0M552 1284h0M549 1280h0M553 1278h0M551 1285h0M553 1286h0M553 1283h0" stroke="#ff0000" stroke-width="4.4" stroke-linecap="round"/>
<path d="M913 1369h0M921 1376h0M909 1385h0M912 1373h0M907 1382h0M927 1375h0M908 1379h0M911 1377h0M916 1375h0M914 1373h0M918 1366h0M918 1370h0M905 1378h0M897 1382h0M907 1372h0M910 1366h0M922 1375h0M924 1373h0M918 1380h0M918 1386h0M914 1373h0M926 1371h0M906 1374h0M918 1372h0M917 1378h0M924 1370h0M903 1380h0M904 1381h0M901 1377h0M927 1377h0M911 1368h0M905 1374h0M928 1373h0M912 1374h0M910 1370h0M915 1373h0M909 1369h0M909 1373h0M896 1387h0M921 1360h0M893 1373h0M922 1364h0M913 1380h0M906 1378h0M932 1381h0M908 1387h0M914 1374h0M900 1372h0M908 1387h0M904 1376h0M938 1377h0M913 1385h0M913 1376h0M908 1363h0M920 1361h0M919 1367h0M907 1370h0M924 1379h0M904 1381h0M917 1380h0M920 1358h0M899 1385h0M900 1368h0M897 1367h0M904 1366h0M911 1362h0M900 1354h0M908 1378h0M906 1368h0M922 1368h0M927 1373h0M913 1359h0M908 1369h0M905 1359h0M898 1372h0M924 1367h0M914 1361h0M930 1368h0M927 1370h0M917 1358h0M891 1381h0M909 1375h0M906 1361h0M921 1358h0M924 1380h0M921 1378h0M913 1351h0M893 1372h0M889 1342h0M884 1379h0M895 1349h0M887 1345h0M888 1350h0M897 1352h0M893 1353h0M890 1379h0M893 1337h0M889 1362h0M886 1354h0M887 1348h0M890 1375h0M891 1375h0M893 1370h0M877 1366h0M875 1362h0M945 1235h0M944 1363h0M943 1220h0M945 1263h0M943 1275h0M942 1265h0M942 1386h0M945 1304h0M945 1382h0M947 1371h0M943 1311h0M944 1380h0M943 1216h0M947 1316h0M942 1231h0M945 1368h0M947 1221h0M942 1369h0M943 1240h0M947 1306h0M946 1345h0M946 1327h0M947 1348h0M945 1284h0M945 1370h0M944 1347h0M945 1259h0M945 1358h0M943 1340h0M944 1283h0M944 1254h0M944 1300h0M942 1240h0M944 1261h0M945 1381h0M942 1314h0M945 1353h0M945 1349h0M944 1328h0M945 1261h0M946 1381h0M943 1366h0M943 1377h0M944 1373h0M943 1388h0M943 1347h0M946 1350h0M946 1330h0M942 1337h0M945 1381h0M945 1385h0M943 1376h0M943 1354h0M946 1368h0M944 1361h0M961 1379h0M958 1349h0M959 1379h0M962 1356h0M960 1364h0M957 1345h0M959 1377h0M962 1346h0M958 1374h0M960 1381h0M962 1382h0M960 1362h0M959 1382h0M961 1341h0M960 1300h0M961 1318h0M959 1327h0M1071 1297h0M1076 1322h0M1070 1292h0M1078 1323h0M1070 1316h0M1069 1319h0M1076 1296h0M1073 1309h0M1073 1320h0M1073 1310h0M912 1238h0M913 1275h0M912 1302h0M920 1326h0M974 1362h0M987 1369h0M969 1375h0M966 1274h0M966 1304h0M957 1326h0M965 1334h0M957 1342h0M920 1326h0" stroke="#000" stroke-width="5" stroke-linecap="round"/>
<path d="M917 1148h0M916 1141h0M911 1157h0M913 1153h0M910 1156h0M918 1156h0M913 1153h0M910 1153h0M906 1153h0M917 1150h0M919 1151h0M921 1149h0M911 1151h0M928 1145h0M913 1150h0M917 1145h0M922 1143h0M920 1150h0M910 1154h0M907 1151h0M909 1146h0M909 1150h0M921 1149h0M920 1148h0M917 1154h0M913 1154h0M915 1152h0M907 1152h0M921 1143h0M913 1151h0M914 1152h0M916 1148h0M913 1147h0M907 1147h0M913 1150h0M912 1148h0M917 1151h0M914 1160h0M913 1152h0M917 1142h0M947 1168h0M953 1165h0M950 1169h0M953 1166h0M953 1171h0M945 1152h0M952 1175h0M949 1178h0M942 1169h0M953 1163h0M949 1168h0M954 1175h0M950 1161h0M958 1171h0M956 1160h0M950 1161h0M947 1172h0M953 1175h0M945 1176h0M950 1172h0M953 1170h0M952 1159h0M951 1167h0M947 1162h0M943 1178h0M948 1164h0M953 1163h0M944 1169h0M949 1168h0M952 1164h0M962 1179h0M964 1177h0M970 1179h0M973 1173h0M966 1176h0M957 1180h0M966 1173h0M971 1180h0M978 1175h0M962 1175h0M960 1174h0M955 1180h0M964 1177h0M965 1170h0M972 1182h0M975 1177h0M963 1173h0M950 1185h0M965 1183h0M972 1181h0M961 1171h0M971 1177h0M967 1183h0M959 1188h0M968 1183h0M972 1178h0M960 1179h0M964 1182h0M967 1177h0M976 1182h0M986 1177h0M982 1179h0M979 1176h0M984 1180h0M980 1178h0M990 1180h0M944 1189h0M942 1183h0M944 1185h0M942 1188h0M943 1205h0M944 1204h0M942 1194h0M944 1199h0M1071 1231h0M1087 1249h0M1073 1231h0M1064 1226h0M1078 1250h0M1075 1243h0M1081 1227h0M1059 1225h0M1057 1231h0M1055 1217h0M1045 1228h0M1055 1223h0M1041 1216h0M1053 1212h0M1078 1226h0M1069 1225h0M1053 1221h0M1061 1227h0M1076 1225h0M1062 1227h0M1093 1228h0M1072 1237h0M1065 1231h0M1082 1225h0M1090 1232h0M1052 1231h0M1081 1241h0M1063 1225h0M1061 1233h0M1072 1232h0M1045 1202h0M1033 1196h0M1062 1225h0M1074 1238h0M1091 1229h0M1089 1236h0M1073 1220h0M1075 1239h0M1059 1237h0M1075 1226h0M1075 1236h0M1078 1233h0M1102 1240h0M1039 1220h0M1078 1260h0M1053 1215h0M1068 1229h0M1051 1216h0M1067 1214h0M1072 1229h0M1068 1224h0M1082 1227h0M1083 1235h0M1091 1225h0M1086 1232h0M1065 1215h0M1044 1216h0M1072 1235h0M1055 1212h0M1074 1230h0M1081 1234h0M1050 1228h0M1079 1233h0M1041 1224h0M1080 1227h0M1061 1238h0M1070 1236h0M1079 1233h0M1052 1222h0M1076 1221h0M1068 1235h0M1068 1232h0M1081 1251h0M1083 1220h0M1069 1222h0M1072 1220h0M1077 1222h0M1066 1223h0M1087 1228h0M1060 1221h0M1064 1219h0M1068 1241h0M1066 1213h0M1084 1235h0M1065 1224h0M1060 1211h0M1066 1227h0M1069 1220h0M1073 1242h0M1053 1225h0M1058 1218h0M1066 1221h0M1068 1236h0M1076 1225h0M1071 1235h0M1063 1228h0M1050 1220h0M1075 1231h0M1066 1231h0M1045 1227h0M1075 1239h0M1042 1221h0M1020 1193h0M1095 1227h0M1072 1226h0M1094 1253h0M1070 1231h0M1057 1215h0M1073 1237h0M1054 1225h0M1063 1228h0M1064 1220h0M1102 1227h0M1092 1242h0M1071 1222h0M1060 1220h0M1080 1228h0M1064 1221h0M1077 1228h0M1078 1231h0M1048 1224h0M1046 1225h0M1081 1255h0M1040 1212h0M1073 1237h0M1035 1211h0M1084 1235h0M1057 1226h0M1075 1233h0M1071 1225h0M1079 1226h0M1071 1235h0M1080 1241h0M1063 1236h0M1049 1221h0M1086 1243h0M1071 1237h0M1112 1242h0M1055 1218h0M1049 1216h0M1081 1233h0M1087 1237h0M1057 1230h0M1062 1225h0M1046 1230h0M1051 1214h0M1061 1220h0M1080 1240h0M1075 1240h0M1073 1229h0M1084 1227h0M1083 1234h0M1061 1228h0M1071 1226h0M1073 1235h0M1103 1240h0M1058 1215h0M1057 1233h0M1083 1232h0M1074 1235h0M1056 1225h0M1058 1231h0M1089 1233h0M1058 1230h0M1080 1248h0M1086 1239h0M1076 1220h0M1093 1241h0M1043 1221h0M1081 1239h0M1077 1230h0M1084 1229h0M1060 1226h0M1062 1225h0M1072 1231h0M1078 1241h0M1045 1227h0M1070 1234h0M1072 1220h0M1082 1239h0M1061 1243h0M1063 1215h0M1058 1237h0M1077 1221h0M1045 1223h0M1063 1228h0M1058 1228h0M1064 1223h0M1072 1225h0M1056 1220h0M1088 1237h0M1067 1233h0M1058 1233h0M1045 1235h0M1072 1225h0M1074 1231h0M1058 1225h0M1056 1226h0M1078 1230h0M1096 1240h0M1085 1232h0M1052 1222h0M1081 1226h0M1078 1234h0M1070 1228h0M1051 1210h0M1055 1227h0M1064 1225h0M1038 1220h0M1059 1226h0M1090 1228h0M1055 1214h0M1063 1235h0M1070 1225h0M1059 1227h0M1067 1237h0M1075 1233h0M1055 1221h0M1060 1222h0M1048 1231h0M1063 1226h0M1092 1237h0M1063 1214h0M1070 1217h0M1071 1230h0M1096 1245h0M1078 1235h0M1078 1229h0M1066 1223h0M1084 1238h0M1068 1225h0M1082 1226h0M1059 1220h0M1082 1239h0M1074 1223h0M1054 1229h0M1073 1231h0M1049 1222h0M1064 1224h0M1038 1215h0M1089 1250h0M1039 1205h0M1074 1237h0M1067 1236h0M1076 1225h0M1045 1207h0M1061 1218h0M1073 1247h0M1080 1232h0M1055 1238h0M1060 1229h0M1050 1210h0M1082 1240h0M1086 1244h0M1076 1240h0M1052 1225h0M1069 1228h0M1076 1225h0M1063 1221h0M1065 1232h0M1063 1225h0M1066 1215h0M1070 1224h0M1063 1214h0M1072 1225h0M1058 1220h0M1100 1236h0M1068 1233h0M1057 1236h0M1058 1203h0M1071 1233h0M1071 1238h0M1051 1219h0M1084 1228h0M1062 1231h0M1070 1235h0M1076 1235h0M1062 1226h0M1043 1222h0M1067 1226h0M1095 1257h0M1085 1248h0M1055 1226h0M1087 1239h0M1067 1229h0M1077 1235h0M1056 1236h0M1072 1229h0M1045 1220h0M1095 1241h0M1080 1230h0M1062 1227h0M1065 1229h0M1053 1219h0M1025 1217h0M1038 1206h0M1083 1230h0M1061 1232h0M1078 1247h0M1094 1236h0M1056 1219h0M1052 1228h0M1053 1226h0M1079 1242h0M1076 1233h0M1074 1240h0M1051 1215h0M1059 1242h0M1062 1227h0M1059 1203h0M1051 1230h0M1047 1219h0M1076 1223h0M1065 1228h0M1087 1245h0M1080 1225h0M1048 1219h0M1069 1235h0M1067 1233h0M1082 1230h0M1083 1228h0M1059 1223h0M1075 1228h0M1080 1230h0M1097 1228h0M1068 1233h0M1070 1230h0M1077 1229h0M1086 1237h0M1077 1226h0M1080 1241h0M1069 1225h0M1058 1217h0M1060 1214h0M1056 1236h0M1066 1212h0M1066 1220h0M1079 1231h0M1070 1215h0M1052 1213h0M1069 1230h0M1056 1222h0M1061 1234h0M1068 1216h0M1067 1212h0M1080 1213h0M1074 1237h0M1099 1248h0M1075 1226h0M1040 1221h0M1084 1223h0M1046 1221h0M1074 1242h0M1074 1236h0M1063 1220h0M1083 1231h0M1075 1238h0M1068 1217h0M1056 1217h0M1102 1243h0M1071 1246h0M1075 1232h0M1080 1237h0M1065 1228h0M1068 1222h0M1054 1219h0M1087 1230h0M1080 1233h0M1085 1245h0M1071 1208h0M1084 1247h0M1065 1228h0M1065 1225h0M1068 1220h0M1042 1228h0M1068 1222h0M1058 1220h0M1065 1226h0M1057 1230h0M1037 1224h0M1105 1240h0M1113 1240h0M1111 1250h0M1113 1240h0M1124 1254h0M1132 1257h0M1127 1253h0M1144 1255h0M1117 1250h0M1104 1249h0M1108 1243h0M1121 1239h0M1105 1243h0M1138 1257h0M1197 1279h0M1175 1295h0M1182 1291h0M1217 1305h0M1192 1291h0M1168 1277h0M1184 1292h0M1202 1296h0M1207 1288h0M1189 1287h0M1195 1294h0M1191 1280h0M1166 1284h0M1184 1284h0M1182 1298h0M1188 1288h0M1175 1279h0M1165 1284h0M1175 1285h0M1184 1285h0M1193 1301h0M1219 1313h0M1174 1288h0M1208 1290h0M1199 1315h0M1172 1274h0M1195 1307h0M1155 1277h0M1177 1286h0M1171 1280h0M1158 1283h0M1195 1278h0M1178 1283h0M1155 1274h0M1163 1282h0M1211 1306h0M1188 1290h0M1151 1284h0M1183 1300h0M1188 1297h0M1191 1295h0M1168 1285h0M1196 1289h0M1207 1302h0M1198 1293h0M1188 1302h0M1181 1296h0M1172 1304h0M1188 1279h0M1183 1295h0M1180 1294h0M1166 1278h0M1181 1289h0M1182 1282h0M1197 1286h0M1178 1277h0M1195 1297h0M1205 1297h0M1221 1308h0M1201 1283h0M1194 1303h0M1185 1286h0M1168 1291h0M1167 1280h0M1207 1301h0M1175 1282h0M1202 1308h0M1151 1282h0M1196 1299h0M1204 1282h0M1176 1297h0M1196 1301h0M1199 1285h0M1199 1282h0M1164 1302h0M1222 1318h0M1200 1298h0M1163 1279h0M1184 1290h0M1181 1291h0M1174 1298h0M1171 1277h0M1170 1290h0M1182 1290h0M1160 1287h0M1207 1300h0M1171 1286h0M1181 1280h0M1198 1298h0M1191 1285h0M1164 1291h0M1209 1298h0M1181 1287h0M1185 1306h0M1205 1312h0M1178 1282h0M1175 1294h0M1178 1296h0M1185 1288h0M1212 1299h0M1206 1312h0M1207 1292h0M1177 1283h0M1186 1301h0M1171 1296h0M1185 1286h0M1189 1296h0M1178 1289h0M1207 1281h0M1177 1283h0M1197 1297h0M1159 1276h0M1176 1282h0M1201 1284h0M1186 1301h0M1192 1285h0M1168 1286h0M1171 1280h0M1196 1302h0M1217 1291h0M1183 1293h0M1190 1290h0M1192 1297h0M1178 1282h0M1185 1303h0M1186 1284h0M1179 1282h0M1198 1295h0M1211 1298h0M1215 1294h0M1188 1298h0M1184 1295h0M1163 1281h0M1166 1288h0M1168 1282h0M1171 1283h0M1198 1283h0M1195 1300h0M1187 1304h0M1194 1301h0M1211 1284h0M1168 1285h0M1180 1297h0M1173 1289h0M1201 1289h0M1179 1287h0M1157 1287h0M1158 1287h0M1169 1273h0M1197 1296h0M1163 1278h0M1164 1276h0M1160 1277h0M1161 1280h0M1163 1287h0M1160 1266h0M1161 1267h0M1159 1267h0M1162 1274h0M1161 1286h0M1187 1274h0M1186 1295h0M1187 1289h0M1185 1300h0M1190 1291h0M1188 1289h0M1187 1295h0M1188 1292h0M1187 1300h0M1186 1282h0M1186 1280h0M1185 1295h0M1243 1315h0M1258 1321h0M1258 1317h0M1263 1329h0M1268 1329h0M1247 1310h0M1228 1302h0M1237 1299h0M1237 1299h0M1238 1307h0M1256 1324h0M1265 1327h0M1248 1311h0M1227 1312h0M1243 1323h0M1254 1313h0M1272 1325h0M1266 1329h0M1247 1310h0M1246 1312h0M1234 1307h0M1252 1325h0M1242 1301h0M1234 1315h0M1239 1315h0M1235 1304h0M1260 1328h0M1248 1309h0M1261 1319h0M1245 1306h0M1261 1314h0M1253 1336h0M1257 1324h0M1220 1301h0M1253 1315h0M1254 1328h0M1252 1317h0M1242 1300h0M1246 1325h0M1240 1309h0M1229 1304h0M1275 1338h0M1243 1315h0M1273 1332h0M1228 1305h0M1255 1306h0M1248 1312h0M1263 1313h0M1242 1322h0M1243 1318h0M1227 1305h0M1249 1318h0M1235 1307h0M1233 1303h0M1231 1306h0M1256 1313h0M1245 1297h0M1237 1309h0M1231 1302h0M1244 1310h0M1259 1324h0M1239 1311h0M1225 1315h0M1275 1332h0M1216 1293h0M1250 1317h0M1240 1314h0M1263 1318h0M1240 1305h0M1256 1320h0M966 1219h0M1066 1272h0M1078 1272h0M908 1184h0" stroke="#ff0000" stroke-width="4.4" stroke-linecap="round"/>
<line x1="246.7" y1="93.0" x2="603.7" y2="280.0" stroke="#ff0000" stroke-width="3" stroke-linecap="butt"/>
<line x1="927.0" y1="125.5" x2="1193.0" y2="260.0" stroke="#ff0000" stroke-width="3" stroke-linecap="butt"/>
<line x1="236.0" y1="663.7" x2="561.7" y2="749.6" stroke="#ff0000" stroke-width="3" stroke-linecap="butt"/>
<line x1="930.0" y1="576.5" x2="1279.0" y2="727.8" stroke="#ff0000" stroke-width="3" stroke-linecap="butt"/>
<line x1="161.1" y1="1067.2" x2="556.6" y2="1291.0" stroke="#ff0000" stroke-width="3" stroke-linecap="butt"/>
<line x1="908.5" y1="1149.5" x2="1272.0" y2="1329.0" stroke="#ff0000" stroke-width="3" stroke-linecap="butt"/>
<line x1="194.0" y1="327.0" x2="275.0" y2="378.0" stroke="#000" stroke-width="2" stroke-linecap="butt"/>
<line x1="908.0" y1="320.8" x2="989.0" y2="377.0" stroke="#000" stroke-width="2.6" stroke-linecap="butt"/>
<line x1="194.7" y1="825.5" x2="257.0" y2="850.4" stroke="#000" stroke-width="2" stroke-linecap="butt"/>
<line x1="910.7" y1="818.5" x2="967.8" y2="849.0" stroke="#000" stroke-width="2" stroke-linecap="butt"/>
<line x1="138.3" y1="1369.4" x2="199.7" y2="1385.4" stroke="#000" stroke-width="2" stroke-linecap="butt"/>
<polygon points="275.9,385.0 264.9,410.7 286.9,410.7" fill="#ff0000"/>
<rect x="274.0" y="409.7" width="3.8" height="20.3" fill="#ff0000"/>
<polygon points="997.0,380.8 986.1,406.7 1007.9,406.7" fill="#ff0000"/>
<rect x="995.0" y="405.7" width="4.0" height="15.3" fill="#ff0000"/>
<polygon points="259.6,860.4 249.1,885.4 270.1,885.4" fill="#ff0000"/>
<rect x="257.6" y="884.4" width="4.0" height="14.1" fill="#ff0000"/>
<polygon points="965.8,853.0 955.3,877.8 976.3,877.8" fill="#ff0000"/>
<rect x="963.8" y="876.8" width="4.0" height="15.9" fill="#ff0000"/>
<polygon points="214.6,1394.4 202.4,1423.3 226.8,1423.3" fill="#ff0000"/>
<rect x="212.1" y="1422.3" width="5.0" height="19.0" fill="#ff0000"/>
<polygon points="923.5,1393.0 911.6,1421.4 935.4,1421.4" fill="#ff0000"/>
<rect x="921.0" y="1420.4" width="5.0" height="21.0" fill="#ff0000"/>
<text x="230.3" y="446.7" font-size="30.5" font-style="italic" fill="#000">T<tspan font-size="22.9" dx="-2" dy="8.3">Bmin</tspan><tspan dy="-8.3"> = 4.9ºC</tspan></text>
<text x="959.0" y="434.6" font-size="30.5" font-style="italic" fill="#000">T<tspan font-size="22.9" dx="-2" dy="8.3">Bmin</tspan><tspan dy="-8.3"> = 6.2ºC</tspan></text>
<text x="202.0" y="911.8" font-size="30.5" font-style="italic" fill="#000">T<tspan font-size="22.9" dx="-2" dy="8.3">Bmin</tspan><tspan dy="-8.3"> = 4.5ºC</tspan></text>
<text x="921.0" y="905.7" font-size="30.5" font-style="italic" fill="#000">T<tspan font-size="22.9" dx="-2" dy="8.3">Bmin</tspan><tspan dy="-8.3"> = 3.5ºC</tspan></text>
<text x="149.5" y="1481.9" font-size="35.3" font-style="italic" fill="#000">T<tspan font-size="26.5" dx="-2" dy="9.3">Bmin</tspan><tspan dy="-9.3"> = 2.4 ºC</tspan></text>
<text x="879.3" y="1481.2" font-size="35.3" font-style="italic" fill="#000">T<tspan font-size="26.5" dx="-2" dy="9.3">Bmin</tspan><tspan dy="-9.3"> = 0.09 ºC</tspan></text>
<text x="431.4" y="122.7" font-size="35" fill="#000">M<tspan font-size="25.9" dy="10.7">B</tspan><tspan dy="-10.7">=54.8g</tspan></text>
<text x="1055.5" y="144.1" font-size="35" fill="#000">M<tspan font-size="25.9" dy="10.7">B</tspan><tspan dy="-10.7">=29.7g</tspan></text>
<text x="452.7" y="606.0" font-size="35" fill="#000">M<tspan font-size="25.9" dy="10.7">B</tspan><tspan dy="-10.7">=34.5g</tspan></text>
<text x="1167.5" y="603.0" font-size="35" fill="#000">M<tspan font-size="25.9" dy="10.7">B</tspan><tspan dy="-10.7">=29.7g</tspan></text>
<text x="353.0" y="1105.0" font-size="41.5" fill="#000">M<tspan font-size="30.7" dy="12.7">B</tspan><tspan dy="-12.7">=26.1g</tspan></text>
<text x="1073.0" y="1108.0" font-size="41.5" fill="#000">M<tspan font-size="30.7" dy="12.7">B</tspan><tspan dy="-12.7">=26.2g</tspan></text>
<line x1="1277.0" y1="59.0" x2="1314.0" y2="59.0" stroke="#ff0000" stroke-width="1.6" stroke-linecap="butt"/>
<circle cx="1294.7" cy="59" r="2.2" fill="#ff0000"/>
<text x="1331.8" y="72.4" font-size="40.5" text-anchor="start" font-weight="normal" font-style="normal" fill="#000" >active</text>
<rect x="1288.2" y="112.0" width="15.8" height="14.0" fill="#000"/>
<text x="1331.2" y="131.0" font-size="40.5" text-anchor="start" font-weight="normal" font-style="normal" fill="#000" >torpid</text>
<text x="0.0" y="0.0" font-size="37.5" text-anchor="start" font-weight="normal" font-style="normal" fill="#000" transform="translate(68,960.6) rotate(-90)">Thermal differential (T<tspan font-size="27" dy="11.5">B</tspan><tspan dy="-11.5">-T</tspan><tspan font-size="27" dy="11.5">A</tspan><tspan dy="-11.5">)</tspan></text>
<text x="471.6" y="1554.3" font-size="36.9" text-anchor="start" font-weight="normal" font-style="normal" fill="#000" >Ambient Temperature (ºC)</text></svg>
</body></html>
